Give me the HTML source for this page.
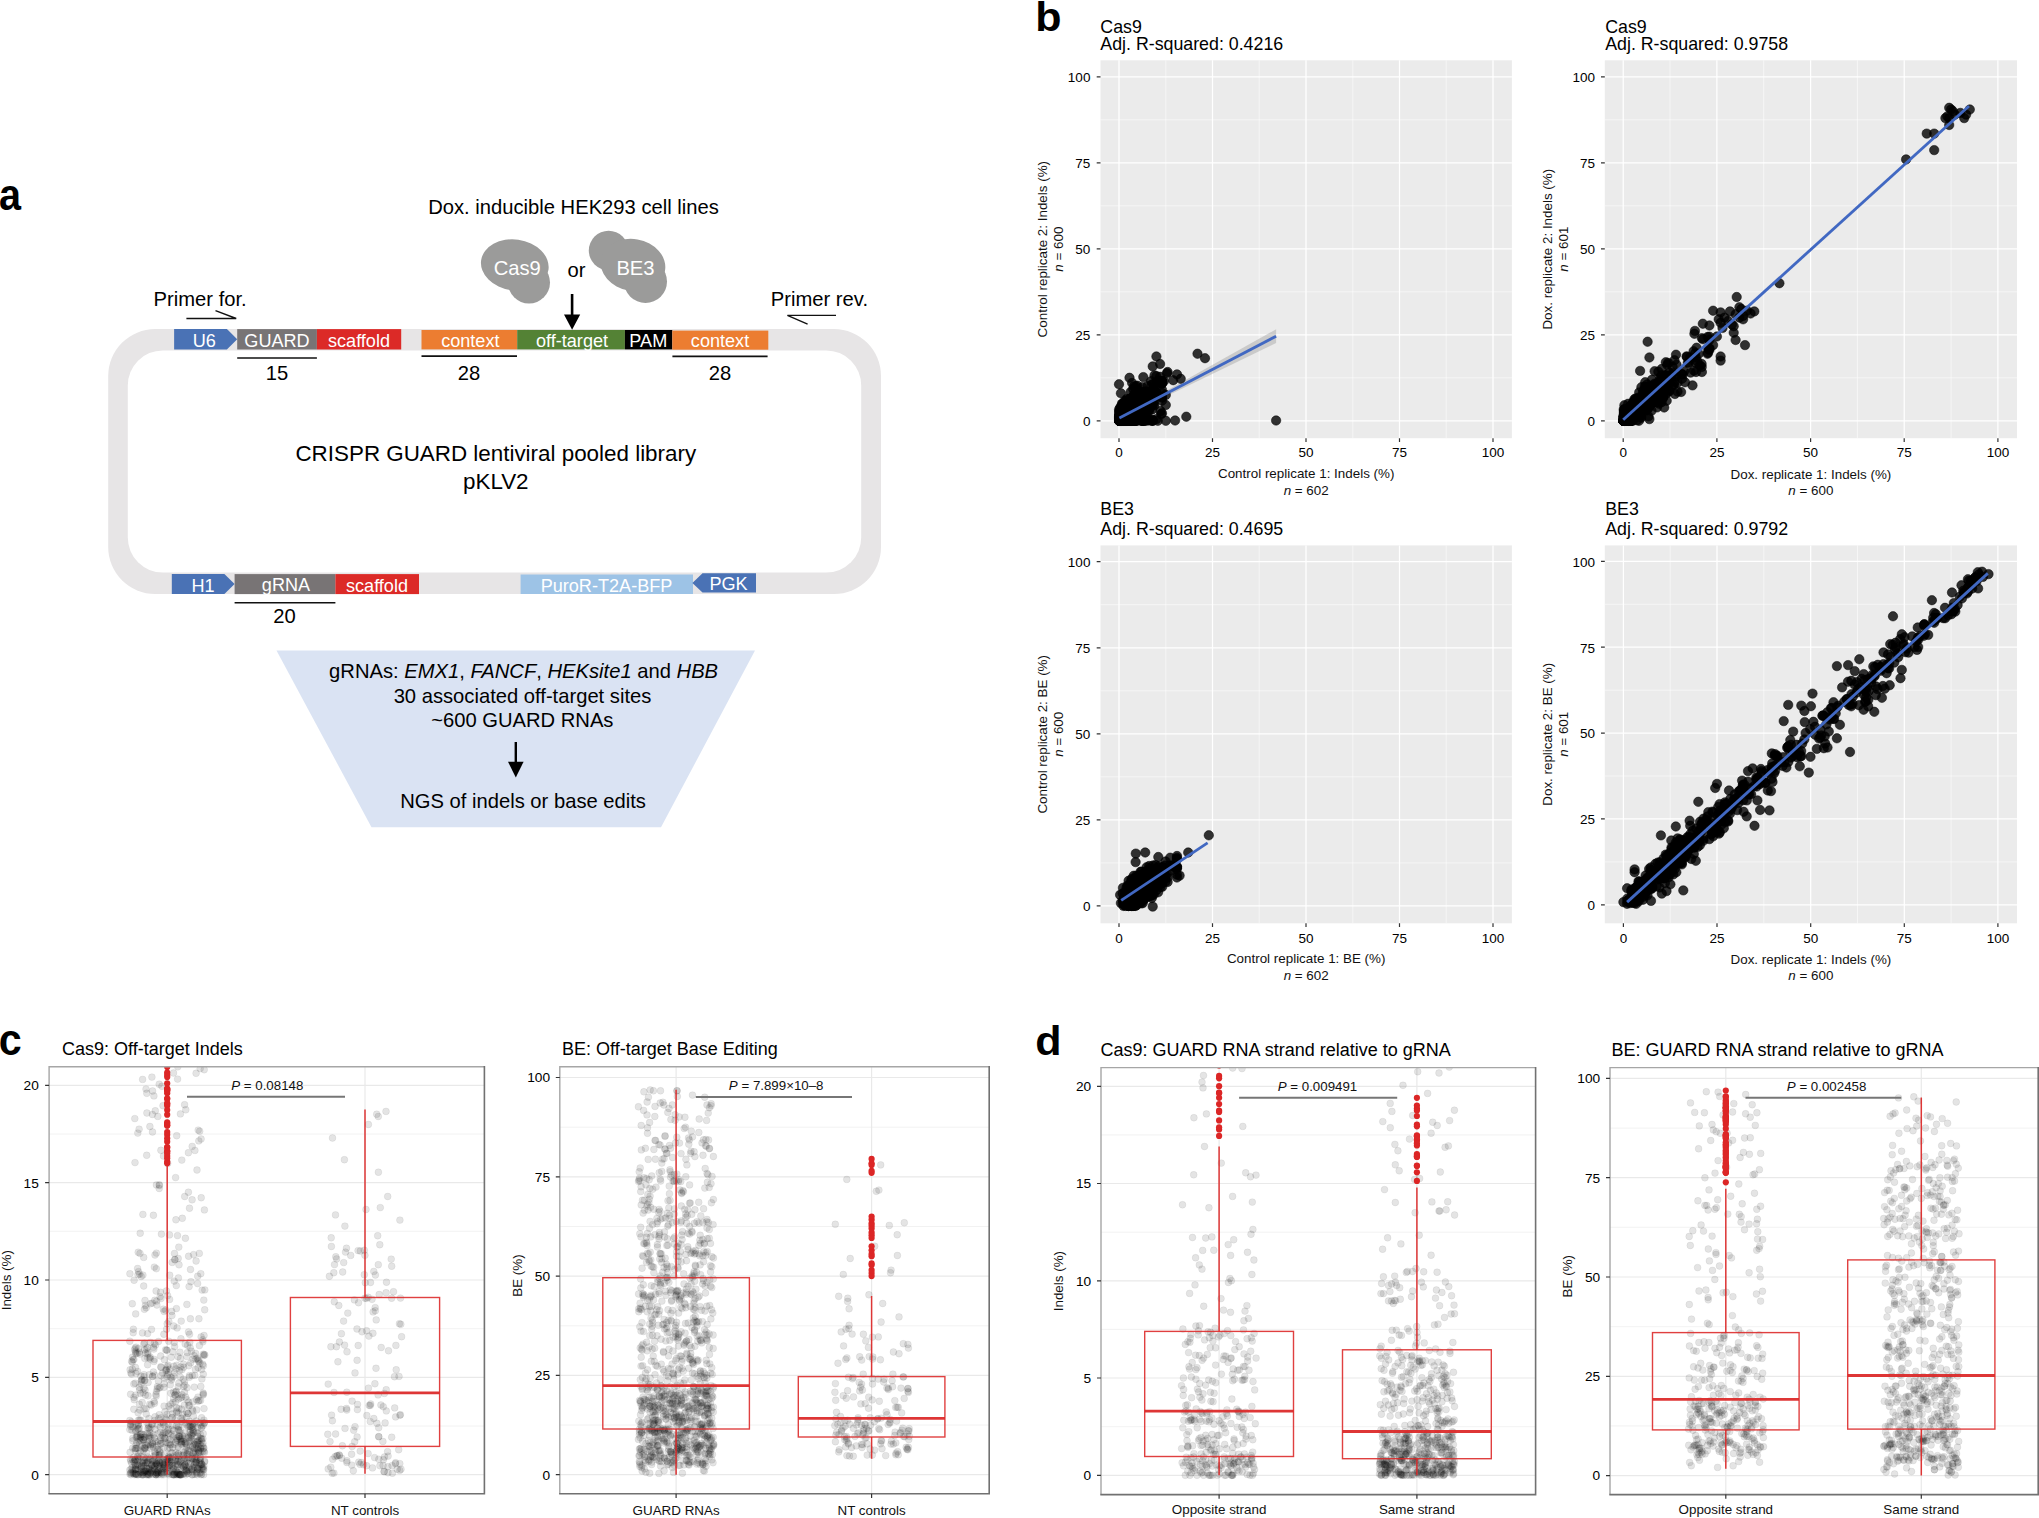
<!DOCTYPE html>
<html><head><meta charset="utf-8"><title>CRISPR GUARD figure</title>
<style>
html,body{margin:0;padding:0;background:#fff}
svg{display:block}
text{font-family:"Liberation Sans",Arial,Helvetica,sans-serif;fill:#000}
.w{fill:#fff}
.t20{font-size:20.2px}
.blk{font-size:18.1px;fill:#fff;text-anchor:middle}
.m{text-anchor:middle}
.e{text-anchor:end}
.tk{font-size:13.5px;fill:#000}
.ax{font-size:13.4px;fill:#111}
.tt{font-size:18px}
.pl{font-size:13.3px;fill:#111}
.lab{font-size:41.2px;font-weight:bold}
.bp circle{r:4.7px}
.jp circle{r:3.45px}
.op circle{r:3.1px}
</style></head><body>
<svg width="2039" height="1518" viewBox="0 0 2039 1518">
<rect width="2039" height="1518" fill="#fff"/>

<g id="panel-a">
<text class="lab" transform="translate(-1.1 210.2) scale(0.96 1.09)">a</text>
<rect x="108.2" y="329.1" width="772.8" height="265" rx="47" ry="47" fill="#e7e5e6"/>
<rect x="127.8" y="350.4" width="733.4" height="222.2" rx="35" ry="35" fill="#fff"/>
<path d="M174.1 329.1H226.9L237.2 339.3L226.9 349.5H174.1Z" fill="#4a72b5"/>
<rect x="237.2" y="329.1" width="79.7" height="20.4" fill="#787475"/>
<rect x="316.9" y="329.1" width="84.3" height="20.4" fill="#dc2a27"/>
<rect x="421.5" y="330" width="95.7" height="19.4" fill="#ec7d31"/>
<rect x="517.2" y="330" width="107.7" height="19.4" fill="#548235"/>
<rect x="624.9" y="330" width="47.4" height="19.4" fill="#000"/>
<rect x="672.3" y="330.6" width="96" height="19.1" fill="#ec7d31"/>
<text class="blk" x="204.2" y="346.6">U6</text>
<text class="blk" x="277" y="346.8">GUARD</text>
<text class="blk" x="359" y="346.8">scaffold</text>
<text class="blk" x="470.3" y="346.5">context</text>
<text class="blk" x="572" y="346.5">off-target</text>
<text class="blk" x="648.3" y="347.4">PAM</text>
<text class="blk" x="720" y="346.9">context</text>
<g stroke="#111" stroke-width="1.6">
<line x1="237.2" y1="358" x2="316.9" y2="358"/>
<line x1="421.5" y1="356.1" x2="517" y2="356.1"/>
<line x1="672.4" y1="356.4" x2="767.6" y2="356.4"/>
<line x1="234.6" y1="602.7" x2="335.4" y2="602.7"/>
</g>
<text class="t20 m" x="277" y="380.2">15</text>
<text class="t20 m" x="469" y="380">28</text>
<text class="t20 m" x="720" y="380">28</text>
<text class="t20 m" x="284.5" y="623.3">20</text>
<text class="t20" x="153.6" y="305.6">Primer for.</text>
<text class="t20" x="770.8" y="305.8">Primer rev.</text>
<path d="M186.4 318.5H236.2L215.5 310.6" fill="none" stroke="#111" stroke-width="1.4"/>
<path d="M836 315.4H787.4L807.6 324.2" fill="none" stroke="#111" stroke-width="1.4"/>
<text class="t20" x="428.2" y="213.8">Dox. inducible HEK293 cell lines</text>
<g fill="#9b9b9a">
<ellipse cx="514.8" cy="265" rx="34" ry="25.5" transform="rotate(8 514.8 265)"/>
<circle cx="529" cy="282.5" r="21"/>
<circle cx="608.6" cy="250.5" r="19.8"/>
<ellipse cx="633" cy="265" rx="32.5" ry="26" transform="rotate(10 633 265)"/>
<circle cx="645.5" cy="281.5" r="21.5"/>
</g>
<text class="t20 m w" x="517.3" y="274.6">Cas9</text>
<text class="t20 m w" x="635.5" y="274.6">BE3</text>
<text class="t20 m" x="576.4" y="276.8">or</text>
<path d="M572.1 294V316" stroke="#000" stroke-width="2.6" fill="none"/><path d="M564 314.4H580.2L572.1 329.8Z" fill="#000"/>
<text class="m" style="font-size:22.4px" x="495.8" y="461">CRISPR GUARD lentiviral pooled library</text>
<text class="m" style="font-size:22.4px" x="495.8" y="488.5">pKLV2</text>
<path d="M171.8 574.1H224.4L234.6 584.1L224.4 594.1H171.8Z" fill="#4a72b5"/>
<rect x="234.6" y="574.1" width="100.8" height="20" fill="#787475"/>
<rect x="335.4" y="574.1" width="83.6" height="20" fill="#dc2a27"/>
<rect x="520.6" y="574.5" width="172.4" height="19.5" fill="#9dc3e6"/>
<path d="M692.4 583L702.5 573.3H756V592.6H702.5Z" fill="#4a72b5"/>
<text class="blk" x="203" y="591.9">H1</text>
<text class="blk" x="286" y="590.8">gRNA</text>
<text class="blk" x="377" y="591.9">scaffold</text>
<text class="blk" x="606.5" y="591.7">PuroR-T2A-BFP</text>
<text class="blk" x="728.5" y="590.3">PGK</text>
<path d="M276.5 650.6H755L661 827.2H371.5Z" fill="#dae3f3"/>
<text class="t20 m" x="523.6" y="678.1">gRNAs: <tspan font-style="italic">EMX1</tspan>, <tspan font-style="italic">FANCF</tspan>, <tspan font-style="italic">HEKsite1</tspan> and <tspan font-style="italic">HBB</tspan></text>
<text class="t20 m" x="522.5" y="702.8">30 associated off-target sites</text>
<text class="t20 m" x="522.3" y="727.1">~600 GUARD RNAs</text>
<path d="M515.8 742V764" stroke="#000" stroke-width="2.4" fill="none"/><path d="M508 761.7H523.6L515.8 777.4Z" fill="#000"/>
<text class="t20 m" x="523.1" y="807.6">NGS of indels or base edits</text>
</g>
<g id="panel-b1">
<rect x="1100.5" y="60.3" width="411.4" height="377.9" fill="#ebebeb"/>
<path d="M1165.8 60.3V438.2M1100.5 377.8H1511.9M1259.2 60.3V438.2M1100.5 291.8H1511.9M1352.8 60.3V438.2M1100.5 205.8H1511.9M1446.2 60.3V438.2M1100.5 119.8H1511.9" stroke="#fff" stroke-width="0.6" fill="none" opacity="0.9"/>
<path d="M1119 60.3V438.2M1100.5 420.8H1511.9M1212.5 60.3V438.2M1100.5 334.8H1511.9M1306 60.3V438.2M1100.5 248.8H1511.9M1399.5 60.3V438.2M1100.5 162.8H1511.9M1493 60.3V438.2M1100.5 76.8H1511.9" stroke="#fff" stroke-width="1.25" fill="none"/>
<path d="M1119 438.2v3.8M1100.5 420.8h-3.8M1212.5 438.2v3.8M1100.5 334.8h-3.8M1306 438.2v3.8M1100.5 248.8h-3.8M1399.5 438.2v3.8M1100.5 162.8h-3.8M1493 438.2v3.8M1100.5 76.8h-3.8" stroke="#333" stroke-width="1.2" fill="none"/>
<text class="tk m" x="1119" y="457.4">0</text>
<text class="tk e" x="1090.4" y="426.1">0</text>
<text class="tk m" x="1212.5" y="457.4">25</text>
<text class="tk e" x="1090.4" y="340.1">25</text>
<text class="tk m" x="1306" y="457.4">50</text>
<text class="tk e" x="1090.4" y="254.1">50</text>
<text class="tk m" x="1399.5" y="457.4">75</text>
<text class="tk e" x="1090.4" y="168.1">75</text>
<text class="tk m" x="1493" y="457.4">100</text>
<text class="tk e" x="1090.4" y="82.1">100</text>
<path d="M1119 417.2L1276.1 329.3L1276.1 343.1L1119 419.3Z" fill="#999" opacity="0.4"/>
<g class="bp" fill="#000" fill-opacity="0.8" stroke="#000" stroke-opacity="0.85" stroke-width="0.6">
<circle cx="1127.7" cy="411.1"/><circle cx="1131.7" cy="420.2"/><circle cx="1126" cy="408.4"/><circle cx="1130" cy="420.5"/><circle cx="1121.5" cy="417.6"/><circle cx="1160.8" cy="383.4"/><circle cx="1119.1" cy="416"/><circle cx="1153.7" cy="383.9"/><circle cx="1126.1" cy="412.2"/><circle cx="1122.7" cy="418.4"/><circle cx="1125.7" cy="419.9"/><circle cx="1122.9" cy="420.8"/><circle cx="1130.1" cy="420.8"/><circle cx="1132.3" cy="406.6"/><circle cx="1142.3" cy="420.4"/><circle cx="1121.7" cy="415.6"/><circle cx="1157.8" cy="420.8"/><circle cx="1128.1" cy="416.3"/><circle cx="1123.3" cy="419.8"/><circle cx="1129.9" cy="419.4"/><circle cx="1119.9" cy="420.8"/><circle cx="1119.7" cy="419.9"/><circle cx="1134.1" cy="420.6"/><circle cx="1128.5" cy="410.7"/><circle cx="1146.1" cy="411.3"/><circle cx="1124.9" cy="415.6"/><circle cx="1125.4" cy="410.4"/><circle cx="1133.6" cy="420.8"/><circle cx="1125.5" cy="415.9"/><circle cx="1119.3" cy="416.1"/><circle cx="1122.6" cy="413"/><circle cx="1131.5" cy="398"/><circle cx="1126.8" cy="406.7"/><circle cx="1136.2" cy="406.2"/><circle cx="1119.1" cy="417.3"/><circle cx="1130.2" cy="406.5"/><circle cx="1122.1" cy="419.9"/><circle cx="1123.4" cy="416.5"/><circle cx="1152.7" cy="420.8"/><circle cx="1136.3" cy="390.4"/><circle cx="1162" cy="397.7"/><circle cx="1140.6" cy="407.4"/><circle cx="1146.7" cy="401"/><circle cx="1120.8" cy="420.4"/><circle cx="1122.7" cy="419.8"/><circle cx="1121.9" cy="409.3"/><circle cx="1133.2" cy="420.6"/><circle cx="1134.1" cy="412.1"/><circle cx="1120.6" cy="418.8"/><circle cx="1123.7" cy="411.5"/><circle cx="1132.2" cy="402.7"/><circle cx="1119.8" cy="420.3"/><circle cx="1120.2" cy="420.8"/><circle cx="1129.8" cy="410.2"/><circle cx="1142.1" cy="413.4"/><circle cx="1152.3" cy="420.8"/><circle cx="1127.7" cy="419.8"/><circle cx="1135.1" cy="405.3"/><circle cx="1128.4" cy="410"/><circle cx="1130.6" cy="416.1"/><circle cx="1120.8" cy="412.6"/><circle cx="1149.8" cy="405"/><circle cx="1129.9" cy="404.3"/><circle cx="1129.8" cy="419.8"/><circle cx="1119.3" cy="420.8"/><circle cx="1132.4" cy="420.8"/><circle cx="1132.1" cy="417.4"/><circle cx="1132.1" cy="405.9"/><circle cx="1126" cy="420.5"/><circle cx="1135.8" cy="418.1"/><circle cx="1138.4" cy="407.3"/><circle cx="1127" cy="416.7"/><circle cx="1123.3" cy="411.1"/><circle cx="1140" cy="413.9"/><circle cx="1127.3" cy="417.2"/><circle cx="1128.3" cy="404.9"/><circle cx="1120.4" cy="407.1"/><circle cx="1122" cy="406.3"/><circle cx="1144.3" cy="404"/><circle cx="1128" cy="412.2"/><circle cx="1119.3" cy="411.6"/><circle cx="1135.4" cy="410.9"/><circle cx="1125.1" cy="420.8"/><circle cx="1155.4" cy="396.9"/><circle cx="1129.4" cy="409.6"/><circle cx="1131.1" cy="418.7"/><circle cx="1124.4" cy="420.8"/><circle cx="1119.2" cy="420.8"/><circle cx="1162" cy="383.6"/><circle cx="1124.8" cy="420.2"/><circle cx="1144.5" cy="406.3"/><circle cx="1120.8" cy="416.7"/><circle cx="1152.8" cy="391.1"/><circle cx="1119.2" cy="420.2"/><circle cx="1129.6" cy="409.1"/><circle cx="1120.1" cy="420.8"/><circle cx="1121.3" cy="419.3"/><circle cx="1138.6" cy="418.4"/><circle cx="1151.7" cy="384.7"/><circle cx="1127.4" cy="414.3"/><circle cx="1137" cy="416"/><circle cx="1132.4" cy="414.3"/><circle cx="1124.9" cy="416.9"/><circle cx="1146.5" cy="394.7"/><circle cx="1141.7" cy="420.8"/><circle cx="1123.2" cy="420.8"/><circle cx="1127.9" cy="416.5"/><circle cx="1133.2" cy="389"/><circle cx="1133.2" cy="402.7"/><circle cx="1120" cy="420"/><circle cx="1162" cy="382.8"/><circle cx="1119.1" cy="409.5"/><circle cx="1136.3" cy="411.4"/><circle cx="1134.8" cy="413.3"/><circle cx="1122.5" cy="410.1"/><circle cx="1127.4" cy="420.7"/><circle cx="1123.6" cy="412.3"/><circle cx="1119.2" cy="420.8"/><circle cx="1129" cy="399"/><circle cx="1133.8" cy="395.5"/><circle cx="1133.2" cy="406"/><circle cx="1162" cy="383.3"/><circle cx="1121.1" cy="420.8"/><circle cx="1121.4" cy="414.1"/><circle cx="1126.2" cy="416"/><circle cx="1121.6" cy="419.8"/><circle cx="1125.8" cy="410.6"/><circle cx="1153.5" cy="404.7"/><circle cx="1135.6" cy="420.8"/><circle cx="1126.4" cy="412.2"/><circle cx="1128.2" cy="419.9"/><circle cx="1162" cy="400.7"/><circle cx="1125.7" cy="418.9"/><circle cx="1133" cy="414"/><circle cx="1142.2" cy="420.8"/><circle cx="1134.4" cy="399.3"/><circle cx="1134" cy="408.2"/><circle cx="1139.4" cy="395.9"/><circle cx="1122.1" cy="406.4"/><circle cx="1126.5" cy="414.5"/><circle cx="1135.9" cy="420.8"/><circle cx="1127.4" cy="420.3"/><circle cx="1146.3" cy="418.8"/><circle cx="1120.4" cy="420.4"/><circle cx="1125.8" cy="414.5"/><circle cx="1123.3" cy="420.8"/><circle cx="1132.3" cy="408.5"/><circle cx="1124.9" cy="420.7"/><circle cx="1162" cy="389.9"/><circle cx="1130.1" cy="413.5"/><circle cx="1152.1" cy="404.9"/><circle cx="1139.9" cy="420.2"/><circle cx="1133.2" cy="415.6"/><circle cx="1134" cy="415.9"/><circle cx="1126.3" cy="420.8"/><circle cx="1123" cy="416.7"/><circle cx="1122.2" cy="406.9"/><circle cx="1120.4" cy="408.3"/><circle cx="1147.5" cy="386"/><circle cx="1126.8" cy="409.6"/><circle cx="1122.7" cy="420.4"/><circle cx="1135.3" cy="396.3"/><circle cx="1125.8" cy="415.4"/><circle cx="1130.4" cy="413"/><circle cx="1149.4" cy="405.9"/><circle cx="1121.8" cy="416.7"/><circle cx="1129.9" cy="416.1"/><circle cx="1120.2" cy="418.5"/><circle cx="1124.1" cy="420.8"/><circle cx="1126.8" cy="417"/><circle cx="1122.4" cy="404.4"/><circle cx="1119.1" cy="419"/><circle cx="1123.2" cy="417.8"/><circle cx="1140.6" cy="401.1"/><circle cx="1134.9" cy="403.5"/><circle cx="1125.8" cy="420.8"/><circle cx="1121.6" cy="418.4"/><circle cx="1146.2" cy="392.3"/><circle cx="1135.8" cy="406.9"/><circle cx="1162" cy="392.9"/><circle cx="1124.8" cy="405.9"/><circle cx="1145.9" cy="412.3"/><circle cx="1119.7" cy="418"/><circle cx="1119.5" cy="420.8"/><circle cx="1119.3" cy="411.7"/><circle cx="1119.7" cy="420.8"/><circle cx="1124.5" cy="419.8"/><circle cx="1119.8" cy="420.8"/><circle cx="1138.1" cy="401.5"/><circle cx="1119.4" cy="415.7"/><circle cx="1125.1" cy="420.2"/><circle cx="1121.6" cy="420.8"/><circle cx="1129.4" cy="407.4"/><circle cx="1119.3" cy="419.9"/><circle cx="1125.8" cy="419.3"/><circle cx="1154.7" cy="391"/><circle cx="1132.8" cy="419"/><circle cx="1123.6" cy="420.8"/><circle cx="1138.7" cy="411.6"/><circle cx="1127.7" cy="420.8"/><circle cx="1121.1" cy="420.8"/><circle cx="1140.4" cy="402.9"/><circle cx="1119.9" cy="420.1"/><circle cx="1138.9" cy="391.4"/><circle cx="1143.7" cy="407.5"/><circle cx="1131.3" cy="420.8"/><circle cx="1123.3" cy="420.7"/><circle cx="1143.6" cy="415.9"/><circle cx="1120.5" cy="420.8"/><circle cx="1124.5" cy="413"/><circle cx="1135.9" cy="415.5"/><circle cx="1131.1" cy="420.8"/><circle cx="1129.3" cy="407.8"/><circle cx="1162" cy="396.9"/><circle cx="1128.6" cy="410.9"/><circle cx="1121.9" cy="416.6"/><circle cx="1126.9" cy="410.1"/><circle cx="1137.5" cy="408.2"/><circle cx="1120.9" cy="411.5"/><circle cx="1137.6" cy="404.3"/><circle cx="1153.7" cy="393.8"/><circle cx="1129.4" cy="409.9"/><circle cx="1120" cy="420.8"/><circle cx="1122.5" cy="417.7"/><circle cx="1124.4" cy="417.3"/><circle cx="1128" cy="412.3"/><circle cx="1125.4" cy="420.8"/><circle cx="1142.4" cy="387.2"/><circle cx="1130.9" cy="411.3"/><circle cx="1122.3" cy="420.8"/><circle cx="1119.4" cy="420.8"/><circle cx="1122.3" cy="420.5"/><circle cx="1122.4" cy="417.4"/><circle cx="1137.4" cy="415.7"/><circle cx="1123.7" cy="420.4"/><circle cx="1149.3" cy="410.6"/><circle cx="1130.5" cy="408"/><circle cx="1133.5" cy="417.1"/><circle cx="1138.9" cy="408.2"/><circle cx="1119.2" cy="414.2"/><circle cx="1130.6" cy="392.1"/><circle cx="1120.7" cy="420.8"/><circle cx="1130.1" cy="416.2"/><circle cx="1138.8" cy="416.4"/><circle cx="1125.8" cy="409.9"/><circle cx="1123.1" cy="420.8"/><circle cx="1136.1" cy="413.9"/><circle cx="1126" cy="415.1"/><circle cx="1121.9" cy="420.8"/><circle cx="1124.6" cy="420.8"/><circle cx="1126.5" cy="417.8"/><circle cx="1120.2" cy="420.8"/><circle cx="1130.3" cy="420.8"/><circle cx="1154.3" cy="405.4"/><circle cx="1124.9" cy="414.5"/><circle cx="1119.4" cy="419.3"/><circle cx="1136.6" cy="420.8"/><circle cx="1121.8" cy="419.6"/><circle cx="1120" cy="414.3"/><circle cx="1120.6" cy="415.1"/><circle cx="1119.3" cy="418.9"/><circle cx="1124.8" cy="420.8"/><circle cx="1129" cy="408.6"/><circle cx="1122.4" cy="420"/><circle cx="1136.6" cy="420.3"/><circle cx="1129.1" cy="419.1"/><circle cx="1123.7" cy="420.6"/><circle cx="1127.8" cy="412.3"/><circle cx="1135.9" cy="398.5"/><circle cx="1123.2" cy="419.2"/><circle cx="1126.4" cy="408.4"/><circle cx="1121.4" cy="420.5"/><circle cx="1123" cy="417.4"/><circle cx="1152.7" cy="420.5"/><circle cx="1129.9" cy="406.8"/><circle cx="1127.3" cy="417.6"/><circle cx="1150.8" cy="402.4"/><circle cx="1120.3" cy="416.4"/><circle cx="1142.1" cy="392.3"/><circle cx="1147" cy="409.5"/><circle cx="1122.7" cy="420.8"/><circle cx="1136.5" cy="411.8"/><circle cx="1143.1" cy="405.2"/><circle cx="1145.7" cy="420.6"/><circle cx="1132.1" cy="400.5"/><circle cx="1120" cy="416.7"/><circle cx="1120.3" cy="414.1"/><circle cx="1161.1" cy="414.1"/><circle cx="1139.7" cy="398.1"/><circle cx="1162" cy="381.2"/><circle cx="1130" cy="406.7"/><circle cx="1139.1" cy="405"/><circle cx="1119.5" cy="417.7"/><circle cx="1134.1" cy="394.5"/><circle cx="1123.8" cy="420.8"/><circle cx="1127.6" cy="414.8"/><circle cx="1120.5" cy="415.6"/><circle cx="1148.3" cy="392.9"/><circle cx="1128.6" cy="416.6"/><circle cx="1126.5" cy="419.9"/><circle cx="1126.7" cy="416.4"/><circle cx="1119.4" cy="418"/><circle cx="1153.9" cy="401.4"/><circle cx="1126.4" cy="420.8"/><circle cx="1123.6" cy="416.3"/><circle cx="1123.4" cy="411.2"/><circle cx="1139.9" cy="417.5"/><circle cx="1125.7" cy="416.6"/><circle cx="1122.3" cy="413.3"/><circle cx="1162" cy="413.3"/><circle cx="1126.7" cy="413.3"/><circle cx="1121.7" cy="420.8"/><circle cx="1136.1" cy="419.9"/><circle cx="1137.4" cy="385.7"/><circle cx="1125.3" cy="402.5"/><circle cx="1122.6" cy="417.9"/><circle cx="1162" cy="382.3"/><circle cx="1123.1" cy="415.8"/><circle cx="1124.6" cy="415"/><circle cx="1157.2" cy="381.2"/><circle cx="1124.2" cy="420.8"/><circle cx="1123" cy="410.5"/><circle cx="1146.5" cy="404.2"/><circle cx="1128.2" cy="420.4"/><circle cx="1131.2" cy="410.5"/><circle cx="1124.8" cy="419.7"/><circle cx="1139.9" cy="404.3"/><circle cx="1120.5" cy="414.3"/><circle cx="1141.9" cy="420.1"/><circle cx="1122" cy="414.5"/><circle cx="1123.3" cy="419.4"/><circle cx="1119.4" cy="420.8"/><circle cx="1142.8" cy="420.3"/><circle cx="1140.8" cy="399.1"/><circle cx="1146.8" cy="401.5"/><circle cx="1123.2" cy="416"/><circle cx="1121.4" cy="412"/><circle cx="1140.6" cy="411.8"/><circle cx="1125" cy="419.8"/><circle cx="1139.1" cy="409.6"/><circle cx="1125" cy="408"/><circle cx="1125.5" cy="420.8"/><circle cx="1119.4" cy="420.5"/><circle cx="1138.1" cy="414.6"/><circle cx="1123.6" cy="420.4"/><circle cx="1120.2" cy="412"/><circle cx="1133.6" cy="411.5"/><circle cx="1127.1" cy="420.8"/><circle cx="1124" cy="418.1"/><circle cx="1141.8" cy="395.8"/><circle cx="1123.9" cy="409"/><circle cx="1130.4" cy="419.8"/><circle cx="1122.6" cy="414.5"/><circle cx="1135.5" cy="403"/><circle cx="1152.1" cy="409.6"/><circle cx="1137.1" cy="405.3"/><circle cx="1125.4" cy="415.4"/><circle cx="1149" cy="409.3"/><circle cx="1131.8" cy="415.7"/><circle cx="1121.4" cy="417.1"/><circle cx="1121.8" cy="417"/><circle cx="1121.1" cy="420.4"/><circle cx="1139.2" cy="420.4"/><circle cx="1162" cy="381.2"/><circle cx="1140.2" cy="404.7"/><circle cx="1119.6" cy="414.3"/><circle cx="1129.3" cy="404"/><circle cx="1148.1" cy="395"/><circle cx="1126.9" cy="398.9"/><circle cx="1119.4" cy="420.8"/><circle cx="1123.1" cy="411.9"/><circle cx="1123.2" cy="418.2"/><circle cx="1121.2" cy="408"/><circle cx="1122.9" cy="407"/><circle cx="1145.2" cy="420.8"/><circle cx="1134.2" cy="419"/><circle cx="1127" cy="409.8"/><circle cx="1144.2" cy="395.4"/><circle cx="1146.7" cy="394.2"/><circle cx="1126.1" cy="415.3"/><circle cx="1130.4" cy="408.9"/><circle cx="1123.5" cy="412.5"/><circle cx="1121.6" cy="417.7"/><circle cx="1127.3" cy="407"/><circle cx="1119.8" cy="420.8"/><circle cx="1127.6" cy="409.6"/><circle cx="1120.4" cy="420.8"/><circle cx="1126.4" cy="408.3"/><circle cx="1130.1" cy="420.2"/><circle cx="1125.5" cy="420.8"/><circle cx="1140.9" cy="402.6"/><circle cx="1126.2" cy="419.8"/><circle cx="1126.5" cy="420.7"/><circle cx="1121.1" cy="420.8"/><circle cx="1129.8" cy="413"/><circle cx="1148.4" cy="420.5"/><circle cx="1145.7" cy="391.4"/><circle cx="1120.3" cy="418.7"/><circle cx="1140.7" cy="395.4"/><circle cx="1135.5" cy="409.4"/><circle cx="1142.8" cy="406.7"/><circle cx="1148.4" cy="395"/><circle cx="1132.4" cy="402.4"/><circle cx="1129.5" cy="415.5"/><circle cx="1142.7" cy="408.4"/><circle cx="1136" cy="410.9"/><circle cx="1123.9" cy="415.5"/><circle cx="1134.8" cy="418.2"/><circle cx="1124.1" cy="409.8"/><circle cx="1133.9" cy="420"/><circle cx="1127" cy="411.2"/><circle cx="1123.4" cy="420.8"/><circle cx="1124.2" cy="413.7"/><circle cx="1119.1" cy="416.9"/><circle cx="1143.1" cy="410.3"/><circle cx="1126.8" cy="400.8"/><circle cx="1123.8" cy="413.9"/><circle cx="1126.9" cy="402.3"/><circle cx="1135.3" cy="400.8"/><circle cx="1128.4" cy="418.3"/><circle cx="1124.2" cy="418.2"/><circle cx="1132.9" cy="407.3"/><circle cx="1130.7" cy="411.8"/><circle cx="1148.7" cy="401.7"/><circle cx="1120.2" cy="419.5"/><circle cx="1131.1" cy="420.8"/><circle cx="1129.6" cy="414.6"/><circle cx="1134.7" cy="420.8"/><circle cx="1119.7" cy="416.6"/><circle cx="1123.4" cy="420.5"/><circle cx="1121" cy="420.8"/><circle cx="1125.2" cy="416.7"/><circle cx="1145" cy="401.1"/><circle cx="1121.7" cy="420.8"/><circle cx="1133.6" cy="420.7"/><circle cx="1147.3" cy="416.8"/><circle cx="1130.9" cy="420.8"/><circle cx="1130" cy="420.1"/><circle cx="1151.1" cy="381.2"/><circle cx="1140.2" cy="418.3"/><circle cx="1127.6" cy="409.4"/><circle cx="1142.5" cy="420"/><circle cx="1127.4" cy="412"/><circle cx="1125.3" cy="417.3"/><circle cx="1132.4" cy="411.9"/><circle cx="1139.1" cy="401.7"/><circle cx="1125.6" cy="403.8"/><circle cx="1134.6" cy="408.4"/><circle cx="1129.4" cy="412"/><circle cx="1127.4" cy="420.8"/><circle cx="1143.1" cy="398.7"/><circle cx="1121.8" cy="418.5"/><circle cx="1120.4" cy="413.9"/><circle cx="1133.8" cy="410.9"/><circle cx="1129.2" cy="400.1"/><circle cx="1152.7" cy="420"/><circle cx="1131" cy="414.5"/><circle cx="1146.3" cy="392.7"/><circle cx="1127.1" cy="416.7"/><circle cx="1119.5" cy="420.8"/><circle cx="1132.1" cy="413.7"/><circle cx="1122.1" cy="420.8"/><circle cx="1125.5" cy="414.4"/><circle cx="1159.5" cy="381.2"/><circle cx="1126.4" cy="407.1"/><circle cx="1126.7" cy="420.8"/><circle cx="1125.9" cy="420.6"/><circle cx="1148.4" cy="419.9"/><circle cx="1120.8" cy="412.8"/><circle cx="1125.9" cy="420.3"/><circle cx="1122.2" cy="419.8"/><circle cx="1124.4" cy="410.4"/><circle cx="1132.9" cy="403.6"/><circle cx="1126.1" cy="417.3"/><circle cx="1144.3" cy="418.1"/><circle cx="1134.3" cy="420.1"/><circle cx="1124.6" cy="419.9"/><circle cx="1126.1" cy="420.8"/><circle cx="1124.9" cy="410.8"/><circle cx="1129.6" cy="417.7"/><circle cx="1139" cy="402.7"/><circle cx="1162" cy="381.2"/><circle cx="1121.4" cy="411.4"/><circle cx="1136.9" cy="420.1"/><circle cx="1122.5" cy="412"/><circle cx="1142.9" cy="392.2"/><circle cx="1133.4" cy="419.8"/><circle cx="1125.3" cy="420.8"/><circle cx="1129.9" cy="413.6"/><circle cx="1143.3" cy="420.8"/><circle cx="1123.8" cy="407.4"/><circle cx="1143.7" cy="420.8"/><circle cx="1130.3" cy="420.8"/><circle cx="1151" cy="420.5"/><circle cx="1139.4" cy="409.9"/><circle cx="1131" cy="410.8"/><circle cx="1126.7" cy="412.6"/><circle cx="1140" cy="409.4"/><circle cx="1142.1" cy="420.3"/><circle cx="1120.9" cy="420.8"/><circle cx="1139.3" cy="407.6"/><circle cx="1124.6" cy="420"/><circle cx="1129.2" cy="412.1"/><circle cx="1119.5" cy="417.4"/><circle cx="1160.6" cy="411"/><circle cx="1126.6" cy="418.8"/><circle cx="1132" cy="405"/><circle cx="1146.3" cy="399.3"/><circle cx="1129.5" cy="418.1"/><circle cx="1123.6" cy="404.3"/><circle cx="1123.4" cy="403"/><circle cx="1142.4" cy="420.6"/><circle cx="1123.9" cy="414.2"/><circle cx="1122" cy="403.6"/><circle cx="1143.5" cy="396"/><circle cx="1121.1" cy="416.4"/><circle cx="1136.9" cy="410.9"/><circle cx="1123.5" cy="419.4"/><circle cx="1119.6" cy="419.4"/><circle cx="1145.4" cy="410.9"/><circle cx="1153.4" cy="388.9"/><circle cx="1139.8" cy="411.5"/><circle cx="1125.9" cy="417.8"/><circle cx="1120.1" cy="420.8"/><circle cx="1122.8" cy="416.9"/><circle cx="1125.7" cy="420.8"/><circle cx="1141.5" cy="408.3"/><circle cx="1162" cy="381.2"/><circle cx="1124.3" cy="413.6"/><circle cx="1123.7" cy="413.2"/><circle cx="1122.9" cy="414.6"/><circle cx="1133.7" cy="410.1"/><circle cx="1125.5" cy="416"/><circle cx="1122.3" cy="418.6"/><circle cx="1124" cy="411.5"/><circle cx="1141.3" cy="418.4"/><circle cx="1123.5" cy="408.5"/><circle cx="1130.5" cy="412.1"/><circle cx="1120.1" cy="420.8"/><circle cx="1121" cy="420.1"/><circle cx="1121.5" cy="420.8"/><circle cx="1121.9" cy="420.7"/><circle cx="1121.6" cy="420.8"/><circle cx="1136.1" cy="398.4"/><circle cx="1119.7" cy="420.8"/><circle cx="1120.6" cy="420.8"/><circle cx="1124.5" cy="420.2"/><circle cx="1132.8" cy="420.8"/><circle cx="1119.1" cy="418.9"/><circle cx="1128.4" cy="420.3"/><circle cx="1125" cy="411.4"/><circle cx="1123.5" cy="420.8"/><circle cx="1141.4" cy="414.8"/><circle cx="1121.4" cy="408.2"/><circle cx="1125.3" cy="413.3"/><circle cx="1124.9" cy="415.5"/><circle cx="1133.1" cy="401.9"/><circle cx="1136" cy="386.2"/><circle cx="1124.9" cy="420.1"/><circle cx="1146.5" cy="401.8"/><circle cx="1135.7" cy="420"/><circle cx="1122.8" cy="413.2"/><circle cx="1119.1" cy="420.8"/><circle cx="1141.4" cy="418.1"/><circle cx="1137.4" cy="408"/><circle cx="1131.2" cy="419.8"/><circle cx="1120.1" cy="418.4"/><circle cx="1132.3" cy="420.5"/><circle cx="1125.1" cy="400.7"/><circle cx="1121.1" cy="420.8"/><circle cx="1131.4" cy="412.9"/><circle cx="1119.2" cy="419.3"/><circle cx="1156" cy="391.6"/><circle cx="1130.8" cy="403.9"/><circle cx="1125.9" cy="418.1"/><circle cx="1123.9" cy="420.8"/><circle cx="1123.4" cy="420.8"/><circle cx="1138.6" cy="417.4"/><circle cx="1133.9" cy="405.7"/><circle cx="1124.1" cy="415.6"/><circle cx="1133" cy="419.7"/><circle cx="1119.6" cy="420.5"/><circle cx="1126" cy="414.6"/><circle cx="1125.1" cy="412.2"/><circle cx="1128.3" cy="417.9"/><circle cx="1276.1" cy="420.5"/><circle cx="1197.5" cy="353.7"/><circle cx="1205" cy="358.2"/><circle cx="1186.3" cy="416.7"/><circle cx="1175.1" cy="420.5"/><circle cx="1165.8" cy="420.8"/><circle cx="1156.4" cy="356.5"/><circle cx="1160.1" cy="364"/><circle cx="1152.7" cy="366.4"/><circle cx="1143.3" cy="377.1"/><circle cx="1129.5" cy="377.8"/><circle cx="1119" cy="384.3"/><circle cx="1177" cy="374.4"/><circle cx="1180.7" cy="378.8"/><circle cx="1167.6" cy="372"/><circle cx="1165.8" cy="405"/><circle cx="1165.8" cy="395"/><circle cx="1156.4" cy="376.1"/><circle cx="1120.9" cy="393.3"/><circle cx="1132.1" cy="383"/><circle cx="1134" cy="386.4"/><circle cx="1156.4" cy="419.1"/><circle cx="1163.9" cy="381.2"/><circle cx="1173.2" cy="380.2"/><circle cx="1160.1" cy="376.8"/><circle cx="1154.5" cy="375.4"/><circle cx="1166.9" cy="373.3"/>
</g>
<line x1="1119.4" y1="418" x2="1276.1" y2="336.2" stroke="#4168c2" stroke-width="2.85"/>
<text class="tt" style="font-size:17.8px" x="1100.3" y="32.6">Cas9</text>
<text class="tt" style="font-size:17.8px" x="1100.3" y="49.5">Adj. R-squared: 0.4216</text>
<text class="ax m" x="1306.2" y="477.7">Control replicate 1: Indels (%)</text>
<text class="ax m" x="1306.2" y="494.5"><tspan font-style="italic">n</tspan> = 602</text>
<text class="ax m" transform="translate(1046.6 249.2) rotate(-90)">Control replicate 2: Indels (%)</text>
<text class="ax m" transform="translate(1062.6 249.2) rotate(-90)"><tspan font-style="italic">n</tspan> = 600</text>
</g>
<g id="panel-b2">
<rect x="1604.8" y="60.3" width="412.2" height="377.9" fill="#ebebeb"/>
<path d="M1670 60.3V438.2M1604.8 377.8H2017M1763.7 60.3V438.2M1604.8 291.8H2017M1857.4 60.3V438.2M1604.8 205.8H2017M1951.1 60.3V438.2M1604.8 119.8H2017" stroke="#fff" stroke-width="0.6" fill="none" opacity="0.9"/>
<path d="M1623.2 60.3V438.2M1604.8 420.8H2017M1716.9 60.3V438.2M1604.8 334.8H2017M1810.6 60.3V438.2M1604.8 248.8H2017M1904.2 60.3V438.2M1604.8 162.8H2017M1997.9 60.3V438.2M1604.8 76.8H2017" stroke="#fff" stroke-width="1.25" fill="none"/>
<path d="M1623.2 438.2v3.8M1604.8 420.8h-3.8M1716.9 438.2v3.8M1604.8 334.8h-3.8M1810.6 438.2v3.8M1604.8 248.8h-3.8M1904.2 438.2v3.8M1604.8 162.8h-3.8M1997.9 438.2v3.8M1604.8 76.8h-3.8" stroke="#333" stroke-width="1.2" fill="none"/>
<text class="tk m" x="1623.2" y="457.4">0</text>
<text class="tk e" x="1595" y="426.1">0</text>
<text class="tk m" x="1716.9" y="457.4">25</text>
<text class="tk e" x="1595" y="340.1">25</text>
<text class="tk m" x="1810.6" y="457.4">50</text>
<text class="tk e" x="1595" y="254.1">50</text>
<text class="tk m" x="1904.2" y="457.4">75</text>
<text class="tk e" x="1595" y="168.1">75</text>
<text class="tk m" x="1997.9" y="457.4">100</text>
<text class="tk e" x="1595" y="82.1">100</text>
<g class="bp" fill="#000" fill-opacity="0.8" stroke="#000" stroke-opacity="0.85" stroke-width="0.6">
<circle cx="1666.8" cy="375.9"/><circle cx="1654.8" cy="395"/><circle cx="1639.3" cy="400.7"/><circle cx="1627.2" cy="415.9"/><circle cx="1639.9" cy="407.3"/><circle cx="1687.8" cy="362.8"/><circle cx="1635.8" cy="411.8"/><circle cx="1635.9" cy="404.4"/><circle cx="1645.2" cy="402.5"/><circle cx="1628.3" cy="414.6"/><circle cx="1643.7" cy="404.6"/><circle cx="1645.9" cy="410.3"/><circle cx="1644.6" cy="394.9"/><circle cx="1634.2" cy="416.7"/><circle cx="1636.7" cy="404.3"/><circle cx="1634.5" cy="408"/><circle cx="1630.9" cy="420.8"/><circle cx="1659.4" cy="395.6"/><circle cx="1626.3" cy="420.4"/><circle cx="1623.8" cy="420.8"/><circle cx="1648.7" cy="406"/><circle cx="1651.5" cy="389.2"/><circle cx="1624.5" cy="420.7"/><circle cx="1647.4" cy="395.8"/><circle cx="1647.8" cy="401.3"/><circle cx="1636.1" cy="407.2"/><circle cx="1682.7" cy="374.5"/><circle cx="1638.2" cy="407.2"/><circle cx="1625.3" cy="416.2"/><circle cx="1638.6" cy="406.4"/><circle cx="1644.8" cy="404.1"/><circle cx="1682.1" cy="378.7"/><circle cx="1635" cy="409"/><circle cx="1636.9" cy="406.1"/><circle cx="1695.8" cy="357.4"/><circle cx="1628.3" cy="420"/><circle cx="1646.7" cy="395.4"/><circle cx="1628.1" cy="403.8"/><circle cx="1623.4" cy="420.8"/><circle cx="1624.5" cy="418"/><circle cx="1630.4" cy="412.2"/><circle cx="1625.7" cy="420.8"/><circle cx="1709.4" cy="340"/><circle cx="1645" cy="405.6"/><circle cx="1644.8" cy="391.5"/><circle cx="1628.9" cy="416.8"/><circle cx="1630.7" cy="418"/><circle cx="1662.7" cy="386.5"/><circle cx="1626.7" cy="416.7"/><circle cx="1643.8" cy="405.7"/><circle cx="1649.8" cy="396.8"/><circle cx="1634.4" cy="418.2"/><circle cx="1658.5" cy="390.2"/><circle cx="1633.1" cy="407.4"/><circle cx="1634.4" cy="399.2"/><circle cx="1629.7" cy="411.2"/><circle cx="1625.4" cy="417.5"/><circle cx="1661.6" cy="375.2"/><circle cx="1649.3" cy="389.3"/><circle cx="1645" cy="389.4"/><circle cx="1633.9" cy="404.9"/><circle cx="1674.4" cy="375"/><circle cx="1642.4" cy="401.5"/><circle cx="1689.9" cy="357.5"/><circle cx="1626.8" cy="416"/><circle cx="1630.8" cy="412.7"/><circle cx="1643.9" cy="407.1"/><circle cx="1651.5" cy="410.8"/><circle cx="1634.5" cy="414.2"/><circle cx="1629.8" cy="420.8"/><circle cx="1638.2" cy="406.6"/><circle cx="1635.8" cy="409.2"/><circle cx="1640.6" cy="415.5"/><circle cx="1676.5" cy="364.7"/><circle cx="1627" cy="413.1"/><circle cx="1630.1" cy="413.9"/><circle cx="1667.3" cy="364.8"/><circle cx="1624.5" cy="410.9"/><circle cx="1652.6" cy="403.1"/><circle cx="1636.3" cy="402.6"/><circle cx="1633.9" cy="408.4"/><circle cx="1635.6" cy="407"/><circle cx="1638.3" cy="401.2"/><circle cx="1626.6" cy="420.8"/><circle cx="1623.5" cy="420.8"/><circle cx="1627.4" cy="420.8"/><circle cx="1645.5" cy="405.6"/><circle cx="1630.8" cy="414.4"/><circle cx="1633.2" cy="419.7"/><circle cx="1673.9" cy="384.7"/><circle cx="1632" cy="409.6"/><circle cx="1631.5" cy="413.5"/><circle cx="1628.3" cy="414.2"/><circle cx="1640.7" cy="416.8"/><circle cx="1636.5" cy="413.2"/><circle cx="1651" cy="399.5"/><circle cx="1642.1" cy="403.3"/><circle cx="1638.4" cy="410.5"/><circle cx="1628" cy="411.7"/><circle cx="1658.8" cy="388.6"/><circle cx="1658.1" cy="388.6"/><circle cx="1657.5" cy="389.2"/><circle cx="1644" cy="397"/><circle cx="1649.4" cy="400.3"/><circle cx="1625.5" cy="413.4"/><circle cx="1628.1" cy="414"/><circle cx="1656.3" cy="389.2"/><circle cx="1631.8" cy="412.7"/><circle cx="1637.7" cy="404.3"/><circle cx="1652" cy="386.6"/><circle cx="1624.8" cy="414.9"/><circle cx="1644.9" cy="398.3"/><circle cx="1672.6" cy="366.7"/><circle cx="1624.6" cy="419"/><circle cx="1643.3" cy="394"/><circle cx="1638.5" cy="406.9"/><circle cx="1641.2" cy="417.7"/><circle cx="1674.5" cy="360.2"/><circle cx="1645.6" cy="399.5"/><circle cx="1626.9" cy="420.8"/><circle cx="1643.8" cy="403.2"/><circle cx="1634" cy="415.9"/><circle cx="1644.7" cy="386.7"/><circle cx="1625.5" cy="416.3"/><circle cx="1625.4" cy="420.8"/><circle cx="1628.6" cy="413.1"/><circle cx="1624.7" cy="420.8"/><circle cx="1651.9" cy="379.8"/><circle cx="1634.8" cy="416.2"/><circle cx="1681.1" cy="392"/><circle cx="1651.9" cy="393.9"/><circle cx="1642.7" cy="405.2"/><circle cx="1676.7" cy="376"/><circle cx="1666.7" cy="400.7"/><circle cx="1642.9" cy="399.9"/><circle cx="1644.4" cy="389.9"/><circle cx="1661.7" cy="402.1"/><circle cx="1636" cy="402.1"/><circle cx="1684.2" cy="371.2"/><circle cx="1694.9" cy="330.9"/><circle cx="1648.3" cy="394.6"/><circle cx="1688.7" cy="362.9"/><circle cx="1624.5" cy="414.5"/><circle cx="1661.1" cy="381.4"/><circle cx="1624.6" cy="420.8"/><circle cx="1641.7" cy="399.2"/><circle cx="1624.6" cy="420.8"/><circle cx="1632.8" cy="420.8"/><circle cx="1647.1" cy="384.5"/><circle cx="1624.1" cy="420.8"/><circle cx="1644.7" cy="405.2"/><circle cx="1652.6" cy="391.2"/><circle cx="1647" cy="410.1"/><circle cx="1669.2" cy="391.5"/><circle cx="1629.9" cy="417.3"/><circle cx="1631" cy="416.4"/><circle cx="1654.2" cy="391.8"/><circle cx="1628.5" cy="410.2"/><circle cx="1624.2" cy="420.8"/><circle cx="1637.6" cy="404.6"/><circle cx="1626.8" cy="414.6"/><circle cx="1636.9" cy="414.7"/><circle cx="1643.7" cy="400.5"/><circle cx="1631" cy="418.7"/><circle cx="1650.1" cy="388.2"/><circle cx="1635.7" cy="406.6"/><circle cx="1630" cy="414.4"/><circle cx="1628.6" cy="420.8"/><circle cx="1625.9" cy="417.8"/><circle cx="1627.5" cy="420.6"/><circle cx="1648.1" cy="392.8"/><circle cx="1639.9" cy="406.2"/><circle cx="1640.9" cy="409.7"/><circle cx="1625" cy="414.9"/><circle cx="1665.2" cy="375.7"/><circle cx="1635.9" cy="412.6"/><circle cx="1709.4" cy="325.5"/><circle cx="1637.6" cy="409.4"/><circle cx="1627.8" cy="418.1"/><circle cx="1637" cy="407.4"/><circle cx="1635.9" cy="413.5"/><circle cx="1648.6" cy="400.7"/><circle cx="1624.6" cy="420.3"/><circle cx="1629.3" cy="407.3"/><circle cx="1636.4" cy="399.8"/><circle cx="1628.8" cy="417"/><circle cx="1629.2" cy="407"/><circle cx="1645.2" cy="400.9"/><circle cx="1640.9" cy="402.1"/><circle cx="1627.5" cy="412.4"/><circle cx="1624.6" cy="418.2"/><circle cx="1623.7" cy="409.5"/><circle cx="1672.6" cy="373"/><circle cx="1634.1" cy="417.6"/><circle cx="1629.5" cy="408.3"/><circle cx="1629" cy="417.6"/><circle cx="1629.5" cy="416.6"/><circle cx="1639" cy="420.8"/><circle cx="1624.2" cy="415.3"/><circle cx="1660.6" cy="379.5"/><circle cx="1642.4" cy="398"/><circle cx="1648.8" cy="390.2"/><circle cx="1643.6" cy="390.7"/><circle cx="1639.8" cy="405.9"/><circle cx="1629.7" cy="409.9"/><circle cx="1664.8" cy="389.4"/><circle cx="1623.4" cy="420.8"/><circle cx="1654.6" cy="383.6"/><circle cx="1641.2" cy="401.7"/><circle cx="1623.3" cy="420.8"/><circle cx="1626.6" cy="415.9"/><circle cx="1666.9" cy="382.4"/><circle cx="1650.5" cy="401.9"/><circle cx="1633.4" cy="409"/><circle cx="1665.3" cy="385.9"/><circle cx="1641.5" cy="414.2"/><circle cx="1651.7" cy="403.1"/><circle cx="1624.2" cy="411.7"/><circle cx="1663.4" cy="397.4"/><circle cx="1628.6" cy="414.7"/><circle cx="1631.3" cy="410.1"/><circle cx="1644.9" cy="396.5"/><circle cx="1632.6" cy="418.9"/><circle cx="1637.4" cy="409.7"/><circle cx="1644.8" cy="400"/><circle cx="1657.1" cy="383.1"/><circle cx="1631" cy="417.1"/><circle cx="1644.4" cy="409.2"/><circle cx="1628.5" cy="410.9"/><circle cx="1641" cy="397.3"/><circle cx="1629.2" cy="413.4"/><circle cx="1629.1" cy="418.5"/><circle cx="1629" cy="413.4"/><circle cx="1624.5" cy="419.1"/><circle cx="1632.1" cy="408.1"/><circle cx="1631.1" cy="420.2"/><circle cx="1628.8" cy="415.1"/><circle cx="1640.3" cy="406.1"/><circle cx="1632.1" cy="418.7"/><circle cx="1637.5" cy="406.3"/><circle cx="1623.4" cy="420.4"/><circle cx="1667.9" cy="383.6"/><circle cx="1693.6" cy="351.3"/><circle cx="1648.1" cy="408.2"/><circle cx="1671" cy="377.5"/><circle cx="1630.3" cy="412"/><circle cx="1629.5" cy="413.5"/><circle cx="1660.2" cy="377.6"/><circle cx="1694" cy="370.6"/><circle cx="1627.4" cy="420.8"/><circle cx="1629.6" cy="413.7"/><circle cx="1623.8" cy="418.1"/><circle cx="1702.8" cy="323.7"/><circle cx="1634.8" cy="406.6"/><circle cx="1623.5" cy="420.8"/><circle cx="1650.3" cy="389.9"/><circle cx="1653.8" cy="399.3"/><circle cx="1623.4" cy="420.8"/><circle cx="1654.6" cy="371.2"/><circle cx="1628.5" cy="414.3"/><circle cx="1642.5" cy="398.4"/><circle cx="1639.8" cy="402"/><circle cx="1645.6" cy="387.6"/><circle cx="1640.9" cy="402.7"/><circle cx="1624.1" cy="414.4"/><circle cx="1624.8" cy="420.8"/><circle cx="1701.7" cy="367"/><circle cx="1630.2" cy="406.9"/><circle cx="1648.6" cy="386.8"/><circle cx="1637.3" cy="404.8"/><circle cx="1634.6" cy="409.1"/><circle cx="1668.7" cy="377.4"/><circle cx="1656" cy="396.3"/><circle cx="1630.5" cy="406"/><circle cx="1627.5" cy="413.6"/><circle cx="1629.7" cy="412.2"/><circle cx="1640.8" cy="402.3"/><circle cx="1627.8" cy="411.3"/><circle cx="1623.4" cy="418.3"/><circle cx="1625.4" cy="415.3"/><circle cx="1628.2" cy="420.8"/><circle cx="1647.4" cy="394.9"/><circle cx="1639.2" cy="392.4"/><circle cx="1625.7" cy="420.8"/><circle cx="1629.2" cy="415.9"/><circle cx="1638.5" cy="401.3"/><circle cx="1647.3" cy="391.8"/><circle cx="1703" cy="339.3"/><circle cx="1631.8" cy="420.8"/><circle cx="1636.8" cy="405.3"/><circle cx="1639.8" cy="413"/><circle cx="1649" cy="403.1"/><circle cx="1645.6" cy="396.5"/><circle cx="1630" cy="416.1"/><circle cx="1649.6" cy="390.6"/><circle cx="1624.4" cy="405.2"/><circle cx="1637.9" cy="402.6"/><circle cx="1628.3" cy="412.4"/><circle cx="1649" cy="403.6"/><circle cx="1631.3" cy="416.8"/><circle cx="1629.9" cy="420.2"/><circle cx="1639" cy="409.6"/><circle cx="1639" cy="413"/><circle cx="1634.3" cy="414.3"/><circle cx="1643.7" cy="403.3"/><circle cx="1671.9" cy="386"/><circle cx="1639.9" cy="414.4"/><circle cx="1649" cy="407.1"/><circle cx="1696.6" cy="347.7"/><circle cx="1663.8" cy="383"/><circle cx="1640" cy="398.9"/><circle cx="1641.3" cy="397.4"/><circle cx="1664.2" cy="386.2"/><circle cx="1629.6" cy="411.4"/><circle cx="1696" cy="372"/><circle cx="1624.4" cy="409.2"/><circle cx="1634.6" cy="403.5"/><circle cx="1643.5" cy="403.6"/><circle cx="1650.9" cy="404.1"/><circle cx="1625.7" cy="416.7"/><circle cx="1658.9" cy="403.7"/><circle cx="1642.1" cy="408.6"/><circle cx="1637.4" cy="403.2"/><circle cx="1635.8" cy="408.8"/><circle cx="1627.1" cy="419.6"/><circle cx="1624.3" cy="415.4"/><circle cx="1647.6" cy="405.8"/><circle cx="1658" cy="386.5"/><circle cx="1642.3" cy="406.6"/><circle cx="1623.9" cy="420.8"/><circle cx="1687" cy="356.9"/><circle cx="1638.4" cy="413"/><circle cx="1661.6" cy="369"/><circle cx="1709.4" cy="349.8"/><circle cx="1624" cy="411"/><circle cx="1628.4" cy="420.8"/><circle cx="1662.6" cy="379.3"/><circle cx="1655.5" cy="400.8"/><circle cx="1645.5" cy="409.6"/><circle cx="1670" cy="376.3"/><circle cx="1661" cy="380.3"/><circle cx="1630.8" cy="420.6"/><circle cx="1647.5" cy="390"/><circle cx="1644.8" cy="406.4"/><circle cx="1629.5" cy="414.4"/><circle cx="1642.5" cy="400.6"/><circle cx="1626.1" cy="415.3"/><circle cx="1630.7" cy="420.8"/><circle cx="1633.9" cy="401.9"/><circle cx="1627.2" cy="414.4"/><circle cx="1641.8" cy="406.5"/><circle cx="1625.4" cy="420.8"/><circle cx="1628.2" cy="420.8"/><circle cx="1644.4" cy="410.6"/><circle cx="1686.6" cy="356.4"/><circle cx="1623.5" cy="420.8"/><circle cx="1636.2" cy="415.5"/><circle cx="1633.6" cy="414.2"/><circle cx="1623.8" cy="413.1"/><circle cx="1628.1" cy="418"/><circle cx="1681.3" cy="373.9"/><circle cx="1626.4" cy="411.3"/><circle cx="1707.6" cy="337"/><circle cx="1643" cy="402.3"/><circle cx="1628.5" cy="419"/><circle cx="1662.6" cy="398.3"/><circle cx="1699.9" cy="365.5"/><circle cx="1709.4" cy="348.4"/><circle cx="1628.8" cy="416.8"/><circle cx="1624.3" cy="418.1"/><circle cx="1663.4" cy="379"/><circle cx="1665.6" cy="379.8"/><circle cx="1627.5" cy="415.8"/><circle cx="1625.5" cy="420.8"/><circle cx="1657" cy="407.4"/><circle cx="1631.4" cy="416"/><circle cx="1637.7" cy="413.2"/><circle cx="1633.6" cy="414.9"/><circle cx="1634.9" cy="411.6"/><circle cx="1634.6" cy="417.5"/><circle cx="1628.1" cy="420.8"/><circle cx="1625.1" cy="419.5"/><circle cx="1695.1" cy="353.3"/><circle cx="1623.4" cy="420.8"/><circle cx="1650.4" cy="392.1"/><circle cx="1662.6" cy="386.5"/><circle cx="1657.4" cy="397.8"/><circle cx="1631" cy="413.4"/><circle cx="1635.6" cy="398.5"/><circle cx="1644.8" cy="405.6"/><circle cx="1644.1" cy="393.8"/><circle cx="1634.3" cy="402.7"/><circle cx="1630.5" cy="406.1"/><circle cx="1674.5" cy="382.1"/><circle cx="1658.3" cy="371.7"/><circle cx="1632.2" cy="411.9"/><circle cx="1629.8" cy="416.1"/><circle cx="1639" cy="407.8"/><circle cx="1669.3" cy="372.8"/><circle cx="1633.4" cy="411.2"/><circle cx="1698.8" cy="353.7"/><circle cx="1628.2" cy="409.8"/><circle cx="1646.7" cy="404.3"/><circle cx="1625" cy="420.8"/><circle cx="1634.8" cy="405.6"/><circle cx="1625.2" cy="415.6"/><circle cx="1631.5" cy="407.3"/><circle cx="1628" cy="420.8"/><circle cx="1625.7" cy="413.4"/><circle cx="1638.5" cy="403.8"/><circle cx="1633.5" cy="401.5"/><circle cx="1669.2" cy="390.5"/><circle cx="1625.9" cy="417.3"/><circle cx="1636.4" cy="410.4"/><circle cx="1657.7" cy="402.3"/><circle cx="1629.7" cy="418.6"/><circle cx="1649.1" cy="388.7"/><circle cx="1708.3" cy="349.2"/><circle cx="1644.4" cy="406.3"/><circle cx="1653.9" cy="385.8"/><circle cx="1650" cy="388.8"/><circle cx="1641.8" cy="397.2"/><circle cx="1624.8" cy="420.8"/><circle cx="1626.9" cy="417.7"/><circle cx="1643" cy="395.7"/><circle cx="1642.1" cy="407.8"/><circle cx="1646.1" cy="405"/><circle cx="1623.3" cy="417"/><circle cx="1632.7" cy="403.4"/><circle cx="1630" cy="420.6"/><circle cx="1630.1" cy="420.8"/><circle cx="1639.2" cy="415.1"/><circle cx="1663.9" cy="392.5"/><circle cx="1630.5" cy="414.8"/><circle cx="1640.5" cy="401"/><circle cx="1625.7" cy="419.2"/><circle cx="1628.1" cy="419.8"/><circle cx="1671.3" cy="375.2"/><circle cx="1626" cy="420.8"/><circle cx="1644" cy="402"/><circle cx="1643.9" cy="406.1"/><circle cx="1645.2" cy="382.2"/><circle cx="1655" cy="385.1"/><circle cx="1626.5" cy="420.8"/><circle cx="1628.2" cy="420.8"/><circle cx="1645.5" cy="403.3"/><circle cx="1626.3" cy="420.8"/><circle cx="1627.8" cy="420.2"/><circle cx="1645.8" cy="405.2"/><circle cx="1643.9" cy="395.8"/><circle cx="1626.3" cy="420"/><circle cx="1623.7" cy="420.8"/><circle cx="1641" cy="413.1"/><circle cx="1628.2" cy="420.8"/><circle cx="1642.8" cy="403.2"/><circle cx="1628.3" cy="417.2"/><circle cx="1634.8" cy="403.6"/><circle cx="1624.7" cy="420.8"/><circle cx="1628.2" cy="410.9"/><circle cx="1663.7" cy="381.3"/><circle cx="1664.2" cy="383.2"/><circle cx="1637" cy="420.2"/><circle cx="1644" cy="410.5"/><circle cx="1636.2" cy="404.5"/><circle cx="1637.6" cy="399.2"/><circle cx="1628.8" cy="414.6"/><circle cx="1636.4" cy="404.1"/><circle cx="1624" cy="420.8"/><circle cx="1623.5" cy="420.8"/><circle cx="1646" cy="404.5"/><circle cx="1639" cy="400.2"/><circle cx="1640.9" cy="402.4"/><circle cx="1628.1" cy="417.5"/><circle cx="1635.7" cy="411.2"/><circle cx="1640.2" cy="401.7"/><circle cx="1627.8" cy="414.9"/><circle cx="1656.1" cy="397.3"/><circle cx="1676" cy="354.7"/><circle cx="1633.7" cy="409.7"/><circle cx="1638.2" cy="407"/><circle cx="1638.5" cy="397.7"/><circle cx="1631.2" cy="408"/><circle cx="1635.7" cy="409.9"/><circle cx="1627.9" cy="413.8"/><circle cx="1648.8" cy="405.1"/><circle cx="1623.7" cy="420.8"/><circle cx="1623.3" cy="420.8"/><circle cx="1644" cy="393.5"/><circle cx="1631" cy="420.8"/><circle cx="1666.2" cy="375.1"/><circle cx="1647.8" cy="404.2"/><circle cx="1652.5" cy="401.5"/><circle cx="1668" cy="381.5"/><circle cx="1629.1" cy="414"/><circle cx="1650.9" cy="390.8"/><circle cx="1668.1" cy="362.9"/><circle cx="1709.4" cy="336.7"/><circle cx="1623.9" cy="416.1"/><circle cx="1624.9" cy="420.8"/><circle cx="1626.1" cy="414.7"/><circle cx="1633" cy="411"/><circle cx="1631.1" cy="416"/><circle cx="1651.6" cy="395.4"/><circle cx="1626.2" cy="418.4"/><circle cx="1629.2" cy="414.3"/><circle cx="1638.5" cy="404.2"/><circle cx="1630.3" cy="417"/><circle cx="1633.8" cy="415.3"/><circle cx="1630.2" cy="410.4"/><circle cx="1628.6" cy="420.8"/><circle cx="1629.9" cy="417.9"/><circle cx="1643" cy="392.3"/><circle cx="1664.2" cy="407.5"/><circle cx="1661" cy="392.1"/><circle cx="1626.5" cy="414.5"/><circle cx="1629.3" cy="420.8"/><circle cx="1641.4" cy="387.2"/><circle cx="1648.4" cy="416.4"/><circle cx="1635.5" cy="401.1"/><circle cx="1626.1" cy="410.6"/><circle cx="1623.5" cy="416.4"/><circle cx="1625" cy="420.2"/><circle cx="1640" cy="403.1"/><circle cx="1643.6" cy="408.1"/><circle cx="1633.3" cy="407.1"/><circle cx="1677.6" cy="382.6"/><circle cx="1628.1" cy="417.7"/><circle cx="1632.1" cy="407.2"/><circle cx="1636.6" cy="415.1"/><circle cx="1654.4" cy="395"/><circle cx="1647.6" cy="397.2"/><circle cx="1666.8" cy="393.2"/><circle cx="1634.2" cy="404"/><circle cx="1630.9" cy="411.9"/><circle cx="1630.8" cy="420.8"/><circle cx="1629.5" cy="415.2"/><circle cx="1624.5" cy="420.8"/><circle cx="1695.4" cy="362.7"/><circle cx="1634.9" cy="409.6"/><circle cx="1708.1" cy="352.7"/><circle cx="1636.1" cy="403.2"/><circle cx="1634.3" cy="414.7"/><circle cx="1643.9" cy="395.1"/><circle cx="1633" cy="412.1"/><circle cx="1642.5" cy="397.5"/><circle cx="1627.5" cy="419.5"/><circle cx="1638.6" cy="409.8"/><circle cx="1701.6" cy="363.9"/><circle cx="1639.1" cy="402.6"/><circle cx="1650.5" cy="388.7"/><circle cx="1665.8" cy="362.3"/><circle cx="1631" cy="406.8"/><circle cx="1640.4" cy="403.4"/><circle cx="1630.6" cy="415.1"/><circle cx="1639.3" cy="403.6"/><circle cx="1647.1" cy="399.1"/><circle cx="1626.2" cy="411"/><circle cx="1637.6" cy="401.8"/><circle cx="1646.7" cy="405.1"/><circle cx="1697.4" cy="361.4"/><circle cx="1628.7" cy="408.8"/><circle cx="1655.5" cy="388.7"/><circle cx="1631" cy="414.9"/><circle cx="1627.8" cy="410.7"/><circle cx="1635.2" cy="412"/><circle cx="1642.5" cy="404.9"/><circle cx="1624.7" cy="420.8"/><circle cx="1627.5" cy="420.8"/><circle cx="1624.3" cy="415.8"/><circle cx="1646.9" cy="407.6"/><circle cx="1906.1" cy="159.4"/><circle cx="1926.7" cy="133.6"/><circle cx="1934.2" cy="133.6"/><circle cx="1934.2" cy="150.1"/><circle cx="1779.4" cy="283.2"/><circle cx="1945.4" cy="118.1"/><circle cx="1947.3" cy="116.4"/><circle cx="1949.2" cy="107.8"/><circle cx="1951.1" cy="109.5"/><circle cx="1952.9" cy="111.2"/><circle cx="1949.2" cy="125"/><circle cx="1954.8" cy="114.6"/><circle cx="1960.4" cy="112.9"/><circle cx="1964.2" cy="118.1"/><circle cx="1966.1" cy="114.6"/><circle cx="1969.8" cy="109.5"/><circle cx="1949.2" cy="118.1"/><circle cx="1736.7" cy="297"/><circle cx="1745" cy="345.1"/><circle cx="1720.6" cy="356.5"/><circle cx="1720.6" cy="360.6"/><circle cx="1647.6" cy="341.7"/><circle cx="1649.4" cy="357.5"/><circle cx="1713.1" cy="310.7"/><circle cx="1720.6" cy="312.4"/><circle cx="1730" cy="311.4"/><circle cx="1754.3" cy="311.4"/><circle cx="1750.6" cy="313.5"/><circle cx="1735.6" cy="340"/><circle cx="1733.7" cy="332.7"/><circle cx="1743.1" cy="319.3"/><circle cx="1739.4" cy="307.3"/><circle cx="1741.2" cy="309"/><circle cx="1731.9" cy="324.5"/><circle cx="1722.5" cy="327.9"/><circle cx="1694.4" cy="333.8"/><circle cx="1701.9" cy="338.2"/><circle cx="1640.1" cy="370.9"/><circle cx="1649.4" cy="419.1"/><circle cx="1692.5" cy="385.4"/><circle cx="1685" cy="382.3"/><circle cx="1677.5" cy="391.6"/><circle cx="1674.9" cy="394"/><circle cx="1701.9" cy="372"/><circle cx="1690.6" cy="372.6"/><circle cx="1718.7" cy="319.3"/><circle cx="1724.4" cy="317.6"/><circle cx="1728.1" cy="321"/><circle cx="1735.6" cy="314.2"/><circle cx="1743.1" cy="315.9"/><circle cx="1746.9" cy="310.7"/><circle cx="1720.6" cy="322.8"/><circle cx="1733.7" cy="326.2"/><circle cx="1739.4" cy="317.6"/><circle cx="1713.1" cy="345.1"/><circle cx="1709.4" cy="348.6"/><circle cx="1707.5" cy="353.7"/><circle cx="1716.9" cy="336.5"/>
</g>
<line x1="1623.2" y1="419.8" x2="1969" y2="106" stroke="#4168c2" stroke-width="2.85"/>
<text class="tt" style="font-size:17.8px" x="1605.2" y="32.6">Cas9</text>
<text class="tt" style="font-size:17.8px" x="1605.2" y="49.5">Adj. R-squared: 0.9758</text>
<text class="ax m" x="1810.9" y="478.8">Dox. replicate 1: Indels (%)</text>
<text class="ax m" x="1810.9" y="494.5"><tspan font-style="italic">n</tspan> = 600</text>
<text class="ax m" transform="translate(1551.8 249.2) rotate(-90)">Dox. replicate 2: Indels (%)</text>
<text class="ax m" transform="translate(1567.7 249.2) rotate(-90)"><tspan font-style="italic">n</tspan> = 601</text>
</g>
<g id="panel-b3">
<rect x="1100.5" y="545.4" width="411.4" height="377.9" fill="#ebebeb"/>
<path d="M1165.8 545.4V923.3M1100.5 862.9H1511.9M1259.2 545.4V923.3M1100.5 776.8H1511.9M1352.8 545.4V923.3M1100.5 690.8H1511.9M1446.2 545.4V923.3M1100.5 604.7H1511.9" stroke="#fff" stroke-width="0.6" fill="none" opacity="0.9"/>
<path d="M1119 545.4V923.3M1100.5 905.9H1511.9M1212.5 545.4V923.3M1100.5 819.9H1511.9M1306 545.4V923.3M1100.5 733.8H1511.9M1399.5 545.4V923.3M1100.5 647.8H1511.9M1493 545.4V923.3M1100.5 561.7H1511.9" stroke="#fff" stroke-width="1.25" fill="none"/>
<path d="M1119 923.3v3.8M1100.5 905.9h-3.8M1212.5 923.3v3.8M1100.5 819.9h-3.8M1306 923.3v3.8M1100.5 733.8h-3.8M1399.5 923.3v3.8M1100.5 647.8h-3.8M1493 923.3v3.8M1100.5 561.7h-3.8" stroke="#333" stroke-width="1.2" fill="none"/>
<text class="tk m" x="1119" y="942.5">0</text>
<text class="tk e" x="1090.4" y="911.2">0</text>
<text class="tk m" x="1212.5" y="942.5">25</text>
<text class="tk e" x="1090.4" y="825.1">25</text>
<text class="tk m" x="1306" y="942.5">50</text>
<text class="tk e" x="1090.4" y="739.1">50</text>
<text class="tk m" x="1399.5" y="942.5">75</text>
<text class="tk e" x="1090.4" y="653">75</text>
<text class="tk m" x="1493" y="942.5">100</text>
<text class="tk e" x="1090.4" y="567">100</text>
<g class="bp" fill="#000" fill-opacity="0.8" stroke="#000" stroke-opacity="0.85" stroke-width="0.6">
<circle cx="1134.5" cy="898.4"/><circle cx="1149" cy="875.9"/><circle cx="1140.2" cy="885.6"/><circle cx="1139.1" cy="882.1"/><circle cx="1143.6" cy="887.2"/><circle cx="1139.9" cy="899.2"/><circle cx="1146.3" cy="871.6"/><circle cx="1141.6" cy="888.7"/><circle cx="1152.5" cy="870.3"/><circle cx="1129.1" cy="892.7"/><circle cx="1146.1" cy="879.6"/><circle cx="1145.5" cy="871.7"/><circle cx="1129.9" cy="892.8"/><circle cx="1142.9" cy="876.5"/><circle cx="1144.1" cy="896.6"/><circle cx="1126.1" cy="891.4"/><circle cx="1127.3" cy="898.7"/><circle cx="1139.5" cy="889.8"/><circle cx="1143.3" cy="886.3"/><circle cx="1125" cy="896"/><circle cx="1132.4" cy="881.6"/><circle cx="1134.7" cy="905.5"/><circle cx="1137.3" cy="890"/><circle cx="1135.3" cy="896.9"/><circle cx="1130.7" cy="886.3"/><circle cx="1143.2" cy="889.5"/><circle cx="1145.5" cy="881.6"/><circle cx="1152.9" cy="882.8"/><circle cx="1130.2" cy="890.2"/><circle cx="1138.9" cy="881.9"/><circle cx="1147.6" cy="886.4"/><circle cx="1152" cy="880.3"/><circle cx="1151.4" cy="891.2"/><circle cx="1127.5" cy="894.6"/><circle cx="1128.5" cy="890"/><circle cx="1139" cy="893.2"/><circle cx="1135.5" cy="883.4"/><circle cx="1123.5" cy="905.9"/><circle cx="1176.9" cy="877.5"/><circle cx="1139.8" cy="898.7"/><circle cx="1167.2" cy="874"/><circle cx="1141" cy="887.7"/><circle cx="1146.7" cy="884.6"/><circle cx="1148.1" cy="883.7"/><circle cx="1140.6" cy="882.9"/><circle cx="1133.7" cy="896.1"/><circle cx="1138.5" cy="898.6"/><circle cx="1162.4" cy="882.7"/><circle cx="1128.6" cy="880.8"/><circle cx="1133" cy="905.9"/><circle cx="1139.9" cy="889.9"/><circle cx="1142" cy="876.7"/><circle cx="1140.5" cy="884.7"/><circle cx="1124.5" cy="904.8"/><circle cx="1145.1" cy="885.1"/><circle cx="1128.7" cy="889.8"/><circle cx="1136.3" cy="882.3"/><circle cx="1146.4" cy="890.8"/><circle cx="1145.7" cy="879.3"/><circle cx="1155.8" cy="876.3"/><circle cx="1141.6" cy="879.5"/><circle cx="1158.6" cy="866.2"/><circle cx="1131.1" cy="896.9"/><circle cx="1143.8" cy="896.5"/><circle cx="1136.2" cy="888.2"/><circle cx="1137.3" cy="877.5"/><circle cx="1152.9" cy="875"/><circle cx="1172.2" cy="865.6"/><circle cx="1177" cy="856"/><circle cx="1145.9" cy="892.1"/><circle cx="1122.6" cy="893.5"/><circle cx="1142" cy="891.3"/><circle cx="1128.6" cy="895.7"/><circle cx="1137.5" cy="889.6"/><circle cx="1136.6" cy="879.9"/><circle cx="1141" cy="894.6"/><circle cx="1152.2" cy="884.3"/><circle cx="1147.2" cy="895.3"/><circle cx="1154.5" cy="875.4"/><circle cx="1128.7" cy="899.3"/><circle cx="1158.6" cy="873.2"/><circle cx="1141.2" cy="895.5"/><circle cx="1140.4" cy="890.9"/><circle cx="1136.6" cy="883.3"/><circle cx="1174" cy="867.2"/><circle cx="1134.2" cy="887.9"/><circle cx="1133.2" cy="889.2"/><circle cx="1149.4" cy="884.8"/><circle cx="1140.6" cy="899.4"/><circle cx="1130.3" cy="887.8"/><circle cx="1144.4" cy="884.4"/><circle cx="1133" cy="886.1"/><circle cx="1151.2" cy="895.6"/><circle cx="1128.5" cy="905.9"/><circle cx="1141.2" cy="903.3"/><circle cx="1139" cy="895.5"/><circle cx="1152.9" cy="872.5"/><circle cx="1140.3" cy="884.2"/><circle cx="1146.6" cy="884.4"/><circle cx="1140.7" cy="887.1"/><circle cx="1136.7" cy="885.2"/><circle cx="1131.1" cy="896.6"/><circle cx="1145.3" cy="882.2"/><circle cx="1140.7" cy="887.1"/><circle cx="1158.1" cy="892.3"/><circle cx="1134.2" cy="895.2"/><circle cx="1141.5" cy="877.7"/><circle cx="1145.6" cy="887.7"/><circle cx="1135.3" cy="892.7"/><circle cx="1137.1" cy="894.9"/><circle cx="1137.6" cy="893.7"/><circle cx="1144.9" cy="877.2"/><circle cx="1164.1" cy="874.5"/><circle cx="1146.5" cy="891.7"/><circle cx="1128.4" cy="905.9"/><circle cx="1132.2" cy="897.8"/><circle cx="1139.7" cy="902.9"/><circle cx="1149.1" cy="895.7"/><circle cx="1142.6" cy="881"/><circle cx="1148" cy="878.1"/><circle cx="1133.3" cy="905.9"/><circle cx="1177" cy="857.9"/><circle cx="1137.4" cy="886.9"/><circle cx="1128.2" cy="902"/><circle cx="1140.7" cy="882.8"/><circle cx="1167.6" cy="882"/><circle cx="1131.9" cy="902.6"/><circle cx="1147.6" cy="893.9"/><circle cx="1145.7" cy="892.8"/><circle cx="1162.8" cy="867.1"/><circle cx="1144" cy="895.5"/><circle cx="1151.5" cy="889.3"/><circle cx="1143.8" cy="892.9"/><circle cx="1146.1" cy="883.1"/><circle cx="1132.2" cy="896.2"/><circle cx="1130.8" cy="888.4"/><circle cx="1143" cy="891.7"/><circle cx="1140.3" cy="897.7"/><circle cx="1141.9" cy="890.9"/><circle cx="1157.3" cy="876.8"/><circle cx="1129.6" cy="902.2"/><circle cx="1139.9" cy="886.6"/><circle cx="1155.6" cy="865.1"/><circle cx="1129.8" cy="899.6"/><circle cx="1131.9" cy="893.7"/><circle cx="1126.5" cy="887.8"/><circle cx="1147.9" cy="888.1"/><circle cx="1145.5" cy="891.1"/><circle cx="1128.2" cy="904.4"/><circle cx="1155.4" cy="875.5"/><circle cx="1135.5" cy="887.9"/><circle cx="1136.7" cy="891.9"/><circle cx="1145.8" cy="884.5"/><circle cx="1150" cy="872.8"/><circle cx="1131.6" cy="888"/><circle cx="1143" cy="896.8"/><circle cx="1139.2" cy="889.3"/><circle cx="1160.1" cy="874.6"/><circle cx="1133.2" cy="888"/><circle cx="1159.8" cy="877.2"/><circle cx="1126.6" cy="902.2"/><circle cx="1147.5" cy="887.1"/><circle cx="1162.1" cy="886.9"/><circle cx="1148.3" cy="883.4"/><circle cx="1158.1" cy="881"/><circle cx="1153.4" cy="876.5"/><circle cx="1128.4" cy="903.8"/><circle cx="1134.2" cy="895.8"/><circle cx="1156.1" cy="885.2"/><circle cx="1143.1" cy="894.4"/><circle cx="1138.8" cy="884.5"/><circle cx="1160.4" cy="878.6"/><circle cx="1145.8" cy="881.7"/><circle cx="1125.4" cy="905.9"/><circle cx="1130.3" cy="894.5"/><circle cx="1141.1" cy="900.3"/><circle cx="1136.1" cy="894.8"/><circle cx="1131.4" cy="898.2"/><circle cx="1137.7" cy="886.2"/><circle cx="1135.8" cy="890.3"/><circle cx="1139.8" cy="890.2"/><circle cx="1139.1" cy="883.3"/><circle cx="1136.6" cy="889.7"/><circle cx="1135.4" cy="888"/><circle cx="1140" cy="883.3"/><circle cx="1138.3" cy="890.5"/><circle cx="1140" cy="891"/><circle cx="1139.5" cy="886.8"/><circle cx="1132.4" cy="896.9"/><circle cx="1142.2" cy="884.6"/><circle cx="1130.7" cy="887"/><circle cx="1146.3" cy="878.5"/><circle cx="1164.6" cy="875.3"/><circle cx="1138.9" cy="898.9"/><circle cx="1140.8" cy="888.7"/><circle cx="1174.7" cy="866.8"/><circle cx="1139" cy="881.5"/><circle cx="1130.6" cy="897.9"/><circle cx="1144.5" cy="887.4"/><circle cx="1131.9" cy="888.9"/><circle cx="1148.1" cy="887"/><circle cx="1129.7" cy="896.8"/><circle cx="1141.2" cy="875.7"/><circle cx="1143.2" cy="876"/><circle cx="1155" cy="874.4"/><circle cx="1144.8" cy="883.8"/><circle cx="1130.4" cy="902.2"/><circle cx="1142.5" cy="883.2"/><circle cx="1141.1" cy="887.7"/><circle cx="1161.8" cy="872.9"/><circle cx="1136.1" cy="895.2"/><circle cx="1137.6" cy="890.5"/><circle cx="1145.1" cy="886.8"/><circle cx="1137.7" cy="888.1"/><circle cx="1131.1" cy="884.5"/><circle cx="1133.3" cy="890.7"/><circle cx="1141.5" cy="899.9"/><circle cx="1139.9" cy="896"/><circle cx="1131.7" cy="905.8"/><circle cx="1137.7" cy="896.1"/><circle cx="1140.8" cy="884.3"/><circle cx="1125.3" cy="895.7"/><circle cx="1127.9" cy="901.2"/><circle cx="1125.5" cy="896.6"/><circle cx="1127" cy="903"/><circle cx="1142.3" cy="897.6"/><circle cx="1141.3" cy="898.2"/><circle cx="1126.3" cy="904.1"/><circle cx="1148.1" cy="873.3"/><circle cx="1152.1" cy="890.6"/><circle cx="1140.1" cy="879.8"/><circle cx="1144" cy="876.7"/><circle cx="1144.2" cy="887.4"/><circle cx="1134.1" cy="893.2"/><circle cx="1160.5" cy="879.7"/><circle cx="1131.7" cy="894.6"/><circle cx="1135.8" cy="886.9"/><circle cx="1124" cy="899.4"/><circle cx="1148.8" cy="875.9"/><circle cx="1133.9" cy="884.4"/><circle cx="1163.5" cy="870.9"/><circle cx="1127.5" cy="894.9"/><circle cx="1161.6" cy="875"/><circle cx="1124.5" cy="896.7"/><circle cx="1138" cy="898.3"/><circle cx="1139.6" cy="886.3"/><circle cx="1135.6" cy="890.4"/><circle cx="1160" cy="881.9"/><circle cx="1131.6" cy="879"/><circle cx="1136.3" cy="898.4"/><circle cx="1140.1" cy="895.1"/><circle cx="1139" cy="887.6"/><circle cx="1136.9" cy="905"/><circle cx="1143.9" cy="892.1"/><circle cx="1137.1" cy="901.9"/><circle cx="1157.8" cy="884.1"/><circle cx="1132.6" cy="894.8"/><circle cx="1138.9" cy="887.4"/><circle cx="1144.8" cy="877.8"/><circle cx="1146" cy="879.1"/><circle cx="1158.5" cy="868.1"/><circle cx="1134.4" cy="888.4"/><circle cx="1151.2" cy="884.9"/><circle cx="1139" cy="881.5"/><circle cx="1126.2" cy="901.6"/><circle cx="1149.6" cy="887"/><circle cx="1129.2" cy="885.1"/><circle cx="1134.8" cy="886.7"/><circle cx="1144.9" cy="884.1"/><circle cx="1134.3" cy="887.3"/><circle cx="1131.7" cy="888.1"/><circle cx="1145.2" cy="895.3"/><circle cx="1151.7" cy="881.9"/><circle cx="1134" cy="901.5"/><circle cx="1136.1" cy="890.6"/><circle cx="1143.7" cy="891.4"/><circle cx="1140.1" cy="879.1"/><circle cx="1136.9" cy="887.3"/><circle cx="1165" cy="878.2"/><circle cx="1136.5" cy="891.4"/><circle cx="1131.8" cy="903.1"/><circle cx="1135.7" cy="891.5"/><circle cx="1143.3" cy="882.8"/><circle cx="1133.1" cy="891.6"/><circle cx="1131.3" cy="905.9"/><circle cx="1127.8" cy="899.5"/><circle cx="1169.6" cy="865.6"/><circle cx="1145.6" cy="883.1"/><circle cx="1129.9" cy="887.3"/><circle cx="1144.8" cy="895.1"/><circle cx="1144" cy="882.5"/><circle cx="1154" cy="884.3"/><circle cx="1131.3" cy="893.3"/><circle cx="1154.1" cy="876.7"/><circle cx="1148.7" cy="878.2"/><circle cx="1129.9" cy="899.8"/><circle cx="1141.2" cy="886.9"/><circle cx="1141.6" cy="896.3"/><circle cx="1142.6" cy="897.4"/><circle cx="1124.9" cy="894.9"/><circle cx="1141.9" cy="888.1"/><circle cx="1135.8" cy="903.5"/><circle cx="1148.9" cy="889.2"/><circle cx="1141.4" cy="887.9"/><circle cx="1134.1" cy="881.7"/><circle cx="1131.1" cy="887.3"/><circle cx="1136.7" cy="885.4"/><circle cx="1142.2" cy="900.4"/><circle cx="1138.7" cy="890.6"/><circle cx="1128.5" cy="893.1"/><circle cx="1160" cy="872.8"/><circle cx="1149.1" cy="879.9"/><circle cx="1139.9" cy="890.7"/><circle cx="1141.4" cy="875.4"/><circle cx="1145.4" cy="874.7"/><circle cx="1141.8" cy="888.5"/><circle cx="1137.3" cy="897.8"/><circle cx="1153" cy="865.5"/><circle cx="1137.8" cy="894.4"/><circle cx="1136.6" cy="882.6"/><circle cx="1139.9" cy="875.3"/><circle cx="1138.4" cy="896.9"/><circle cx="1141.1" cy="886.1"/><circle cx="1177" cy="867"/><circle cx="1134.8" cy="888.7"/><circle cx="1144.5" cy="883.7"/><circle cx="1149.6" cy="868.5"/><circle cx="1128.3" cy="892.5"/><circle cx="1136.9" cy="891.1"/><circle cx="1128" cy="888.8"/><circle cx="1133.2" cy="895.4"/><circle cx="1128.2" cy="899.5"/><circle cx="1141.4" cy="871.8"/><circle cx="1134" cy="898.9"/><circle cx="1151.6" cy="884.8"/><circle cx="1136.6" cy="890.9"/><circle cx="1135.7" cy="899.4"/><circle cx="1134" cy="905.9"/><circle cx="1132.3" cy="886.5"/><circle cx="1151.7" cy="886.9"/><circle cx="1128.9" cy="900.2"/><circle cx="1154.2" cy="882.2"/><circle cx="1137.4" cy="897.8"/><circle cx="1129.4" cy="903.8"/><circle cx="1140.2" cy="887.6"/><circle cx="1133.7" cy="875.8"/><circle cx="1133.4" cy="888"/><circle cx="1155" cy="873.6"/><circle cx="1146.2" cy="895.8"/><circle cx="1123" cy="900.4"/><circle cx="1137.2" cy="899.4"/><circle cx="1137.1" cy="885.3"/><circle cx="1134.8" cy="894.1"/><circle cx="1159.7" cy="875.6"/><circle cx="1131.8" cy="895"/><circle cx="1132" cy="898.5"/><circle cx="1140.6" cy="899.6"/><circle cx="1152.7" cy="876.3"/><circle cx="1128.3" cy="905.9"/><circle cx="1137.2" cy="899.4"/><circle cx="1136.2" cy="893.6"/><circle cx="1146" cy="890.1"/><circle cx="1172.6" cy="865.5"/><circle cx="1148.6" cy="876"/><circle cx="1134.9" cy="890.5"/><circle cx="1132.4" cy="892.6"/><circle cx="1123.4" cy="899.8"/><circle cx="1139.7" cy="882.9"/><circle cx="1149.5" cy="896"/><circle cx="1146.8" cy="881.8"/><circle cx="1134.2" cy="899.5"/><circle cx="1160.1" cy="884.6"/><circle cx="1129.9" cy="895.6"/><circle cx="1152.2" cy="883.7"/><circle cx="1144.5" cy="881.8"/><circle cx="1133.9" cy="885"/><circle cx="1151.8" cy="898"/><circle cx="1130.3" cy="896"/><circle cx="1131.6" cy="880.4"/><circle cx="1142.8" cy="880.8"/><circle cx="1165.6" cy="861.5"/><circle cx="1149.7" cy="881.8"/><circle cx="1133.4" cy="903.7"/><circle cx="1161.8" cy="882.7"/><circle cx="1177" cy="859.3"/><circle cx="1142.3" cy="880.5"/><circle cx="1140.2" cy="894.1"/><circle cx="1130.8" cy="897"/><circle cx="1130.6" cy="893.3"/><circle cx="1128.4" cy="905.9"/><circle cx="1130.9" cy="897.5"/><circle cx="1127.4" cy="885.6"/><circle cx="1136.2" cy="875.7"/><circle cx="1132.6" cy="894.7"/><circle cx="1135.3" cy="878.8"/><circle cx="1143.6" cy="890.4"/><circle cx="1130.3" cy="901.2"/><circle cx="1132.6" cy="905.9"/><circle cx="1140.1" cy="882"/><circle cx="1176.8" cy="867.3"/><circle cx="1149.2" cy="866"/><circle cx="1125.5" cy="896.2"/><circle cx="1146.8" cy="883.1"/><circle cx="1144.5" cy="899"/><circle cx="1136.3" cy="880.6"/><circle cx="1122.9" cy="902.9"/><circle cx="1131.6" cy="895.7"/><circle cx="1142.7" cy="903.2"/><circle cx="1165.2" cy="865.5"/><circle cx="1150.7" cy="874.7"/><circle cx="1136" cy="896"/><circle cx="1135.9" cy="891"/><circle cx="1145.1" cy="882.7"/><circle cx="1144.3" cy="879.2"/><circle cx="1157.6" cy="876.5"/><circle cx="1122.9" cy="887.9"/><circle cx="1139.4" cy="891.1"/><circle cx="1137" cy="895.3"/><circle cx="1133.7" cy="896.5"/><circle cx="1135.6" cy="905.9"/><circle cx="1133.1" cy="899.4"/><circle cx="1132.2" cy="886.8"/><circle cx="1126.9" cy="895.7"/><circle cx="1133.4" cy="899.2"/><circle cx="1144.4" cy="883.5"/><circle cx="1153.7" cy="894.5"/><circle cx="1138.3" cy="892.1"/><circle cx="1164.4" cy="869"/><circle cx="1159.3" cy="871.1"/><circle cx="1125.2" cy="904.3"/><circle cx="1141.1" cy="881.6"/><circle cx="1140.6" cy="875"/><circle cx="1146.4" cy="887.8"/><circle cx="1154.3" cy="874.1"/><circle cx="1135.4" cy="903.2"/><circle cx="1151.8" cy="895.3"/><circle cx="1126.1" cy="893.7"/><circle cx="1146.5" cy="884.3"/><circle cx="1129.4" cy="894.5"/><circle cx="1129.4" cy="900.2"/><circle cx="1150.3" cy="884.2"/><circle cx="1133.1" cy="887.6"/><circle cx="1146.7" cy="872.1"/><circle cx="1138.5" cy="891.5"/><circle cx="1142.3" cy="899.3"/><circle cx="1135.7" cy="882.6"/><circle cx="1126.7" cy="893.3"/><circle cx="1156" cy="873.4"/><circle cx="1156.1" cy="877"/><circle cx="1140.6" cy="871.7"/><circle cx="1138.4" cy="889.5"/><circle cx="1132.7" cy="890"/><circle cx="1131.2" cy="905.9"/><circle cx="1131" cy="899.1"/><circle cx="1128.6" cy="901.4"/><circle cx="1138" cy="890.5"/><circle cx="1155.4" cy="876.2"/><circle cx="1135.1" cy="897.6"/><circle cx="1144.5" cy="873.4"/><circle cx="1145.2" cy="893.2"/><circle cx="1132.7" cy="897"/><circle cx="1147.4" cy="882.3"/><circle cx="1138.7" cy="898.8"/><circle cx="1159.6" cy="871.8"/><circle cx="1157.2" cy="872.9"/><circle cx="1136.9" cy="893.1"/><circle cx="1137" cy="877.1"/><circle cx="1163.9" cy="872.5"/><circle cx="1131.3" cy="892.6"/><circle cx="1167.4" cy="877.7"/><circle cx="1156.6" cy="890"/><circle cx="1135.2" cy="896.7"/><circle cx="1138.5" cy="892.2"/><circle cx="1150.5" cy="885.3"/><circle cx="1130" cy="890"/><circle cx="1131" cy="905.9"/><circle cx="1150.5" cy="890.1"/><circle cx="1143.3" cy="900"/><circle cx="1144.2" cy="876.4"/><circle cx="1177" cy="868.5"/><circle cx="1142.2" cy="891.2"/><circle cx="1135.3" cy="900"/><circle cx="1152.7" cy="874"/><circle cx="1146.8" cy="887.4"/><circle cx="1135.1" cy="890.5"/><circle cx="1131.3" cy="905.9"/><circle cx="1144.8" cy="877.3"/><circle cx="1135.7" cy="888.9"/><circle cx="1132.5" cy="889.9"/><circle cx="1133.6" cy="884.2"/><circle cx="1158.2" cy="878.3"/><circle cx="1137.8" cy="891.6"/><circle cx="1142.3" cy="882.2"/><circle cx="1128.2" cy="893.6"/><circle cx="1128.9" cy="898"/><circle cx="1126.4" cy="897.6"/><circle cx="1140.7" cy="892.1"/><circle cx="1133.6" cy="888"/><circle cx="1125" cy="892.1"/><circle cx="1174.9" cy="865.7"/><circle cx="1140.2" cy="875.1"/><circle cx="1132.5" cy="905"/><circle cx="1152.4" cy="882.4"/><circle cx="1144.3" cy="873.6"/><circle cx="1143.7" cy="889.5"/><circle cx="1160.4" cy="887"/><circle cx="1137.5" cy="880.4"/><circle cx="1148.9" cy="879.1"/><circle cx="1131.7" cy="903"/><circle cx="1130.1" cy="889.8"/><circle cx="1130.6" cy="902.5"/><circle cx="1142.5" cy="896.9"/><circle cx="1139.8" cy="890.1"/><circle cx="1134.7" cy="895.9"/><circle cx="1144.2" cy="894"/><circle cx="1154" cy="882.3"/><circle cx="1128.5" cy="903.8"/><circle cx="1147" cy="883.8"/><circle cx="1151.4" cy="881.5"/><circle cx="1143.4" cy="881.2"/><circle cx="1145.9" cy="888.2"/><circle cx="1136.7" cy="900.7"/><circle cx="1129.7" cy="905.3"/><circle cx="1154" cy="881.4"/><circle cx="1132.5" cy="882.7"/><circle cx="1146.4" cy="878.5"/><circle cx="1159.4" cy="880.7"/><circle cx="1153.7" cy="873"/><circle cx="1141.9" cy="896"/><circle cx="1142" cy="880.2"/><circle cx="1154" cy="882.4"/><circle cx="1157.2" cy="871.9"/><circle cx="1130.9" cy="890.4"/><circle cx="1128.1" cy="898.8"/><circle cx="1143.3" cy="884.3"/><circle cx="1146.4" cy="892.4"/><circle cx="1140.1" cy="889.4"/><circle cx="1140.5" cy="880.7"/><circle cx="1135.6" cy="862.1"/><circle cx="1142.2" cy="882.3"/><circle cx="1127.5" cy="896.5"/><circle cx="1145.6" cy="892.5"/><circle cx="1151.4" cy="873.7"/><circle cx="1145.9" cy="897"/><circle cx="1130.9" cy="900.7"/><circle cx="1135.4" cy="889.3"/><circle cx="1142.5" cy="895.9"/><circle cx="1138.4" cy="878.7"/><circle cx="1142.4" cy="879.4"/><circle cx="1143.6" cy="890.6"/><circle cx="1130.9" cy="898.9"/><circle cx="1144.9" cy="895.2"/><circle cx="1176.9" cy="874.6"/><circle cx="1135.9" cy="888.4"/><circle cx="1132.9" cy="889"/><circle cx="1143.1" cy="884.3"/><circle cx="1141.3" cy="886.1"/><circle cx="1152" cy="885"/><circle cx="1147.2" cy="881.5"/><circle cx="1152.3" cy="891.4"/><circle cx="1135.8" cy="891.6"/><circle cx="1151.6" cy="870.5"/><circle cx="1148.3" cy="873.8"/><circle cx="1156" cy="881.6"/><circle cx="1158.3" cy="879.2"/><circle cx="1132.2" cy="884"/><circle cx="1131.2" cy="881.7"/><circle cx="1134.9" cy="903.1"/><circle cx="1158.8" cy="879.5"/><circle cx="1143.4" cy="884.9"/><circle cx="1128.4" cy="887.7"/><circle cx="1137.8" cy="896.4"/><circle cx="1127.8" cy="892.3"/><circle cx="1171" cy="870.5"/><circle cx="1146.6" cy="867.3"/><circle cx="1129.9" cy="892.5"/><circle cx="1144.5" cy="886.9"/><circle cx="1177" cy="866.8"/><circle cx="1145" cy="877.9"/><circle cx="1128.8" cy="891.4"/><circle cx="1136.3" cy="899.2"/><circle cx="1148.6" cy="881.6"/><circle cx="1165.5" cy="881.7"/><circle cx="1149.6" cy="888"/><circle cx="1147.5" cy="893.3"/><circle cx="1130.6" cy="904.7"/><circle cx="1148.7" cy="888.1"/><circle cx="1162.4" cy="881.1"/><circle cx="1132.4" cy="890.1"/><circle cx="1132.3" cy="888.2"/><circle cx="1208.8" cy="835.3"/><circle cx="1188.2" cy="852.5"/><circle cx="1179.6" cy="875.6"/><circle cx="1152.7" cy="906.6"/><circle cx="1135.8" cy="853.6"/><circle cx="1145.2" cy="852.5"/><circle cx="1170.2" cy="857.7"/><circle cx="1158.3" cy="857"/><circle cx="1120.1" cy="894.9"/><circle cx="1120.9" cy="903.1"/>
</g>
<line x1="1121.2" y1="900.4" x2="1207.6" y2="842.9" stroke="#4168c2" stroke-width="2.85"/>
<text class="tt" style="font-size:17.8px" x="1100.3" y="515.1">BE3</text>
<text class="tt" style="font-size:17.8px" x="1100.3" y="534.6">Adj. R-squared: 0.4695</text>
<text class="ax m" x="1306.2" y="962.8">Control replicate 1: BE (%)</text>
<text class="ax m" x="1306.2" y="979.6"><tspan font-style="italic">n</tspan> = 602</text>
<text class="ax m" transform="translate(1046.6 734.3) rotate(-90)">Control replicate 2: BE (%)</text>
<text class="ax m" transform="translate(1062.6 734.3) rotate(-90)"><tspan font-style="italic">n</tspan> = 600</text>
</g>
<g id="panel-b4">
<rect x="1604.8" y="545.4" width="412.2" height="377.9" fill="#ebebeb"/>
<path d="M1670.2 545.4V923.3M1604.8 861.9H2017M1763.8 545.4V923.3M1604.8 776H2017M1857.5 545.4V923.3M1604.8 690.2H2017M1951.1 545.4V923.3M1604.8 604.3H2017" stroke="#fff" stroke-width="0.6" fill="none" opacity="0.9"/>
<path d="M1623.4 545.4V923.3M1604.8 904.8H2017M1717 545.4V923.3M1604.8 818.9H2017M1810.7 545.4V923.3M1604.8 733.1H2017M1904.3 545.4V923.3M1604.8 647.2H2017M1997.9 545.4V923.3M1604.8 561.4H2017" stroke="#fff" stroke-width="1.25" fill="none"/>
<path d="M1623.4 923.3v3.8M1604.8 904.8h-3.8M1717 923.3v3.8M1604.8 818.9h-3.8M1810.7 923.3v3.8M1604.8 733.1h-3.8M1904.3 923.3v3.8M1604.8 647.2h-3.8M1997.9 923.3v3.8M1604.8 561.4h-3.8" stroke="#333" stroke-width="1.2" fill="none"/>
<text class="tk m" x="1623.4" y="942.5">0</text>
<text class="tk e" x="1595" y="910.1">0</text>
<text class="tk m" x="1717" y="942.5">25</text>
<text class="tk e" x="1595" y="824.2">25</text>
<text class="tk m" x="1810.7" y="942.5">50</text>
<text class="tk e" x="1595" y="738.4">50</text>
<text class="tk m" x="1904.3" y="942.5">75</text>
<text class="tk e" x="1595" y="652.5">75</text>
<text class="tk m" x="1997.9" y="942.5">100</text>
<text class="tk e" x="1595" y="566.7">100</text>
<g class="bp" fill="#000" fill-opacity="0.8" stroke="#000" stroke-opacity="0.85" stroke-width="0.6">
<circle cx="1975.2" cy="577.5"/><circle cx="1867.3" cy="687.3"/><circle cx="1917" cy="649.9"/><circle cx="1677.4" cy="859.6"/><circle cx="1851.5" cy="694.2"/><circle cx="1833.5" cy="702.2"/><circle cx="1698.3" cy="838.2"/><circle cx="1793.2" cy="753.1"/><circle cx="1742.1" cy="780.6"/><circle cx="1788.3" cy="761.9"/><circle cx="1669.5" cy="853.3"/><circle cx="1863.7" cy="674.1"/><circle cx="1643.2" cy="896.8"/><circle cx="1648.8" cy="879.6"/><circle cx="1774.1" cy="773.3"/><circle cx="1943.1" cy="618.1"/><circle cx="1664.9" cy="883"/><circle cx="1865.1" cy="702"/><circle cx="1719.3" cy="813.1"/><circle cx="1635.9" cy="895.9"/><circle cx="1903.5" cy="645.6"/><circle cx="1640.3" cy="897"/><circle cx="1663.1" cy="871.4"/><circle cx="1865" cy="686.9"/><circle cx="1638.7" cy="901.3"/><circle cx="1816.8" cy="748.9"/><circle cx="1632.6" cy="894.2"/><circle cx="1867.8" cy="679.3"/><circle cx="1661.6" cy="877.9"/><circle cx="1886.9" cy="664.7"/><circle cx="1627.2" cy="898.7"/><circle cx="1961.5" cy="585.3"/><circle cx="1631.6" cy="902"/><circle cx="1700.8" cy="828.1"/><circle cx="1810.9" cy="706.2"/><circle cx="1729.2" cy="807.4"/><circle cx="1793.2" cy="731.6"/><circle cx="1881.9" cy="697.8"/><circle cx="1680.1" cy="839.4"/><circle cx="1661.9" cy="869.8"/><circle cx="1771" cy="791.1"/><circle cx="1633.2" cy="891.7"/><circle cx="1651.9" cy="870.6"/><circle cx="1645.6" cy="875.5"/><circle cx="1900.2" cy="639.1"/><circle cx="1639.9" cy="890.1"/><circle cx="1966.9" cy="593.5"/><circle cx="1634.7" cy="897.3"/><circle cx="1959.8" cy="596.7"/><circle cx="1824.1" cy="716"/><circle cx="1792.8" cy="755.7"/><circle cx="1897.5" cy="653.3"/><circle cx="1679.6" cy="845.3"/><circle cx="1661.4" cy="867.5"/><circle cx="1671.3" cy="840.5"/><circle cx="1982.1" cy="571.7"/><circle cx="1650.7" cy="889"/><circle cx="1918.3" cy="639.6"/><circle cx="1709.4" cy="839.1"/><circle cx="1668.2" cy="874.2"/><circle cx="1640.4" cy="885.6"/><circle cx="1685.8" cy="857.3"/><circle cx="1699.9" cy="845.1"/><circle cx="1629.9" cy="900.3"/><circle cx="1675.3" cy="850.1"/><circle cx="1656.7" cy="877.5"/><circle cx="1906.9" cy="648.6"/><circle cx="1639.7" cy="883.7"/><circle cx="1924.1" cy="625.4"/><circle cx="1648.7" cy="878.3"/><circle cx="1774.7" cy="755.5"/><circle cx="1712.1" cy="833.7"/><circle cx="1688.9" cy="843"/><circle cx="1799" cy="752"/><circle cx="1696.3" cy="828.4"/><circle cx="1730.3" cy="798.9"/><circle cx="1645.1" cy="893"/><circle cx="1804.7" cy="722.1"/><circle cx="1957.6" cy="605"/><circle cx="1978.7" cy="574.5"/><circle cx="1838" cy="705.8"/><circle cx="1629.9" cy="903.1"/><circle cx="1876.1" cy="686.5"/><circle cx="1638.6" cy="893.1"/><circle cx="1719.4" cy="817.3"/><circle cx="1647.1" cy="888.8"/><circle cx="1975.6" cy="579.6"/><circle cx="1693.8" cy="854"/><circle cx="1631.5" cy="897.5"/><circle cx="1971.7" cy="585.6"/><circle cx="1825.2" cy="743.6"/><circle cx="1701.5" cy="830.5"/><circle cx="1664.4" cy="878.4"/><circle cx="1670.4" cy="884.3"/><circle cx="1889.1" cy="668.4"/><circle cx="1793.2" cy="752.3"/><circle cx="1744.4" cy="784.7"/><circle cx="1642.2" cy="891.4"/><circle cx="1638.5" cy="881.4"/><circle cx="1848" cy="681.7"/><circle cx="1676.8" cy="845.9"/><circle cx="1657.7" cy="862.6"/><circle cx="1945" cy="607.8"/><circle cx="1834.1" cy="718.9"/><circle cx="1895" cy="649.2"/><circle cx="1724.9" cy="802.4"/><circle cx="1679.7" cy="851.2"/><circle cx="1652.3" cy="880.5"/><circle cx="1767.8" cy="790.5"/><circle cx="1861.6" cy="678.7"/><circle cx="1757.8" cy="778"/><circle cx="1671.8" cy="872.5"/><circle cx="1846.8" cy="699.1"/><circle cx="1777.2" cy="755.7"/><circle cx="1830.3" cy="716.8"/><circle cx="1725" cy="804.1"/><circle cx="1856.7" cy="682.1"/><circle cx="1839.9" cy="724.8"/><circle cx="1643.1" cy="889.2"/><circle cx="1659.7" cy="867.7"/><circle cx="1667.1" cy="856.9"/><circle cx="1679.4" cy="840.4"/><circle cx="1955.3" cy="611.6"/><circle cx="1937.3" cy="617.7"/><circle cx="1741.2" cy="789.7"/><circle cx="1892.7" cy="644.8"/><circle cx="1752.6" cy="768.4"/><circle cx="1710.9" cy="834.1"/><circle cx="1634.9" cy="896.6"/><circle cx="1679.7" cy="863.4"/><circle cx="1873.3" cy="666.4"/><circle cx="1858.9" cy="705.2"/><circle cx="1707.4" cy="816.5"/><circle cx="1706.4" cy="819.8"/><circle cx="1831.7" cy="708.1"/><circle cx="1889.7" cy="685.2"/><circle cx="1925" cy="634"/><circle cx="1684.7" cy="841.8"/><circle cx="1634.4" cy="903.1"/><circle cx="1690.4" cy="846"/><circle cx="1935.1" cy="619.9"/><circle cx="1634.2" cy="890"/><circle cx="1675.3" cy="854.9"/><circle cx="1737.9" cy="797.3"/><circle cx="1650.4" cy="883.8"/><circle cx="1642.4" cy="887.5"/><circle cx="1964.5" cy="592.9"/><circle cx="1776.6" cy="756.2"/><circle cx="1669.6" cy="864.3"/><circle cx="1683.3" cy="840.3"/><circle cx="1643.1" cy="899.7"/><circle cx="1895.5" cy="642.8"/><circle cx="1636.7" cy="893.9"/><circle cx="1659.7" cy="862.3"/><circle cx="1846.8" cy="699.3"/><circle cx="1734.7" cy="794.4"/><circle cx="1671.5" cy="847.5"/><circle cx="1967.9" cy="591.7"/><circle cx="1628.2" cy="900.2"/><circle cx="1713.9" cy="823.8"/><circle cx="1744.7" cy="791.7"/><circle cx="1882.9" cy="686"/><circle cx="1662.6" cy="870.6"/><circle cx="1831.5" cy="717.5"/><circle cx="1694.4" cy="847.6"/><circle cx="1671" cy="863.2"/><circle cx="1719.8" cy="832.2"/><circle cx="1842.1" cy="687.4"/><circle cx="1686.8" cy="842.7"/><circle cx="1690.2" cy="825.7"/><circle cx="1864" cy="695"/><circle cx="1828.8" cy="731.5"/><circle cx="1659.3" cy="869.8"/><circle cx="1951.5" cy="614.2"/><circle cx="1708.8" cy="824.6"/><circle cx="1703.5" cy="838.6"/><circle cx="1688.7" cy="848.5"/><circle cx="1789.1" cy="750.2"/><circle cx="1672.5" cy="859.6"/><circle cx="1748" cy="771.1"/><circle cx="1875" cy="667.1"/><circle cx="1669" cy="874.8"/><circle cx="1640" cy="882.9"/><circle cx="1681.8" cy="864.4"/><circle cx="1680.2" cy="852.2"/><circle cx="1945.1" cy="618.2"/><circle cx="1684.9" cy="856.7"/><circle cx="1639.2" cy="881.5"/><circle cx="1905.3" cy="652.1"/><circle cx="1673" cy="865.5"/><circle cx="1697.7" cy="842.5"/><circle cx="1674" cy="861.6"/><circle cx="1655.3" cy="864"/><circle cx="1674.8" cy="868.9"/><circle cx="1866.2" cy="697.3"/><circle cx="1642.9" cy="882.9"/><circle cx="1647.5" cy="895.3"/><circle cx="1760" cy="784"/><circle cx="1718.2" cy="807"/><circle cx="1776.5" cy="764.9"/><circle cx="1833.2" cy="718.9"/><circle cx="1952.3" cy="607.7"/><circle cx="1672.6" cy="868.4"/><circle cx="1634.3" cy="898.4"/><circle cx="1783.1" cy="757.2"/><circle cx="1883.5" cy="652.4"/><circle cx="1934.1" cy="613"/><circle cx="1641.6" cy="892.6"/><circle cx="1923.8" cy="635.8"/><circle cx="1854.7" cy="684.8"/><circle cx="1799.8" cy="766.3"/><circle cx="1762.7" cy="782.4"/><circle cx="1748" cy="794.4"/><circle cx="1728.1" cy="820.4"/><circle cx="1697.6" cy="846.9"/><circle cx="1641.9" cy="885.6"/><circle cx="1676.3" cy="872.2"/><circle cx="1908.5" cy="652.6"/><circle cx="1658.1" cy="878.8"/><circle cx="1880" cy="669.2"/><circle cx="1918.2" cy="647"/><circle cx="1713.1" cy="812.3"/><circle cx="1756.7" cy="786.5"/><circle cx="1917.9" cy="637.6"/><circle cx="1871.3" cy="682.4"/><circle cx="1765.5" cy="782.7"/><circle cx="1819.1" cy="738.5"/><circle cx="1632.3" cy="890.9"/><circle cx="1645" cy="883.9"/><circle cx="1781.1" cy="762.2"/><circle cx="1676" cy="847.8"/><circle cx="1961.9" cy="598.5"/><circle cx="1690.1" cy="838.2"/><circle cx="1870.7" cy="678.5"/><circle cx="1821.3" cy="735.4"/><circle cx="1684" cy="842.6"/><circle cx="1865.7" cy="701.2"/><circle cx="1935.8" cy="614.1"/><circle cx="1737.2" cy="810.1"/><circle cx="1903.8" cy="644.3"/><circle cx="1665.7" cy="854.6"/><circle cx="1654.2" cy="872.5"/><circle cx="1638.2" cy="895.7"/><circle cx="1669.4" cy="863.5"/><circle cx="1775.1" cy="770.8"/><circle cx="1651.9" cy="888.6"/><circle cx="1632.8" cy="902.6"/><circle cx="1629.2" cy="899.6"/><circle cx="1761.6" cy="772.9"/><circle cx="1810.5" cy="756.8"/><circle cx="1757.7" cy="783.3"/><circle cx="1772.2" cy="763.4"/><circle cx="1696.6" cy="837.4"/><circle cx="1950.8" cy="611.2"/><circle cx="1637.1" cy="886.1"/><circle cx="1948.1" cy="615.3"/><circle cx="1669.6" cy="857.4"/><circle cx="1675.7" cy="842.8"/><circle cx="1863.6" cy="709.7"/><circle cx="1635.5" cy="892.6"/><circle cx="1682.1" cy="848.8"/><circle cx="1720.5" cy="814.4"/><circle cx="1771.6" cy="778.7"/><circle cx="1637" cy="894.9"/><circle cx="1877.5" cy="689.1"/><circle cx="1725.3" cy="810.9"/><circle cx="1827.3" cy="712.3"/><circle cx="1657.9" cy="879.5"/><circle cx="1786.4" cy="767.5"/><circle cx="1721" cy="820.9"/><circle cx="1754.1" cy="786.1"/><circle cx="1874.4" cy="675"/><circle cx="1686.7" cy="848.6"/><circle cx="1747.1" cy="791.6"/><circle cx="1713.2" cy="836.3"/><circle cx="1661.8" cy="893.6"/><circle cx="1652.8" cy="873.7"/><circle cx="1631.2" cy="890.9"/><circle cx="1953.1" cy="611.4"/><circle cx="1797.6" cy="754.5"/><circle cx="1694.7" cy="837.5"/><circle cx="1917.7" cy="627.5"/><circle cx="1924.4" cy="624.3"/><circle cx="1971.2" cy="580.6"/><circle cx="1874.6" cy="676.2"/><circle cx="1756.4" cy="779.4"/><circle cx="1661.1" cy="867.5"/><circle cx="1888" cy="668.1"/><circle cx="1663.5" cy="858.6"/><circle cx="1632.4" cy="893.8"/><circle cx="1760.9" cy="769"/><circle cx="1660.7" cy="874.7"/><circle cx="1673.5" cy="850.4"/><circle cx="1801.3" cy="756.1"/><circle cx="1639" cy="888.5"/><circle cx="1651" cy="900.9"/><circle cx="1652.4" cy="887"/><circle cx="1761.5" cy="771.1"/><circle cx="1660" cy="875.8"/><circle cx="1663.9" cy="867.1"/><circle cx="1691.3" cy="859"/><circle cx="1890.2" cy="644.1"/><circle cx="1672.6" cy="855.2"/><circle cx="1696.7" cy="838.8"/><circle cx="1975.8" cy="580.3"/><circle cx="1722" cy="812.2"/><circle cx="1703.4" cy="818.7"/><circle cx="1837.2" cy="707.4"/><circle cx="1668.7" cy="877.1"/><circle cx="1738.5" cy="802.9"/><circle cx="1712.4" cy="811.6"/><circle cx="1669.1" cy="858.7"/><circle cx="1630.1" cy="901.2"/><circle cx="1822.8" cy="715.5"/><circle cx="1671.2" cy="860.8"/><circle cx="1756.3" cy="777.5"/><circle cx="1673.3" cy="874.4"/><circle cx="1634.7" cy="900.2"/><circle cx="1674.5" cy="852.8"/><circle cx="1674.6" cy="860.8"/><circle cx="1757.8" cy="778.9"/><circle cx="1952" cy="592.5"/><circle cx="1670.7" cy="865.1"/><circle cx="1880.6" cy="667.4"/><circle cx="1729.9" cy="813.8"/><circle cx="1765.3" cy="782.8"/><circle cx="1852.9" cy="696.5"/><circle cx="1723.8" cy="828.2"/><circle cx="1978.1" cy="588.4"/><circle cx="1719.6" cy="804.1"/><circle cx="1953.8" cy="603.1"/><circle cx="1742.9" cy="784.7"/><circle cx="1774.2" cy="766.3"/><circle cx="1844.2" cy="701.8"/><circle cx="1668.1" cy="858.8"/><circle cx="1678.3" cy="848.7"/><circle cx="1717.3" cy="831.6"/><circle cx="1975.3" cy="577.4"/><circle cx="1680.6" cy="862.4"/><circle cx="1796.6" cy="744.8"/><circle cx="1689.6" cy="820.7"/><circle cx="1627.4" cy="901.2"/><circle cx="1650.8" cy="867.4"/><circle cx="1815.1" cy="734.7"/><circle cx="1664.5" cy="862.7"/><circle cx="1804.3" cy="739.5"/><circle cx="1717.6" cy="815.3"/><circle cx="1703.3" cy="840.8"/><circle cx="1643.7" cy="893.8"/><circle cx="1680.5" cy="850.3"/><circle cx="1868.3" cy="699.7"/><circle cx="1797" cy="757.2"/><circle cx="1790.9" cy="744.7"/><circle cx="1693.9" cy="847"/><circle cx="1721.4" cy="824.7"/><circle cx="1668.3" cy="874.3"/><circle cx="1736.4" cy="800.7"/><circle cx="1826.4" cy="724.4"/><circle cx="1645" cy="884.6"/><circle cx="1731.4" cy="808.7"/><circle cx="1729" cy="790.5"/><circle cx="1791.1" cy="757.5"/><circle cx="1884.7" cy="688.7"/><circle cx="1668.3" cy="863.5"/><circle cx="1661.6" cy="870.6"/><circle cx="1698.6" cy="835.3"/><circle cx="1757.4" cy="800.4"/><circle cx="1702" cy="822.7"/><circle cx="1732.8" cy="805.8"/><circle cx="1724" cy="813.9"/><circle cx="1719.1" cy="833.6"/><circle cx="1805.6" cy="733"/><circle cx="1880.7" cy="670.7"/><circle cx="1851.3" cy="680.8"/><circle cx="1743.3" cy="800.2"/><circle cx="1637.2" cy="900.6"/><circle cx="1750.1" cy="788.4"/><circle cx="1914.5" cy="647"/><circle cx="1675.8" cy="853.8"/><circle cx="1663.2" cy="878.4"/><circle cx="1668.4" cy="865.6"/><circle cx="1729.1" cy="811.1"/><circle cx="1688.1" cy="846.8"/><circle cx="1782.7" cy="765.9"/><circle cx="1711.9" cy="832.5"/><circle cx="1937.1" cy="618.3"/><circle cx="1850.7" cy="704.6"/><circle cx="1964.1" cy="592.2"/><circle cx="1657.3" cy="876.8"/><circle cx="1695.8" cy="860.8"/><circle cx="1769" cy="773.1"/><circle cx="1671.6" cy="849.1"/><circle cx="1719.6" cy="814.6"/><circle cx="1679.5" cy="848.7"/><circle cx="1810.1" cy="729.1"/><circle cx="1864.9" cy="690.1"/><circle cx="1954.8" cy="609.1"/><circle cx="1895.8" cy="647.6"/><circle cx="1687.3" cy="837.2"/><circle cx="1658.1" cy="869.2"/><circle cx="1968.6" cy="586.7"/><circle cx="1701.9" cy="830"/><circle cx="1731.1" cy="807.3"/><circle cx="1648.5" cy="880.5"/><circle cx="1642.2" cy="888.2"/><circle cx="1767.4" cy="770.2"/><circle cx="1716.8" cy="829.4"/><circle cx="1685.6" cy="854.6"/><circle cx="1636.7" cy="889.8"/><circle cx="1784.5" cy="762.2"/><circle cx="1636.2" cy="903.8"/><circle cx="1727.9" cy="808.7"/><circle cx="1746.7" cy="816.4"/><circle cx="1677.6" cy="838.4"/><circle cx="1661.9" cy="864.3"/><circle cx="1649.1" cy="876.8"/><circle cx="1661.3" cy="876.4"/><circle cx="1772.5" cy="781.9"/><circle cx="1629.5" cy="900.6"/><circle cx="1933" cy="621.5"/><circle cx="1886.6" cy="673.2"/><circle cx="1687.6" cy="845.4"/><circle cx="1787.2" cy="747.7"/><circle cx="1640.5" cy="885.6"/><circle cx="1800.2" cy="756.5"/><circle cx="1868.2" cy="706.4"/><circle cx="1679.3" cy="854.4"/><circle cx="1801.2" cy="751"/><circle cx="1733.2" cy="800.7"/><circle cx="1708.3" cy="812.1"/><circle cx="1631.6" cy="889.4"/><circle cx="1883.5" cy="664.1"/><circle cx="1904.5" cy="637.2"/><circle cx="1901.8" cy="634.3"/><circle cx="1771.8" cy="769.3"/><circle cx="1663.4" cy="866.6"/><circle cx="1738.8" cy="791.4"/><circle cx="1856.5" cy="692.6"/><circle cx="1894.3" cy="662.6"/><circle cx="1675.3" cy="864.8"/><circle cx="1976.6" cy="581.3"/><circle cx="1680.7" cy="858.8"/><circle cx="1888" cy="654.4"/><circle cx="1717.9" cy="822.2"/><circle cx="1771.8" cy="753.4"/><circle cx="1677.1" cy="845.4"/><circle cx="1824.7" cy="736.5"/><circle cx="1690.4" cy="834.1"/><circle cx="1640.3" cy="892.6"/><circle cx="1650.5" cy="870.1"/><circle cx="1723.5" cy="808.8"/><circle cx="1871.5" cy="678.8"/><circle cx="1970.7" cy="583.7"/><circle cx="1669.7" cy="867.9"/><circle cx="1644.4" cy="883.7"/><circle cx="1864.6" cy="680.2"/><circle cx="1802.2" cy="743.6"/><circle cx="1638.7" cy="888.7"/><circle cx="1820.3" cy="737.5"/><circle cx="1705.7" cy="824.8"/><circle cx="1681.9" cy="863"/><circle cx="1976.2" cy="579.1"/><circle cx="1912.2" cy="636.4"/><circle cx="1787.8" cy="746.7"/><circle cx="1751.1" cy="794.3"/><circle cx="1931.9" cy="600.2"/><circle cx="1829.5" cy="719.5"/><circle cx="1641.3" cy="887.8"/><circle cx="1866.2" cy="691.7"/><circle cx="1700" cy="821.8"/><circle cx="1688.3" cy="850.3"/><circle cx="1743" cy="785.8"/><circle cx="1679.6" cy="862.6"/><circle cx="1647.4" cy="881"/><circle cx="1898.2" cy="657.2"/><circle cx="1748.1" cy="781.6"/><circle cx="1673.2" cy="862.3"/><circle cx="1627" cy="903.8"/><circle cx="1734.7" cy="799"/><circle cx="1928.2" cy="634.9"/><circle cx="1646.5" cy="891.1"/><circle cx="1813.4" cy="721.8"/><circle cx="1875.8" cy="695.1"/><circle cx="1647.4" cy="877.6"/><circle cx="1633.5" cy="898"/><circle cx="1664.8" cy="875"/><circle cx="1815" cy="726.8"/><circle cx="1924.2" cy="624.4"/><circle cx="1692.5" cy="847.4"/><circle cx="1758" cy="783.8"/><circle cx="1725" cy="804.4"/><circle cx="1706.9" cy="821.6"/><circle cx="1659.4" cy="872.6"/><circle cx="1649.7" cy="886.8"/><circle cx="1652" cy="886.2"/><circle cx="1683.7" cy="855.4"/><circle cx="1788.2" cy="746.3"/><circle cx="1831" cy="708.1"/><circle cx="1967.5" cy="588.1"/><circle cx="1675.4" cy="845.2"/><circle cx="1722.7" cy="817"/><circle cx="1721.5" cy="818.9"/><circle cx="1934.2" cy="622.8"/><circle cx="1854.7" cy="671.1"/><circle cx="1901.8" cy="669.9"/><circle cx="1890.8" cy="656.9"/><circle cx="1933.2" cy="617.8"/><circle cx="1857.9" cy="689.5"/><circle cx="1804.4" cy="711"/><circle cx="1692.9" cy="830.6"/><circle cx="1642.8" cy="881.7"/><circle cx="1644.2" cy="892.5"/><circle cx="1963.3" cy="590.8"/><circle cx="1919.9" cy="636.2"/><circle cx="1737.2" cy="800.3"/><circle cx="1771.5" cy="767.1"/><circle cx="1749.4" cy="794.5"/><circle cx="1877.8" cy="664.8"/><circle cx="1968.8" cy="580.8"/><circle cx="1790.3" cy="740"/><circle cx="1880.3" cy="667.1"/><circle cx="1659.4" cy="887.5"/><circle cx="1970.8" cy="581.6"/><circle cx="1775" cy="754.1"/><circle cx="1889.3" cy="663.3"/><circle cx="1632.8" cy="898.7"/><circle cx="1645.5" cy="879.9"/><circle cx="1972.2" cy="588.5"/><circle cx="1740" cy="790.2"/><circle cx="1725.4" cy="821.8"/><circle cx="1715.8" cy="829"/><circle cx="1860.5" cy="687.4"/><circle cx="1656.6" cy="885.9"/><circle cx="1658.8" cy="872.5"/><circle cx="1650.2" cy="876.3"/><circle cx="1728.2" cy="821.5"/><circle cx="1635.2" cy="888.9"/><circle cx="1916.2" cy="641.2"/><circle cx="1822.4" cy="715.8"/><circle cx="1701.5" cy="831.3"/><circle cx="1820.5" cy="729.7"/><circle cx="1699.7" cy="839.8"/><circle cx="1743.6" cy="811.7"/><circle cx="1666.6" cy="871.1"/><circle cx="1852.5" cy="703.8"/><circle cx="1649.1" cy="869"/><circle cx="1635.8" cy="887.5"/><circle cx="1645.5" cy="894.6"/><circle cx="1659.5" cy="865.4"/><circle cx="1656" cy="873.3"/><circle cx="1628.6" cy="901.7"/><circle cx="1698.5" cy="831.8"/><circle cx="1637.1" cy="887.5"/><circle cx="1848.7" cy="704.9"/><circle cx="1835.7" cy="713.5"/><circle cx="1872.1" cy="675"/><circle cx="1868.7" cy="691"/><circle cx="1662.6" cy="867.4"/><circle cx="1686" cy="848.1"/><circle cx="1687.6" cy="852.2"/><circle cx="1682" cy="858.8"/><circle cx="1647.6" cy="880.4"/><circle cx="1688.6" cy="837.1"/><circle cx="1711.4" cy="821"/><circle cx="1649.3" cy="887.5"/><circle cx="1641" cy="883.6"/><circle cx="1651.4" cy="877.9"/><circle cx="1719.9" cy="810.8"/><circle cx="1666.7" cy="855.4"/><circle cx="1851.2" cy="706.3"/><circle cx="1656.5" cy="875.6"/><circle cx="1670.8" cy="866.5"/><circle cx="1746.8" cy="800.4"/><circle cx="1977.8" cy="572.2"/><circle cx="1701.6" cy="824.4"/><circle cx="1623.4" cy="902.1"/><circle cx="1988.5" cy="574.1"/><circle cx="1982.9" cy="576.9"/><circle cx="1967.9" cy="579.3"/><circle cx="1893" cy="616.3"/><circle cx="1850" cy="752"/><circle cx="1808.8" cy="772.6"/><circle cx="1683.3" cy="890.4"/><circle cx="1666.5" cy="891.1"/><circle cx="1754.5" cy="825.8"/><circle cx="1769.5" cy="810.4"/><circle cx="1760.1" cy="810"/><circle cx="1660.9" cy="835.4"/><circle cx="1675.8" cy="826.5"/><circle cx="1698.3" cy="801.8"/><circle cx="1717" cy="783.9"/><circle cx="1715.2" cy="788"/><circle cx="1812.5" cy="693.6"/><circle cx="1788.2" cy="704.9"/><circle cx="1801.3" cy="705.6"/><circle cx="1783.7" cy="721.1"/><circle cx="1900.5" cy="678.2"/><circle cx="1874.3" cy="711.8"/><circle cx="1627.1" cy="888.3"/><circle cx="1634.6" cy="872.2"/><circle cx="1634.6" cy="869.4"/><circle cx="1836.9" cy="666.1"/><circle cx="1848.1" cy="665.1"/><circle cx="1859.3" cy="659.3"/><circle cx="1823.8" cy="748.2"/><circle cx="1827.5" cy="747.5"/><circle cx="1836.9" cy="738.3"/>
</g>
<line x1="1627.1" y1="902.1" x2="1987.8" y2="573.4" stroke="#4168c2" stroke-width="2.85"/>
<text class="tt" style="font-size:17.8px" x="1605.2" y="515.1">BE3</text>
<text class="tt" style="font-size:17.8px" x="1605.2" y="534.6">Adj. R-squared: 0.9792</text>
<text class="ax m" x="1810.9" y="963.9">Dox. replicate 1: Indels (%)</text>
<text class="ax m" x="1810.9" y="979.6"><tspan font-style="italic">n</tspan> = 600</text>
<text class="ax m" transform="translate(1551.8 734.3) rotate(-90)">Dox. replicate 2: BE (%)</text>
<text class="ax m" transform="translate(1567.7 734.3) rotate(-90)"><tspan font-style="italic">n</tspan> = 601</text>
</g>
<text class="lab" transform="translate(1035.2 30.7) scale(1.045 1)">b</text>
<g id="panel-c1">
<rect x="49.1" y="1066.7" width="435.3" height="427" fill="#fff"/>
<path d="M49.1 1426H484.4M49.1 1328.7H484.4M49.1 1231.3H484.4M49.1 1134H484.4" stroke="#efefef" stroke-width="0.8" fill="none"/>
<path d="M49.1 1474.7H484.4M49.1 1377.3H484.4M49.1 1280H484.4M49.1 1182.7H484.4M49.1 1085.3H484.4M167.2 1066.7V1493.7M365 1066.7V1493.7" stroke="#e9e9e9" stroke-width="1.2" fill="none"/>
<clipPath id="clc1"><rect x="49.1" y="1066.7" width="435.3" height="427"/></clipPath>
<g clip-path="url(#clc1)">
<g class="jp" fill="#000" fill-opacity="0.105" stroke="#000" stroke-opacity="0.13" stroke-width="0.45">
<circle cx="160.9" cy="1150.3"/><circle cx="156.9" cy="1305"/><circle cx="186.7" cy="1471.7"/><circle cx="171.9" cy="1429.5"/><circle cx="176.4" cy="1455.5"/><circle cx="149.9" cy="1474.7"/><circle cx="200.4" cy="1438.3"/><circle cx="179" cy="1436.5"/><circle cx="177" cy="1474"/><circle cx="186.8" cy="1454"/><circle cx="198.4" cy="1451.3"/><circle cx="142.7" cy="1474.7"/><circle cx="149.4" cy="1357.9"/><circle cx="202.8" cy="1339.8"/><circle cx="180.3" cy="1377.1"/><circle cx="154.5" cy="1403.3"/><circle cx="203.9" cy="1448"/><circle cx="162" cy="1471.9"/><circle cx="190.2" cy="1347.9"/><circle cx="198.2" cy="1401.3"/><circle cx="168.5" cy="1463.1"/><circle cx="160.9" cy="1417.8"/><circle cx="139.2" cy="1387.3"/><circle cx="134.9" cy="1448.6"/><circle cx="200.8" cy="1273.7"/><circle cx="178.7" cy="1436.5"/><circle cx="135.8" cy="1473.6"/><circle cx="174" cy="1469"/><circle cx="192.8" cy="1468.1"/><circle cx="156.6" cy="1301.1"/><circle cx="130.8" cy="1472.5"/><circle cx="179.7" cy="1432.4"/><circle cx="204.5" cy="1452.4"/><circle cx="185.1" cy="1443.7"/><circle cx="202" cy="1468.3"/><circle cx="137.2" cy="1435.4"/><circle cx="151.5" cy="1329.4"/><circle cx="188" cy="1413.5"/><circle cx="164.4" cy="1465.3"/><circle cx="142.9" cy="1275.1"/><circle cx="155.3" cy="1110.8"/><circle cx="151" cy="1427.8"/><circle cx="182.5" cy="1441.5"/><circle cx="187.8" cy="1473.4"/><circle cx="185" cy="1469.7"/><circle cx="179.9" cy="1439.2"/><circle cx="185.9" cy="1466.7"/><circle cx="149.4" cy="1374.7"/><circle cx="150.5" cy="1448.1"/><circle cx="203.5" cy="1394"/><circle cx="195.9" cy="1462.8"/><circle cx="189.3" cy="1421.3"/><circle cx="178" cy="1356.7"/><circle cx="152.7" cy="1461.8"/><circle cx="172.1" cy="1425.3"/><circle cx="147.9" cy="1352.1"/><circle cx="136.9" cy="1437.5"/><circle cx="155.1" cy="1470.1"/><circle cx="190.5" cy="1425.9"/><circle cx="140" cy="1253.4"/><circle cx="132.9" cy="1426.9"/><circle cx="188.6" cy="1402.2"/><circle cx="196.1" cy="1073.3"/><circle cx="150.1" cy="1472.4"/><circle cx="201.9" cy="1378.9"/><circle cx="165.5" cy="1418.2"/><circle cx="181.3" cy="1441.7"/><circle cx="163" cy="1468.2"/><circle cx="192.9" cy="1423.5"/><circle cx="197.2" cy="1449"/><circle cx="152.2" cy="1303.1"/><circle cx="200.1" cy="1460.5"/><circle cx="182.3" cy="1465.6"/><circle cx="156.9" cy="1473"/><circle cx="141.9" cy="1462"/><circle cx="163" cy="1105.7"/><circle cx="190.9" cy="1281.7"/><circle cx="182.4" cy="1435.7"/><circle cx="168" cy="1424.1"/><circle cx="198" cy="1397.1"/><circle cx="173.6" cy="1474.7"/><circle cx="194.6" cy="1474.4"/><circle cx="134.4" cy="1474.7"/><circle cx="135.5" cy="1395.1"/><circle cx="194.3" cy="1464.7"/><circle cx="149" cy="1471.5"/><circle cx="134.9" cy="1459.5"/><circle cx="153.6" cy="1461"/><circle cx="196.3" cy="1432.3"/><circle cx="144" cy="1376.8"/><circle cx="192.2" cy="1424.9"/><circle cx="147.5" cy="1474.7"/><circle cx="194.1" cy="1441.4"/><circle cx="200.5" cy="1425.2"/><circle cx="132.9" cy="1473.2"/><circle cx="154.4" cy="1438"/><circle cx="175.5" cy="1442.3"/><circle cx="154.5" cy="1465.9"/><circle cx="185.4" cy="1238.3"/><circle cx="146.5" cy="1452.8"/><circle cx="175.1" cy="1465.4"/><circle cx="141.7" cy="1466.5"/><circle cx="140.8" cy="1473"/><circle cx="189.6" cy="1334.2"/><circle cx="176.8" cy="1411.2"/><circle cx="172.3" cy="1413.9"/><circle cx="157.8" cy="1433.8"/><circle cx="201.3" cy="1438.8"/><circle cx="157.8" cy="1425.1"/><circle cx="133.1" cy="1359.8"/><circle cx="188.4" cy="1152.7"/><circle cx="151.9" cy="1077.1"/><circle cx="186.4" cy="1461.7"/><circle cx="174.5" cy="1253.5"/><circle cx="157.1" cy="1445.7"/><circle cx="169.7" cy="1275.2"/><circle cx="174.2" cy="1342.5"/><circle cx="185.2" cy="1344"/><circle cx="182.3" cy="1218.3"/><circle cx="161.9" cy="1086.3"/><circle cx="132.3" cy="1303.7"/><circle cx="191.9" cy="1474.7"/><circle cx="137.5" cy="1459.9"/><circle cx="158.1" cy="1466.1"/><circle cx="189" cy="1426.4"/><circle cx="203.4" cy="1470"/><circle cx="184.3" cy="1405.1"/><circle cx="133.1" cy="1472"/><circle cx="132.3" cy="1362.3"/><circle cx="185" cy="1464.6"/><circle cx="198.8" cy="1140.9"/><circle cx="177.8" cy="1472.5"/><circle cx="195.5" cy="1467.4"/><circle cx="178.3" cy="1446.5"/><circle cx="135.9" cy="1474.3"/><circle cx="176.2" cy="1368.9"/><circle cx="187.3" cy="1460.1"/><circle cx="166.7" cy="1350.1"/><circle cx="164.8" cy="1425.7"/><circle cx="137.2" cy="1425.8"/><circle cx="145.1" cy="1448"/><circle cx="139.3" cy="1352.3"/><circle cx="155.6" cy="1474.1"/><circle cx="159.8" cy="1450.2"/><circle cx="144.5" cy="1349.8"/><circle cx="141.8" cy="1471.5"/><circle cx="163.5" cy="1156.1"/><circle cx="166.6" cy="1329.2"/><circle cx="137.6" cy="1268.5"/><circle cx="139.6" cy="1389.9"/><circle cx="138.5" cy="1271.6"/><circle cx="193.3" cy="1426.1"/><circle cx="191" cy="1434.5"/><circle cx="203.7" cy="1355.6"/><circle cx="190.2" cy="1426.5"/><circle cx="167.7" cy="1448.4"/><circle cx="159.2" cy="1454.9"/><circle cx="173.6" cy="1430.5"/><circle cx="177" cy="1438.3"/><circle cx="204" cy="1335.5"/><circle cx="154.8" cy="1300.3"/><circle cx="197.6" cy="1283.6"/><circle cx="201.2" cy="1197.7"/><circle cx="201.5" cy="1441.1"/><circle cx="176.7" cy="1440.1"/><circle cx="175.9" cy="1219.8"/><circle cx="204.6" cy="1461.9"/><circle cx="160.7" cy="1356"/><circle cx="188" cy="1413.5"/><circle cx="135.5" cy="1367.5"/><circle cx="147.5" cy="1357.6"/><circle cx="167.5" cy="1366.7"/><circle cx="185" cy="1458"/><circle cx="143" cy="1473"/><circle cx="139.7" cy="1420"/><circle cx="132.4" cy="1369.2"/><circle cx="159.5" cy="1468.2"/><circle cx="191.5" cy="1427.4"/><circle cx="203.1" cy="1393"/><circle cx="186.8" cy="1356.6"/><circle cx="146.5" cy="1459.2"/><circle cx="197.1" cy="1468.1"/><circle cx="159.4" cy="1185.5"/><circle cx="179.9" cy="1462"/><circle cx="155" cy="1255"/><circle cx="154.3" cy="1267.1"/><circle cx="162.2" cy="1461.8"/><circle cx="197.7" cy="1276.2"/><circle cx="164.8" cy="1438.3"/><circle cx="136.1" cy="1445"/><circle cx="156.3" cy="1463.3"/><circle cx="173.7" cy="1391.9"/><circle cx="170.3" cy="1384.8"/><circle cx="201.6" cy="1417.8"/><circle cx="167.8" cy="1467.6"/><circle cx="189.1" cy="1286.6"/><circle cx="186.1" cy="1447.5"/><circle cx="164.7" cy="1454.9"/><circle cx="161.1" cy="1375.7"/><circle cx="164.2" cy="1461.6"/><circle cx="136" cy="1373.4"/><circle cx="138.1" cy="1474.7"/><circle cx="139.3" cy="1444.1"/><circle cx="135.7" cy="1431.7"/><circle cx="159.4" cy="1456.8"/><circle cx="140.7" cy="1456.8"/><circle cx="203.2" cy="1433.6"/><circle cx="160.1" cy="1296.7"/><circle cx="129.8" cy="1420.5"/><circle cx="179.3" cy="1474.7"/><circle cx="183.4" cy="1466.8"/><circle cx="201" cy="1451.4"/><circle cx="147.9" cy="1472.1"/><circle cx="185.9" cy="1470.2"/><circle cx="176.7" cy="1407.9"/><circle cx="176.6" cy="1365.3"/><circle cx="200" cy="1460.2"/><circle cx="158.7" cy="1457.8"/><circle cx="200.6" cy="1464.8"/><circle cx="130.9" cy="1372.9"/><circle cx="155.1" cy="1416.8"/><circle cx="187.1" cy="1387.7"/><circle cx="135.2" cy="1383.2"/><circle cx="198.9" cy="1318.7"/><circle cx="169.8" cy="1448.1"/><circle cx="129.8" cy="1341.2"/><circle cx="138.1" cy="1428.7"/><circle cx="130.4" cy="1424.8"/><circle cx="179.3" cy="1473.9"/><circle cx="155.3" cy="1453.2"/><circle cx="188.6" cy="1256.2"/><circle cx="184.9" cy="1385.3"/><circle cx="189.8" cy="1342.2"/><circle cx="143.8" cy="1344"/><circle cx="177.5" cy="1235.6"/><circle cx="167.4" cy="1374.4"/><circle cx="190.3" cy="1446.1"/><circle cx="160.7" cy="1422.4"/><circle cx="198.2" cy="1452.9"/><circle cx="146.1" cy="1444.7"/><circle cx="178.8" cy="1427.1"/><circle cx="189.8" cy="1432.4"/><circle cx="204" cy="1451.4"/><circle cx="158" cy="1449.3"/><circle cx="196.2" cy="1448.3"/><circle cx="174.9" cy="1461.1"/><circle cx="177.8" cy="1394.6"/><circle cx="148.9" cy="1468.1"/><circle cx="195.8" cy="1457.1"/><circle cx="134.5" cy="1462.6"/><circle cx="204.2" cy="1354.4"/><circle cx="172.2" cy="1452.7"/><circle cx="173.4" cy="1467.6"/><circle cx="142.7" cy="1474.7"/><circle cx="180.4" cy="1430.4"/><circle cx="141.2" cy="1276.5"/><circle cx="192.5" cy="1447"/><circle cx="185.9" cy="1443.3"/><circle cx="142.2" cy="1402.4"/><circle cx="189" cy="1469.8"/><circle cx="177.2" cy="1474.7"/><circle cx="151.9" cy="1465.2"/><circle cx="181.9" cy="1369.8"/><circle cx="167.2" cy="1323.7"/><circle cx="181.8" cy="1459.8"/><circle cx="196.7" cy="1409.9"/><circle cx="192.1" cy="1433.8"/><circle cx="137.6" cy="1461"/><circle cx="194.4" cy="1462.6"/><circle cx="201.1" cy="1139"/><circle cx="197.8" cy="1433.1"/><circle cx="146.4" cy="1349"/><circle cx="132.5" cy="1357.1"/><circle cx="163.2" cy="1422.4"/><circle cx="138.5" cy="1424.3"/><circle cx="139.4" cy="1404.3"/><circle cx="163" cy="1443.3"/><circle cx="202.9" cy="1341.8"/><circle cx="168.7" cy="1433.2"/><circle cx="204" cy="1420.1"/><circle cx="167.9" cy="1461.8"/><circle cx="131.1" cy="1469.2"/><circle cx="135.8" cy="1351.1"/><circle cx="195.4" cy="1369.4"/><circle cx="181.3" cy="1443.6"/><circle cx="196.7" cy="1472.1"/><circle cx="178.5" cy="1453.8"/><circle cx="150.8" cy="1444.6"/><circle cx="194.8" cy="1375.4"/><circle cx="184.5" cy="1392.3"/><circle cx="135.6" cy="1352.8"/><circle cx="192.2" cy="1146.4"/><circle cx="157" cy="1473.3"/><circle cx="193.2" cy="1401.9"/><circle cx="191.8" cy="1435.6"/><circle cx="197.9" cy="1360.1"/><circle cx="138.1" cy="1412.8"/><circle cx="185" cy="1443.1"/><circle cx="153.1" cy="1474.2"/><circle cx="194.2" cy="1448.4"/><circle cx="138.2" cy="1429.2"/><circle cx="195.6" cy="1444.6"/><circle cx="202.9" cy="1438.7"/><circle cx="168.5" cy="1372.5"/><circle cx="170.9" cy="1444.9"/><circle cx="175.6" cy="1177.6"/><circle cx="197.2" cy="1441.2"/><circle cx="136.1" cy="1430.8"/><circle cx="193.8" cy="1431"/><circle cx="155.8" cy="1474.7"/><circle cx="160.1" cy="1387.5"/><circle cx="138.7" cy="1474.4"/><circle cx="180.8" cy="1460.9"/><circle cx="146.5" cy="1471.6"/><circle cx="181.8" cy="1160.1"/><circle cx="156.4" cy="1474.7"/><circle cx="131.6" cy="1361.3"/><circle cx="149.3" cy="1437"/><circle cx="141.6" cy="1437.4"/><circle cx="163.5" cy="1474.7"/><circle cx="163.7" cy="1464.7"/><circle cx="158.5" cy="1381.2"/><circle cx="198.1" cy="1443.9"/><circle cx="158.5" cy="1472.7"/><circle cx="143.9" cy="1462.7"/><circle cx="200.9" cy="1462.7"/><circle cx="177.8" cy="1461"/><circle cx="201.3" cy="1428"/><circle cx="175.1" cy="1395"/><circle cx="154.3" cy="1343.5"/><circle cx="202.1" cy="1467.2"/><circle cx="150.3" cy="1359"/><circle cx="199.7" cy="1131.2"/><circle cx="187.4" cy="1352.6"/><circle cx="178.3" cy="1386.7"/><circle cx="144.9" cy="1465.6"/><circle cx="204.8" cy="1289.9"/><circle cx="167" cy="1350.3"/><circle cx="135.2" cy="1348.1"/><circle cx="181" cy="1442.1"/><circle cx="135.4" cy="1469.1"/><circle cx="178.4" cy="1464.7"/><circle cx="183.6" cy="1364.1"/><circle cx="144.8" cy="1448.2"/><circle cx="139.7" cy="1466.1"/><circle cx="179" cy="1264.8"/><circle cx="185.8" cy="1424.8"/><circle cx="198.8" cy="1450.7"/><circle cx="154" cy="1456.3"/><circle cx="136.9" cy="1442.3"/><circle cx="177" cy="1440.3"/><circle cx="192.6" cy="1458.7"/><circle cx="184.2" cy="1459.2"/><circle cx="149.8" cy="1432.7"/><circle cx="184.5" cy="1381.6"/><circle cx="194.1" cy="1355.7"/><circle cx="146" cy="1445.4"/><circle cx="187.6" cy="1450.8"/><circle cx="204.7" cy="1461.1"/><circle cx="157.8" cy="1471.5"/><circle cx="159.1" cy="1455.1"/><circle cx="132.8" cy="1470.3"/><circle cx="141.6" cy="1380.1"/><circle cx="185.6" cy="1397"/><circle cx="150" cy="1473.1"/><circle cx="153.5" cy="1347.3"/><circle cx="189.5" cy="1405.2"/><circle cx="186.5" cy="1411.9"/><circle cx="162.6" cy="1462.2"/><circle cx="145.4" cy="1305.4"/><circle cx="151.1" cy="1470.5"/><circle cx="138.5" cy="1420.3"/><circle cx="194.9" cy="1458.7"/><circle cx="189.5" cy="1467.9"/><circle cx="129.9" cy="1273.7"/><circle cx="196" cy="1460.1"/><circle cx="189.4" cy="1375.7"/><circle cx="193" cy="1359.2"/><circle cx="177.1" cy="1327.9"/><circle cx="145.2" cy="1470.9"/><circle cx="152" cy="1423.9"/><circle cx="158.8" cy="1465.8"/><circle cx="143.4" cy="1465.7"/><circle cx="131.6" cy="1463.2"/><circle cx="201.4" cy="1464.2"/><circle cx="175.4" cy="1401.9"/><circle cx="137.6" cy="1456.5"/><circle cx="194.1" cy="1423.6"/><circle cx="186.2" cy="1470.8"/><circle cx="132.5" cy="1459.4"/><circle cx="144.7" cy="1380.3"/><circle cx="185.6" cy="1474.7"/><circle cx="133.8" cy="1384"/><circle cx="140.2" cy="1233.2"/><circle cx="187.8" cy="1426.4"/><circle cx="188.5" cy="1332"/><circle cx="172.6" cy="1457"/><circle cx="152.5" cy="1132"/><circle cx="188.6" cy="1457.4"/><circle cx="134.1" cy="1473.7"/><circle cx="143.7" cy="1286"/><circle cx="181.9" cy="1421.3"/><circle cx="172.2" cy="1262.4"/><circle cx="159.2" cy="1414.7"/><circle cx="169.5" cy="1234.9"/><circle cx="147.8" cy="1353.9"/><circle cx="173.7" cy="1376.3"/><circle cx="203.9" cy="1466.3"/><circle cx="167" cy="1414.5"/><circle cx="203.2" cy="1354.2"/><circle cx="180.6" cy="1366.9"/><circle cx="173.1" cy="1436.9"/><circle cx="178.3" cy="1412.9"/><circle cx="204.2" cy="1423.2"/><circle cx="147.4" cy="1474.1"/><circle cx="133.9" cy="1397.4"/><circle cx="198.9" cy="1360.1"/><circle cx="185.1" cy="1436.4"/><circle cx="173.4" cy="1468.9"/><circle cx="166.4" cy="1290.9"/><circle cx="201.1" cy="1336.9"/><circle cx="132.7" cy="1438.4"/><circle cx="141.2" cy="1467.8"/><circle cx="153.4" cy="1215.3"/><circle cx="204.7" cy="1309.8"/><circle cx="181.9" cy="1474.7"/><circle cx="174.8" cy="1259.4"/><circle cx="155.3" cy="1455.1"/><circle cx="141.4" cy="1381.1"/><circle cx="130.8" cy="1426.4"/><circle cx="140.2" cy="1437.1"/><circle cx="142.6" cy="1434.2"/><circle cx="168" cy="1365.3"/><circle cx="203.2" cy="1425.4"/><circle cx="199" cy="1440.5"/><circle cx="171.4" cy="1380"/><circle cx="142" cy="1379.6"/><circle cx="153.4" cy="1434.7"/><circle cx="131.5" cy="1374.1"/><circle cx="179.4" cy="1370.7"/><circle cx="158.5" cy="1341.5"/><circle cx="199.4" cy="1462.9"/><circle cx="153.4" cy="1372"/><circle cx="193.7" cy="1433.2"/><circle cx="159.2" cy="1084.2"/><circle cx="178.8" cy="1383.1"/><circle cx="156.3" cy="1268.7"/><circle cx="190.5" cy="1269.5"/><circle cx="146.4" cy="1474.7"/><circle cx="141.6" cy="1469.2"/><circle cx="133.4" cy="1329.2"/><circle cx="158.3" cy="1470.8"/><circle cx="164.4" cy="1359.7"/><circle cx="193.1" cy="1432.4"/><circle cx="173.7" cy="1366.3"/><circle cx="169.7" cy="1465.3"/><circle cx="167.1" cy="1376.7"/><circle cx="174" cy="1474.7"/><circle cx="135.7" cy="1448.4"/><circle cx="137.2" cy="1436.2"/><circle cx="176.3" cy="1285.6"/><circle cx="151.1" cy="1437.9"/><circle cx="160.6" cy="1472.4"/><circle cx="201.6" cy="1369.4"/><circle cx="148.9" cy="1418.5"/><circle cx="148.4" cy="1473.4"/><circle cx="153.2" cy="1446.8"/><circle cx="152" cy="1424.6"/><circle cx="192.1" cy="1469.5"/><circle cx="203.3" cy="1374.3"/><circle cx="159.2" cy="1188.5"/><circle cx="137.5" cy="1464.5"/><circle cx="165.8" cy="1419.5"/><circle cx="136.3" cy="1469.6"/><circle cx="204.8" cy="1355"/><circle cx="159.6" cy="1451.9"/><circle cx="200.8" cy="1386.4"/><circle cx="145.2" cy="1471.1"/><circle cx="163.9" cy="1387.3"/><circle cx="184.9" cy="1432.9"/><circle cx="164.2" cy="1467.1"/><circle cx="200.4" cy="1434.4"/><circle cx="144.6" cy="1343.1"/><circle cx="203.1" cy="1394.9"/><circle cx="176.4" cy="1391.1"/><circle cx="175.8" cy="1452.8"/><circle cx="181" cy="1418.6"/><circle cx="149.5" cy="1429.1"/><circle cx="146" cy="1089.1"/><circle cx="190.3" cy="1430.4"/><circle cx="154.5" cy="1420.5"/><circle cx="140.3" cy="1450.9"/><circle cx="196.6" cy="1399.8"/><circle cx="155.4" cy="1465.5"/><circle cx="163.1" cy="1433.7"/><circle cx="178.6" cy="1474.1"/><circle cx="188.8" cy="1450.3"/><circle cx="200.7" cy="1448.4"/><circle cx="190.5" cy="1437.6"/><circle cx="169.6" cy="1299.4"/><circle cx="139.3" cy="1441.3"/><circle cx="142.5" cy="1463"/><circle cx="140.5" cy="1437"/><circle cx="169.8" cy="1439.5"/><circle cx="171.2" cy="1408.8"/><circle cx="157.8" cy="1116.4"/><circle cx="143.4" cy="1434.8"/><circle cx="163.9" cy="1437.1"/><circle cx="164.1" cy="1406.1"/><circle cx="199.9" cy="1363.3"/><circle cx="159.3" cy="1184.7"/><circle cx="196.1" cy="1261"/><circle cx="132.7" cy="1448.1"/><circle cx="155.6" cy="1344.9"/><circle cx="183.9" cy="1439.1"/><circle cx="163.2" cy="1309.1"/><circle cx="135.5" cy="1473.8"/><circle cx="156.4" cy="1184.9"/><circle cx="171.2" cy="1357.2"/><circle cx="201.6" cy="1464.3"/><circle cx="147.4" cy="1456.9"/><circle cx="136.3" cy="1448.3"/><circle cx="186.6" cy="1417.2"/><circle cx="175.9" cy="1474.7"/><circle cx="159" cy="1388.1"/><circle cx="154.2" cy="1467"/><circle cx="152.1" cy="1468.5"/><circle cx="198.1" cy="1367.7"/><circle cx="161.1" cy="1367.5"/><circle cx="166.5" cy="1369.3"/><circle cx="148.8" cy="1474.7"/><circle cx="136" cy="1474.3"/><circle cx="144.7" cy="1448.7"/><circle cx="148.4" cy="1444.6"/><circle cx="162.5" cy="1373.1"/><circle cx="166.7" cy="1468"/><circle cx="193.2" cy="1453.2"/><circle cx="156.6" cy="1462.3"/><circle cx="187.2" cy="1471.3"/><circle cx="148.6" cy="1425.3"/><circle cx="165.5" cy="1460.2"/><circle cx="135.3" cy="1424.1"/><circle cx="196.8" cy="1460.1"/><circle cx="156.1" cy="1291"/><circle cx="177.8" cy="1466.8"/><circle cx="171.9" cy="1315.5"/><circle cx="166.3" cy="1370.4"/><circle cx="147.5" cy="1463.5"/><circle cx="191.6" cy="1438.8"/><circle cx="165.1" cy="1438.2"/><circle cx="139.4" cy="1428"/><circle cx="137" cy="1474.7"/><circle cx="167.5" cy="1473.6"/><circle cx="172.1" cy="1463"/><circle cx="150.3" cy="1357.1"/><circle cx="147.2" cy="1468.1"/><circle cx="192.1" cy="1199.8"/><circle cx="181.1" cy="1439.9"/><circle cx="140.3" cy="1472.1"/><circle cx="190.4" cy="1318.8"/><circle cx="133.8" cy="1457.3"/><circle cx="192.6" cy="1474.7"/><circle cx="138.8" cy="1061.9"/><circle cx="204.2" cy="1069.7"/><circle cx="197.4" cy="1469.5"/><circle cx="143" cy="1472.8"/><circle cx="178.8" cy="1435.6"/><circle cx="164.5" cy="1432.8"/><circle cx="140.4" cy="1434.5"/><circle cx="145.1" cy="1390.1"/><circle cx="145" cy="1300.5"/><circle cx="180.2" cy="1474.7"/><circle cx="202.7" cy="1364.2"/><circle cx="152.6" cy="1091"/><circle cx="165.7" cy="1468.2"/><circle cx="157.5" cy="1472.9"/><circle cx="158.3" cy="1474.7"/><circle cx="173.5" cy="1073"/><circle cx="188.7" cy="1437.8"/><circle cx="181.1" cy="1466.8"/><circle cx="138.2" cy="1465.8"/><circle cx="150.3" cy="1458.5"/><circle cx="176.7" cy="1135.7"/><circle cx="186.9" cy="1444.8"/><circle cx="194.9" cy="1150.4"/><circle cx="164.1" cy="1311.4"/><circle cx="168.6" cy="1456.2"/><circle cx="152.4" cy="1460.9"/><circle cx="169.2" cy="1457.6"/><circle cx="174.8" cy="1473.4"/><circle cx="135.2" cy="1460.1"/><circle cx="183.3" cy="1379.3"/><circle cx="183.9" cy="1452.1"/><circle cx="204" cy="1408.6"/><circle cx="167.5" cy="1430.6"/><circle cx="134.6" cy="1349.8"/><circle cx="135.3" cy="1460.5"/><circle cx="202.7" cy="1451.5"/><circle cx="184.9" cy="1464.9"/><circle cx="142" cy="1446.4"/><circle cx="161.4" cy="1234.1"/><circle cx="188.1" cy="1473.6"/><circle cx="184.7" cy="1196.5"/><circle cx="199.4" cy="1345.6"/><circle cx="179.1" cy="1474.7"/><circle cx="160" cy="1463.3"/><circle cx="198.2" cy="1130.1"/><circle cx="158.4" cy="1460.9"/><circle cx="146.1" cy="1408.6"/><circle cx="175.1" cy="1420"/><circle cx="151.7" cy="1465.4"/><circle cx="194.3" cy="1387.1"/><circle cx="168.4" cy="1429.3"/><circle cx="199.5" cy="1469.7"/><circle cx="174.9" cy="1259.8"/><circle cx="144.1" cy="1374.7"/><circle cx="155.9" cy="1394.5"/><circle cx="197.1" cy="1474.7"/><circle cx="187.6" cy="1345.3"/><circle cx="160.8" cy="1366.8"/><circle cx="144.8" cy="1358.4"/><circle cx="189.5" cy="1208.2"/><circle cx="161" cy="1443.8"/><circle cx="188.2" cy="1466.8"/><circle cx="156" cy="1472.5"/><circle cx="178.5" cy="1453.9"/><circle cx="199.7" cy="1422.7"/><circle cx="144.6" cy="1471.9"/><circle cx="203.5" cy="1448.4"/><circle cx="180.4" cy="1113.9"/><circle cx="144.6" cy="1380.8"/><circle cx="130.6" cy="1394.3"/><circle cx="199.5" cy="1473.4"/><circle cx="180.4" cy="1474.7"/><circle cx="184" cy="1466.1"/><circle cx="160.7" cy="1437.5"/><circle cx="136.1" cy="1437.3"/><circle cx="165.6" cy="1432.2"/><circle cx="178" cy="1447.6"/><circle cx="150.4" cy="1303.7"/><circle cx="201.8" cy="1426.8"/><circle cx="130.9" cy="1474.7"/><circle cx="151.7" cy="1464.5"/><circle cx="197.4" cy="1442.1"/><circle cx="185.8" cy="1109.8"/><circle cx="190" cy="1441.5"/><circle cx="143.7" cy="1257.4"/><circle cx="195.9" cy="1358.9"/><circle cx="179.1" cy="1455.8"/><circle cx="160" cy="1461.1"/><circle cx="181" cy="1474.7"/><circle cx="147.9" cy="1428.7"/><circle cx="197.2" cy="1358.3"/><circle cx="135.4" cy="1450.7"/><circle cx="183.7" cy="1473.7"/><circle cx="161" cy="1298.6"/><circle cx="196.1" cy="1462.7"/><circle cx="180.8" cy="1467.7"/><circle cx="162.6" cy="1435.5"/><circle cx="154.5" cy="1451.8"/><circle cx="153" cy="1471.8"/><circle cx="130.4" cy="1459.2"/><circle cx="149" cy="1438.1"/><circle cx="154.4" cy="1469.1"/><circle cx="154.1" cy="1401.4"/><circle cx="143" cy="1472.4"/><circle cx="135.3" cy="1467.3"/><circle cx="141.2" cy="1383.9"/><circle cx="176.4" cy="1412.8"/><circle cx="155.5" cy="1463.4"/><circle cx="171.9" cy="1378.1"/><circle cx="139.6" cy="1274.1"/><circle cx="135.7" cy="1313.9"/><circle cx="134.2" cy="1399.7"/><circle cx="172.2" cy="1417.6"/><circle cx="173.7" cy="1398.5"/><circle cx="141.2" cy="1433.9"/><circle cx="200.6" cy="1400.4"/><circle cx="167.9" cy="1443.1"/><circle cx="178.4" cy="1430"/><circle cx="131.9" cy="1430.3"/><circle cx="149.9" cy="1126.5"/><circle cx="169.7" cy="1457.4"/><circle cx="180.6" cy="1474.7"/><circle cx="180.9" cy="1338.8"/><circle cx="179.4" cy="1436.8"/><circle cx="135" cy="1162.6"/><circle cx="133.8" cy="1409.3"/><circle cx="194.4" cy="1467.7"/><circle cx="140.6" cy="1440.4"/><circle cx="156.9" cy="1464.3"/><circle cx="192.9" cy="1430.1"/><circle cx="132.8" cy="1440.8"/><circle cx="194.2" cy="1444.3"/><circle cx="178.8" cy="1247.1"/><circle cx="147.6" cy="1333.6"/><circle cx="168.8" cy="1321.4"/><circle cx="148.1" cy="1462.3"/><circle cx="190.6" cy="1463.3"/><circle cx="160.9" cy="1453.9"/><circle cx="160.5" cy="1292.3"/><circle cx="202.1" cy="1464.6"/><circle cx="180.3" cy="1474.7"/><circle cx="170.8" cy="1377.3"/><circle cx="178.8" cy="1408.4"/><circle cx="192.3" cy="1409.4"/><circle cx="140.4" cy="1393.4"/><circle cx="149.8" cy="1404.3"/><circle cx="145.4" cy="1395"/><circle cx="190.6" cy="1362.9"/><circle cx="163.3" cy="1468.9"/><circle cx="168.2" cy="1458.1"/><circle cx="201.6" cy="1474.3"/><circle cx="129.8" cy="1470"/><circle cx="143.4" cy="1460.4"/><circle cx="164" cy="1447.7"/><circle cx="157.2" cy="1388.7"/><circle cx="200.7" cy="1448.1"/><circle cx="130.7" cy="1461.1"/><circle cx="197.9" cy="1436.5"/><circle cx="191.3" cy="1440"/><circle cx="170" cy="1459.6"/><circle cx="149.5" cy="1469.5"/><circle cx="188.1" cy="1437"/><circle cx="141.4" cy="1474.7"/><circle cx="161.7" cy="1473"/><circle cx="160.2" cy="1443.8"/><circle cx="129.9" cy="1473.9"/><circle cx="164.1" cy="1383.8"/><circle cx="163.6" cy="1424.6"/><circle cx="203.6" cy="1474.7"/><circle cx="158.1" cy="1441.4"/><circle cx="169.6" cy="1464.8"/><circle cx="140.9" cy="1376.2"/><circle cx="150.8" cy="1435.9"/><circle cx="146.8" cy="1093.3"/><circle cx="202.9" cy="1446.1"/><circle cx="139.1" cy="1458.9"/><circle cx="177.9" cy="1461.5"/><circle cx="192.2" cy="1456.1"/><circle cx="200.6" cy="1457.8"/><circle cx="182.7" cy="1414.4"/><circle cx="143.1" cy="1439.7"/><circle cx="168.4" cy="1460.2"/><circle cx="196.8" cy="1444.8"/><circle cx="130.7" cy="1423.9"/><circle cx="186.9" cy="1304.4"/><circle cx="144.1" cy="1408.9"/><circle cx="198.4" cy="1447.4"/><circle cx="147.6" cy="1364.7"/><circle cx="153.9" cy="1361.4"/><circle cx="192.4" cy="1471.8"/><circle cx="198.9" cy="1467.1"/><circle cx="165.6" cy="1349.8"/><circle cx="193.6" cy="1254.6"/><circle cx="170.1" cy="1461.4"/><circle cx="157.5" cy="1449.8"/><circle cx="177.2" cy="1464.8"/><circle cx="184.1" cy="1441.5"/><circle cx="152.7" cy="1442.6"/><circle cx="143.8" cy="1470.6"/><circle cx="188.4" cy="1192.2"/><circle cx="152.4" cy="1114.5"/><circle cx="148" cy="1460.7"/><circle cx="151.2" cy="1405"/><circle cx="146.9" cy="1113"/><circle cx="139.6" cy="1438.8"/><circle cx="158.6" cy="1418.6"/><circle cx="143.7" cy="1457.4"/><circle cx="178.3" cy="1426.1"/><circle cx="137.3" cy="1448.1"/><circle cx="156.4" cy="1253.1"/><circle cx="201" cy="1474.7"/><circle cx="164.1" cy="1472.4"/><circle cx="146.7" cy="1462.5"/><circle cx="188.7" cy="1405.6"/><circle cx="136" cy="1353.7"/><circle cx="201.2" cy="1446.1"/><circle cx="181.7" cy="1444.5"/><circle cx="144.8" cy="1460.7"/><circle cx="186.6" cy="1470.1"/><circle cx="178.8" cy="1459.4"/><circle cx="148.6" cy="1427.7"/><circle cx="146.5" cy="1468.5"/><circle cx="167.7" cy="1163.4"/><circle cx="145.6" cy="1353.1"/><circle cx="148.9" cy="1474.7"/><circle cx="134.1" cy="1280.2"/><circle cx="166.6" cy="1459.8"/><circle cx="137.9" cy="1468.6"/><circle cx="135.8" cy="1465.5"/><circle cx="162.4" cy="1473.6"/><circle cx="156.5" cy="1391.6"/><circle cx="149" cy="1435.2"/><circle cx="148.7" cy="1468.6"/><circle cx="146.8" cy="1422.5"/><circle cx="177.6" cy="1079.1"/><circle cx="203.2" cy="1468.2"/><circle cx="152.6" cy="1376.4"/><circle cx="159.6" cy="1462.7"/><circle cx="182.1" cy="1418.1"/><circle cx="152.7" cy="1443.8"/><circle cx="139" cy="1453.3"/><circle cx="178.4" cy="1473.8"/><circle cx="156.2" cy="1396.1"/><circle cx="129.8" cy="1429.6"/><circle cx="154.3" cy="1359.4"/><circle cx="195.8" cy="1461.6"/><circle cx="196.7" cy="1473.3"/><circle cx="175.8" cy="1460.8"/><circle cx="192.3" cy="1375.6"/><circle cx="171.8" cy="1465.2"/><circle cx="183.1" cy="1455.5"/><circle cx="196.3" cy="1421"/><circle cx="142.5" cy="1332.9"/><circle cx="137.8" cy="1133.1"/><circle cx="172.6" cy="1447.5"/><circle cx="165.6" cy="1370.3"/><circle cx="168.7" cy="1473.1"/><circle cx="203.4" cy="1365.8"/><circle cx="175.5" cy="1459.8"/><circle cx="131.6" cy="1422"/><circle cx="150.4" cy="1342.4"/><circle cx="150.8" cy="1472.9"/><circle cx="204.4" cy="1209.9"/><circle cx="139.9" cy="1354.1"/><circle cx="167.6" cy="1295.6"/><circle cx="184.6" cy="1463.2"/><circle cx="176.4" cy="1308.6"/><circle cx="186.9" cy="1399.8"/><circle cx="156.8" cy="1464.1"/><circle cx="141.8" cy="1465.3"/><circle cx="146.7" cy="1155.3"/><circle cx="170.9" cy="1435.9"/><circle cx="168.7" cy="1474.7"/><circle cx="160.1" cy="1440.2"/><circle cx="198.8" cy="1361.6"/><circle cx="159.7" cy="1465"/><circle cx="145.5" cy="1463.2"/><circle cx="174.8" cy="1372.9"/><circle cx="188.7" cy="1365.7"/><circle cx="130.1" cy="1452.3"/><circle cx="166" cy="1442.2"/><circle cx="143.4" cy="1439.6"/><circle cx="147.2" cy="1441.6"/><circle cx="187.6" cy="1454.3"/><circle cx="202.1" cy="1290.1"/><circle cx="195.3" cy="1452.3"/><circle cx="147.3" cy="1433.4"/><circle cx="161.6" cy="1474.7"/><circle cx="192.9" cy="1445.7"/><circle cx="133.9" cy="1359.5"/><circle cx="150.5" cy="1446"/><circle cx="174.2" cy="1281.1"/><circle cx="144.2" cy="1437.5"/><circle cx="131" cy="1473.2"/><circle cx="146.2" cy="1414"/><circle cx="170.3" cy="1444.6"/><circle cx="183.4" cy="1454.9"/><circle cx="185.2" cy="1450.9"/><circle cx="172.2" cy="1474.6"/><circle cx="174.6" cy="1346.6"/><circle cx="168.8" cy="1406.1"/><circle cx="189.4" cy="1377.3"/><circle cx="178.5" cy="1399"/><circle cx="181" cy="1438.4"/><circle cx="197.6" cy="1427.4"/><circle cx="138.4" cy="1424.9"/><circle cx="169.6" cy="1443"/><circle cx="163.2" cy="1463.9"/><circle cx="198" cy="1468.8"/><circle cx="152.8" cy="1444.6"/><circle cx="180.5" cy="1398.1"/><circle cx="181.9" cy="1394.8"/><circle cx="147.5" cy="1347.5"/><circle cx="130.1" cy="1369.8"/><circle cx="161.1" cy="1468.8"/><circle cx="144.7" cy="1437.2"/><circle cx="143.9" cy="1439.9"/><circle cx="164.2" cy="1466.7"/><circle cx="143" cy="1392.8"/><circle cx="171.7" cy="1311.4"/><circle cx="175.9" cy="1471.7"/><circle cx="165" cy="1411.8"/><circle cx="172.1" cy="1466.2"/><circle cx="144.4" cy="1309.3"/><circle cx="172.9" cy="1402.5"/><circle cx="193.9" cy="1470"/><circle cx="193.5" cy="1416.4"/><circle cx="137.8" cy="1457.6"/><circle cx="154" cy="1460"/><circle cx="183.6" cy="1367.2"/><circle cx="174.1" cy="1474.7"/><circle cx="197" cy="1170"/><circle cx="171.9" cy="1434.3"/><circle cx="202.1" cy="1469.6"/><circle cx="165.7" cy="1310.1"/><circle cx="155.6" cy="1441.5"/><circle cx="139.1" cy="1129.2"/><circle cx="200.6" cy="1472.6"/><circle cx="181.6" cy="1397.1"/><circle cx="134.9" cy="1469.8"/><circle cx="143.2" cy="1450.7"/><circle cx="199.2" cy="1400.5"/><circle cx="135.2" cy="1464.9"/><circle cx="180.5" cy="1358.5"/><circle cx="172.4" cy="1417.4"/><circle cx="167.2" cy="1458.8"/><circle cx="181.6" cy="1409.2"/><circle cx="154.9" cy="1429.2"/><circle cx="176.7" cy="1472.3"/><circle cx="195.6" cy="1353.5"/><circle cx="172.7" cy="1351.8"/><circle cx="143.5" cy="1474.7"/><circle cx="154.6" cy="1375.1"/><circle cx="183.5" cy="1386.6"/><circle cx="172.3" cy="1471"/><circle cx="138.4" cy="1348.8"/><circle cx="194.9" cy="1453.8"/><circle cx="160.5" cy="1432.2"/><circle cx="148.1" cy="1382.4"/><circle cx="140.8" cy="1420.1"/><circle cx="199.2" cy="1452.7"/><circle cx="184.6" cy="1104.7"/><circle cx="152.8" cy="1468.1"/><circle cx="144" cy="1388.2"/><circle cx="193.7" cy="1461.6"/><circle cx="179.9" cy="1352.2"/><circle cx="200.2" cy="1068.6"/><circle cx="181.2" cy="1321.1"/><circle cx="137.6" cy="1371.5"/><circle cx="168.7" cy="1341.2"/><circle cx="149.9" cy="1459.3"/><circle cx="136.1" cy="1347.1"/><circle cx="133.9" cy="1462"/><circle cx="192.4" cy="1427.1"/><circle cx="199.9" cy="1444.2"/><circle cx="164.3" cy="1378.1"/><circle cx="152.6" cy="1376.4"/><circle cx="142.9" cy="1214.4"/><circle cx="162.4" cy="1470.1"/><circle cx="165.1" cy="1462.4"/><circle cx="169.7" cy="1471.5"/><circle cx="137.4" cy="1353.2"/><circle cx="203" cy="1443.3"/><circle cx="172.7" cy="1459.5"/><circle cx="133.2" cy="1332.7"/><circle cx="173.7" cy="1326"/><circle cx="157.4" cy="1386.6"/><circle cx="177.8" cy="1066.8"/><circle cx="200.2" cy="1458.1"/><circle cx="134.8" cy="1118.6"/><circle cx="142.6" cy="1079.4"/><circle cx="156" cy="1474.7"/><circle cx="169.8" cy="1369.1"/><circle cx="192" cy="1458.5"/><circle cx="184.8" cy="1422.8"/><circle cx="170.9" cy="1393.3"/><circle cx="144" cy="1447.6"/><circle cx="167.5" cy="1471.7"/><circle cx="138" cy="1274.6"/><circle cx="198.5" cy="1440.7"/><circle cx="192.9" cy="1411.1"/><circle cx="175.7" cy="1392"/><circle cx="173" cy="1474.7"/><circle cx="153.9" cy="1349"/><circle cx="178.4" cy="1277.9"/><circle cx="132.3" cy="1467.6"/><circle cx="175" cy="1395"/><circle cx="199.3" cy="1253.4"/><circle cx="188.5" cy="1463.2"/><circle cx="146.2" cy="1307.8"/><circle cx="171.2" cy="1452.9"/><circle cx="153.9" cy="1095.9"/><circle cx="203.8" cy="1300.1"/><circle cx="201.7" cy="1439.3"/><circle cx="148" cy="1395.8"/><circle cx="176.5" cy="1425.9"/><circle cx="170.8" cy="1404.1"/><circle cx="203.8" cy="1469.2"/><circle cx="140" cy="1410"/><circle cx="184.5" cy="1473.3"/><circle cx="168.4" cy="1465.1"/><circle cx="204.4" cy="1422.8"/><circle cx="160.3" cy="1427"/><circle cx="191.9" cy="1469.8"/><circle cx="174.5" cy="1444.2"/><circle cx="189.8" cy="1451.7"/><circle cx="193.8" cy="1451.8"/><circle cx="178.3" cy="1429.6"/><circle cx="155.9" cy="1472.3"/><circle cx="174.4" cy="1472.4"/><circle cx="189.1" cy="1458"/><circle cx="191.4" cy="1351.3"/><circle cx="163.9" cy="1334.2"/><circle cx="135.8" cy="1469.3"/><circle cx="138.2" cy="1252.3"/><circle cx="178.2" cy="1258.4"/><circle cx="357.1" cy="1437"/><circle cx="378.3" cy="1264.7"/><circle cx="366.6" cy="1465.7"/><circle cx="357.4" cy="1409.6"/><circle cx="342.7" cy="1272"/><circle cx="391.2" cy="1259.1"/><circle cx="347.8" cy="1313.1"/><circle cx="374.9" cy="1383.7"/><circle cx="335" cy="1456.7"/><circle cx="399.9" cy="1415.3"/><circle cx="338.8" cy="1305.5"/><circle cx="365.3" cy="1282.7"/><circle cx="388.5" cy="1350.8"/><circle cx="344.9" cy="1226.1"/><circle cx="376" cy="1368.3"/><circle cx="358.1" cy="1250.6"/><circle cx="399.9" cy="1220.1"/><circle cx="337.4" cy="1455.7"/><circle cx="341.7" cy="1458.2"/><circle cx="368.4" cy="1124.5"/><circle cx="378.7" cy="1436.6"/><circle cx="370.7" cy="1404"/><circle cx="341.1" cy="1409.3"/><circle cx="364.3" cy="1250.3"/><circle cx="332.2" cy="1473.3"/><circle cx="378.1" cy="1394.9"/><circle cx="352.1" cy="1401.1"/><circle cx="399.8" cy="1463.6"/><circle cx="357.5" cy="1404.4"/><circle cx="331.2" cy="1237.8"/><circle cx="328.2" cy="1468.9"/><circle cx="352.1" cy="1446.4"/><circle cx="347" cy="1351.8"/><circle cx="399" cy="1376.4"/><circle cx="386.1" cy="1292.8"/><circle cx="355" cy="1426.7"/><circle cx="346.9" cy="1460.8"/><circle cx="332.4" cy="1420.8"/><circle cx="336.6" cy="1258.9"/><circle cx="383.3" cy="1406.7"/><circle cx="331.6" cy="1415.1"/><circle cx="386.5" cy="1282.2"/><circle cx="357.1" cy="1360.3"/><circle cx="378.8" cy="1459.3"/><circle cx="373.8" cy="1418.5"/><circle cx="335.5" cy="1214.9"/><circle cx="384.3" cy="1471.4"/><circle cx="393.5" cy="1291.7"/><circle cx="335.6" cy="1434"/><circle cx="400.5" cy="1298.1"/><circle cx="388.1" cy="1456.1"/><circle cx="372.9" cy="1333.3"/><circle cx="379.8" cy="1244.7"/><circle cx="330.8" cy="1467.2"/><circle cx="344.4" cy="1159.7"/><circle cx="395.6" cy="1462.7"/><circle cx="392.4" cy="1473.2"/><circle cx="343.7" cy="1262.6"/><circle cx="368.5" cy="1388.1"/><circle cx="353.3" cy="1470.7"/><circle cx="341.4" cy="1333.7"/><circle cx="386.2" cy="1389.7"/><circle cx="378.3" cy="1116.5"/><circle cx="332.5" cy="1138"/><circle cx="377.7" cy="1235.7"/><circle cx="328.2" cy="1384.1"/><circle cx="334.5" cy="1264.6"/><circle cx="358.5" cy="1302.7"/><circle cx="330" cy="1441.6"/><circle cx="366.5" cy="1298.4"/><circle cx="378.8" cy="1436.7"/><circle cx="346.8" cy="1410"/><circle cx="379.9" cy="1465.7"/><circle cx="332.7" cy="1459.3"/><circle cx="334" cy="1392.4"/><circle cx="364.9" cy="1255.3"/><circle cx="329.4" cy="1276.3"/><circle cx="384.5" cy="1457"/><circle cx="394.5" cy="1376.7"/><circle cx="327.8" cy="1434.3"/><circle cx="387.6" cy="1451.6"/><circle cx="370.3" cy="1421.6"/><circle cx="400.8" cy="1324.3"/><circle cx="387.7" cy="1196.5"/><circle cx="395.4" cy="1463.7"/><circle cx="391.7" cy="1437.2"/><circle cx="391.6" cy="1298.2"/><circle cx="384.4" cy="1393.4"/><circle cx="395.6" cy="1416.9"/><circle cx="333.8" cy="1272.7"/><circle cx="387.9" cy="1472.7"/><circle cx="378.4" cy="1172.2"/><circle cx="354.7" cy="1441.7"/><circle cx="360.3" cy="1251"/><circle cx="335.8" cy="1256.8"/><circle cx="350.7" cy="1255.4"/><circle cx="381.2" cy="1347.5"/><circle cx="368.9" cy="1336.1"/><circle cx="397.2" cy="1469.3"/><circle cx="346.5" cy="1408.5"/><circle cx="344.6" cy="1345.1"/><circle cx="382.9" cy="1441.5"/><circle cx="399.4" cy="1323.8"/><circle cx="355" cy="1372.9"/><circle cx="357" cy="1329"/><circle cx="331.4" cy="1246.5"/><circle cx="345" cy="1428.4"/><circle cx="395.9" cy="1345.4"/><circle cx="401" cy="1469.2"/><circle cx="364.3" cy="1274.7"/><circle cx="391.7" cy="1266.2"/><circle cx="343.6" cy="1321.1"/><circle cx="376.2" cy="1319.9"/><circle cx="396.2" cy="1369.8"/><circle cx="353.7" cy="1430.3"/><circle cx="375.4" cy="1275"/><circle cx="383.4" cy="1459.8"/><circle cx="337.9" cy="1361.8"/><circle cx="346.8" cy="1462.5"/><circle cx="372" cy="1299.3"/><circle cx="346.8" cy="1392.2"/><circle cx="339.4" cy="1342"/><circle cx="339.4" cy="1455.5"/><circle cx="386.3" cy="1410.9"/><circle cx="362" cy="1331.8"/><circle cx="369.2" cy="1405.5"/><circle cx="375.2" cy="1307.6"/><circle cx="351.8" cy="1465.1"/><circle cx="376.9" cy="1423.3"/><circle cx="361.4" cy="1462.5"/><circle cx="334.3" cy="1301.8"/><circle cx="366.8" cy="1415.5"/><circle cx="364.9" cy="1298.3"/><circle cx="379.2" cy="1294.5"/><circle cx="399.7" cy="1470.4"/><circle cx="330.9" cy="1346.7"/><circle cx="373.8" cy="1271.4"/><circle cx="380.3" cy="1207.6"/><circle cx="363.5" cy="1464.7"/><circle cx="359.9" cy="1464.3"/><circle cx="380.9" cy="1405"/><circle cx="368.1" cy="1297.3"/><circle cx="358.7" cy="1462.1"/><circle cx="376.7" cy="1114.2"/><circle cx="373.1" cy="1311.9"/><circle cx="333.9" cy="1473.1"/><circle cx="354.4" cy="1299.9"/><circle cx="394.7" cy="1407.9"/><circle cx="339.3" cy="1454.9"/><circle cx="366.6" cy="1330.8"/><circle cx="375.3" cy="1310.8"/><circle cx="336.4" cy="1346.7"/><circle cx="342.4" cy="1445.8"/><circle cx="351.6" cy="1454.2"/><circle cx="372.5" cy="1467.9"/><circle cx="336.8" cy="1455.8"/><circle cx="385.1" cy="1422.9"/><circle cx="378.7" cy="1427.7"/><circle cx="387.9" cy="1466.8"/><circle cx="345.5" cy="1252.1"/><circle cx="368.1" cy="1453.6"/><circle cx="392.1" cy="1465.6"/><circle cx="360.2" cy="1451.1"/><circle cx="370.3" cy="1405.4"/><circle cx="358.2" cy="1345.5"/><circle cx="383.1" cy="1465.5"/><circle cx="374.6" cy="1457.6"/><circle cx="384" cy="1471.7"/><circle cx="400.4" cy="1414.7"/><circle cx="386" cy="1111.4"/><circle cx="370.5" cy="1282.5"/><circle cx="346.5" cy="1248.2"/><circle cx="366" cy="1209.5"/><circle cx="398.7" cy="1449.7"/><circle cx="401.6" cy="1336.7"/>
</g>
<path d="M167.2 1340.4V1163.2M167.2 1457V1474.7" stroke="#dc2626" stroke-width="1.5" fill="none" opacity="0.92"/>
<rect x="93" y="1340.4" width="148.4" height="116.6" stroke="#dc2626" stroke-width="1.4" fill="none" opacity="0.88"/>
<line x1="93" y1="1421.5" x2="241.4" y2="1421.5" stroke="#dc2626" stroke-width="2.8" opacity="0.92"/>
<g class="op" fill="#dc2626"><circle cx="167.2" cy="1098.8"/><circle cx="167.2" cy="1123.6"/><circle cx="167.2" cy="1093.3"/><circle cx="167.2" cy="1105.8"/><circle cx="167.2" cy="1151.3"/><circle cx="167.2" cy="1083.4"/><circle cx="167.2" cy="1110"/><circle cx="167.2" cy="1063.8"/><circle cx="167.2" cy="1066.9"/><circle cx="167.2" cy="1151"/><circle cx="167.2" cy="1134.7"/><circle cx="167.2" cy="1088.6"/><circle cx="167.2" cy="1141.7"/><circle cx="167.2" cy="1074.9"/><circle cx="167.2" cy="1091.1"/><circle cx="167.2" cy="1061.4"/><circle cx="167.2" cy="1125.6"/><circle cx="167.2" cy="1089.5"/><circle cx="167.2" cy="1098.7"/><circle cx="167.2" cy="1090.2"/><circle cx="167.2" cy="1061.6"/><circle cx="167.2" cy="1125.4"/><circle cx="167.2" cy="1138.4"/><circle cx="167.2" cy="1077"/><circle cx="167.2" cy="1147"/><circle cx="167.2" cy="1104.1"/><circle cx="167.2" cy="1064"/><circle cx="167.2" cy="1072.5"/><circle cx="167.2" cy="1089.1"/><circle cx="167.2" cy="1161.7"/><circle cx="167.2" cy="1058.2"/><circle cx="167.2" cy="1114.7"/><circle cx="167.2" cy="1132"/><circle cx="167.2" cy="1156"/><circle cx="167.2" cy="1147.7"/><circle cx="167.2" cy="1158.3"/><circle cx="167.2" cy="1103.2"/><circle cx="167.2" cy="1122.4"/><circle cx="167.2" cy="1163.2"/><circle cx="167.2" cy="1153.4"/></g>
<path d="M365 1297.5V1109.6M365 1446.5V1473.7" stroke="#dc2626" stroke-width="1.5" fill="none" opacity="0.92"/>
<rect x="290.4" y="1297.5" width="149.2" height="148.9" stroke="#dc2626" stroke-width="1.4" fill="none" opacity="0.88"/>
<line x1="290.4" y1="1392.9" x2="439.6" y2="1392.9" stroke="#dc2626" stroke-width="2.8" opacity="0.92"/>
</g>
<line x1="187" y1="1096.8" x2="345" y2="1096.8" stroke="#767676" stroke-width="2"/>
<text class="pl m" x="267.3" y="1089.6"><tspan font-style="italic">P</tspan> = 0.08148</text>
<path d="M49.1 1493.7V1066.7H484.4" stroke="#a6a6a6" stroke-width="1.4" fill="none"/>
<path d="M48.4 1493.7H484.4V1066" stroke="#717171" stroke-width="1.6" fill="none"/>
<path d="M49.1 1474.7h-4M49.1 1377.3h-4M49.1 1280h-4M49.1 1182.7h-4M49.1 1085.3h-4M167.2 1493.7v4.2M365 1493.7v4.2" stroke="#333" stroke-width="1.2" fill="none"/>
<text class="tk e" style="font-size:13.7px" x="38.8" y="1479.5">0</text>
<text class="tk e" style="font-size:13.7px" x="38.8" y="1382.1">5</text>
<text class="tk e" style="font-size:13.7px" x="38.8" y="1284.8">10</text>
<text class="tk e" style="font-size:13.7px" x="38.8" y="1187.5">15</text>
<text class="tk e" style="font-size:13.7px" x="38.8" y="1090.1">20</text>
<text class="ax m" x="167.2" y="1515.2">GUARD RNAs</text>
<text class="ax m" x="365" y="1515.2">NT controls</text>
<text class="tt" x="62" y="1054.9">Cas9: Off-target Indels</text>
<text class="ax m" transform="translate(10.8 1280.2) rotate(-90)">Indels (%)</text>
</g>
<g id="panel-c2">
<rect x="559.8" y="1066.7" width="429.4" height="427" fill="#fff"/>
<path d="M559.8 1425H989.2M559.8 1325.8H989.2M559.8 1226.5H989.2M559.8 1127.2H989.2" stroke="#efefef" stroke-width="0.8" fill="none"/>
<path d="M559.8 1474.7H989.2M559.8 1375.4H989.2M559.8 1276.1H989.2M559.8 1176.8H989.2M559.8 1077.5H989.2M676.1 1066.7V1493.7M871.6 1066.7V1493.7" stroke="#e9e9e9" stroke-width="1.2" fill="none"/>
<clipPath id="clc2"><rect x="559.8" y="1066.7" width="429.4" height="427"/></clipPath>
<g clip-path="url(#clc2)">
<g class="jp" fill="#000" fill-opacity="0.105" stroke="#000" stroke-opacity="0.13" stroke-width="0.45">
<circle cx="693.7" cy="1447.9"/><circle cx="650.8" cy="1310.8"/><circle cx="639.9" cy="1464.5"/><circle cx="648.9" cy="1450.1"/><circle cx="642.5" cy="1407.8"/><circle cx="670.2" cy="1451.7"/><circle cx="668.2" cy="1320.2"/><circle cx="711.1" cy="1385.6"/><circle cx="702.7" cy="1405.4"/><circle cx="700.8" cy="1215.9"/><circle cx="693.9" cy="1410.5"/><circle cx="652.1" cy="1429.5"/><circle cx="650.1" cy="1423.1"/><circle cx="700.2" cy="1464.6"/><circle cx="695.9" cy="1289.2"/><circle cx="642" cy="1322.6"/><circle cx="669.7" cy="1400.1"/><circle cx="658.8" cy="1236.5"/><circle cx="680.1" cy="1414.8"/><circle cx="672.5" cy="1434.3"/><circle cx="673.6" cy="1461.1"/><circle cx="685.2" cy="1439.7"/><circle cx="696.8" cy="1394.2"/><circle cx="705.5" cy="1415"/><circle cx="675" cy="1395.1"/><circle cx="666.9" cy="1458.1"/><circle cx="702.9" cy="1463.1"/><circle cx="640.2" cy="1309.2"/><circle cx="696.5" cy="1400.1"/><circle cx="642.5" cy="1255.6"/><circle cx="660.7" cy="1219.1"/><circle cx="708" cy="1409.5"/><circle cx="661.8" cy="1392.7"/><circle cx="642.1" cy="1268.2"/><circle cx="647.9" cy="1446.3"/><circle cx="710.5" cy="1243.4"/><circle cx="669.3" cy="1408.6"/><circle cx="666.2" cy="1429.2"/><circle cx="706.6" cy="1390.8"/><circle cx="702.4" cy="1321.6"/><circle cx="657" cy="1223.7"/><circle cx="647.4" cy="1233.4"/><circle cx="705.9" cy="1460.8"/><circle cx="667.1" cy="1441.8"/><circle cx="673.1" cy="1413.7"/><circle cx="650.3" cy="1457.2"/><circle cx="669.4" cy="1394.5"/><circle cx="705.8" cy="1393.6"/><circle cx="706.9" cy="1375.2"/><circle cx="652.7" cy="1411.6"/><circle cx="686.8" cy="1430.6"/><circle cx="649.1" cy="1346.9"/><circle cx="676.5" cy="1457.7"/><circle cx="697.5" cy="1460.1"/><circle cx="657.9" cy="1279.6"/><circle cx="682.8" cy="1437.8"/><circle cx="653.1" cy="1442.5"/><circle cx="659.5" cy="1429.5"/><circle cx="686.7" cy="1353.1"/><circle cx="663.8" cy="1430.6"/><circle cx="654.8" cy="1314.9"/><circle cx="662.6" cy="1324.8"/><circle cx="695.9" cy="1402.1"/><circle cx="669.9" cy="1169.8"/><circle cx="683.7" cy="1273.8"/><circle cx="658" cy="1445.5"/><circle cx="685.4" cy="1432.1"/><circle cx="641.6" cy="1449.8"/><circle cx="642.7" cy="1293.8"/><circle cx="654.8" cy="1437.7"/><circle cx="697.9" cy="1393.7"/><circle cx="651.6" cy="1452.3"/><circle cx="670" cy="1200.4"/><circle cx="713.3" cy="1279"/><circle cx="656" cy="1314.1"/><circle cx="649.4" cy="1299.5"/><circle cx="659.2" cy="1409.4"/><circle cx="678.5" cy="1438"/><circle cx="706" cy="1466.3"/><circle cx="640.8" cy="1401.1"/><circle cx="678.5" cy="1181.4"/><circle cx="639.7" cy="1462.6"/><circle cx="713.2" cy="1437.3"/><circle cx="672.8" cy="1373.9"/><circle cx="689.4" cy="1455.1"/><circle cx="657.9" cy="1420.8"/><circle cx="674.1" cy="1276.3"/><circle cx="700.5" cy="1434.3"/><circle cx="647.3" cy="1419.5"/><circle cx="654.6" cy="1423.4"/><circle cx="661.3" cy="1435.6"/><circle cx="700.4" cy="1243.1"/><circle cx="706.3" cy="1146.3"/><circle cx="694.9" cy="1346.3"/><circle cx="656.9" cy="1428.2"/><circle cx="662.2" cy="1430"/><circle cx="693.9" cy="1303.3"/><circle cx="671.9" cy="1290.6"/><circle cx="664.6" cy="1236.9"/><circle cx="713.5" cy="1445.9"/><circle cx="657.7" cy="1436.6"/><circle cx="697.2" cy="1413.1"/><circle cx="651.7" cy="1397.8"/><circle cx="707.2" cy="1238.6"/><circle cx="659.9" cy="1453.1"/><circle cx="707.9" cy="1420.5"/><circle cx="692" cy="1449"/><circle cx="704.3" cy="1244"/><circle cx="686.4" cy="1294.3"/><circle cx="646.2" cy="1242.2"/><circle cx="668.4" cy="1417.2"/><circle cx="712.2" cy="1374.5"/><circle cx="647.8" cy="1194.4"/><circle cx="678.5" cy="1465.4"/><circle cx="677.7" cy="1246.8"/><circle cx="671.3" cy="1266.6"/><circle cx="659.6" cy="1396.7"/><circle cx="661.7" cy="1262.4"/><circle cx="653.8" cy="1272.6"/><circle cx="658.2" cy="1439.4"/><circle cx="641.2" cy="1125.5"/><circle cx="694.9" cy="1156.6"/><circle cx="705.8" cy="1427.9"/><circle cx="655" cy="1140.4"/><circle cx="642.7" cy="1365.7"/><circle cx="667.4" cy="1380.9"/><circle cx="646.5" cy="1262.4"/><circle cx="670.5" cy="1177"/><circle cx="657.6" cy="1427.9"/><circle cx="681.9" cy="1448"/><circle cx="694.3" cy="1223.4"/><circle cx="704.5" cy="1395.4"/><circle cx="692.4" cy="1363.2"/><circle cx="700.8" cy="1389"/><circle cx="713.4" cy="1199.5"/><circle cx="668.6" cy="1355.9"/><circle cx="650.2" cy="1297"/><circle cx="651.2" cy="1266.3"/><circle cx="673.5" cy="1472.4"/><circle cx="690.8" cy="1359.2"/><circle cx="701.1" cy="1340.3"/><circle cx="650.9" cy="1450.7"/><circle cx="677.9" cy="1441.3"/><circle cx="644.2" cy="1456"/><circle cx="681.6" cy="1400.3"/><circle cx="703.6" cy="1261.7"/><circle cx="664.4" cy="1429.7"/><circle cx="689.5" cy="1203.2"/><circle cx="686.1" cy="1456"/><circle cx="688.5" cy="1412.5"/><circle cx="652.2" cy="1431.7"/><circle cx="676.8" cy="1137.2"/><circle cx="642.5" cy="1441.3"/><circle cx="669.5" cy="1215.3"/><circle cx="642.4" cy="1377.4"/><circle cx="711.2" cy="1425.5"/><circle cx="664.5" cy="1399.7"/><circle cx="657.1" cy="1446.6"/><circle cx="706.5" cy="1338.6"/><circle cx="671" cy="1313.2"/><circle cx="677" cy="1395.4"/><circle cx="703.8" cy="1251.8"/><circle cx="677.8" cy="1267.3"/><circle cx="668" cy="1309.8"/><circle cx="694" cy="1275.9"/><circle cx="661.1" cy="1397.8"/><circle cx="649.8" cy="1443"/><circle cx="692.5" cy="1373.1"/><circle cx="675.9" cy="1392"/><circle cx="713.6" cy="1444"/><circle cx="679.6" cy="1300.7"/><circle cx="706" cy="1395.1"/><circle cx="641.6" cy="1309.5"/><circle cx="640.1" cy="1437.7"/><circle cx="664.9" cy="1431.5"/><circle cx="701.3" cy="1452.1"/><circle cx="674.2" cy="1181.5"/><circle cx="684.4" cy="1303.2"/><circle cx="665.8" cy="1418.7"/><circle cx="664.4" cy="1458.3"/><circle cx="663.3" cy="1413.9"/><circle cx="659.8" cy="1259"/><circle cx="641.1" cy="1186.8"/><circle cx="689.4" cy="1441.4"/><circle cx="661.7" cy="1171.4"/><circle cx="707.7" cy="1436.1"/><circle cx="682.9" cy="1460.8"/><circle cx="650.1" cy="1446.4"/><circle cx="660.6" cy="1466.1"/><circle cx="652.1" cy="1430.4"/><circle cx="695.3" cy="1265.2"/><circle cx="657.5" cy="1389.1"/><circle cx="680.5" cy="1251.6"/><circle cx="671.1" cy="1452.3"/><circle cx="666.1" cy="1277.9"/><circle cx="703.7" cy="1445.8"/><circle cx="677" cy="1416.3"/><circle cx="661.8" cy="1163.1"/><circle cx="651.3" cy="1285.7"/><circle cx="660.9" cy="1285.8"/><circle cx="652.7" cy="1322.4"/><circle cx="688.5" cy="1408.4"/><circle cx="694.5" cy="1330.2"/><circle cx="683.4" cy="1397.5"/><circle cx="692.1" cy="1252.7"/><circle cx="694.8" cy="1310"/><circle cx="681.6" cy="1192.7"/><circle cx="652.6" cy="1224.6"/><circle cx="686.7" cy="1223.2"/><circle cx="640.2" cy="1452"/><circle cx="674.3" cy="1465.2"/><circle cx="650.5" cy="1405.9"/><circle cx="691" cy="1151.2"/><circle cx="688.8" cy="1339.4"/><circle cx="663.4" cy="1351.5"/><circle cx="682.5" cy="1231.6"/><circle cx="692" cy="1327.5"/><circle cx="676.9" cy="1449.4"/><circle cx="657.6" cy="1389.9"/><circle cx="646.9" cy="1206.1"/><circle cx="704.1" cy="1243.1"/><circle cx="645" cy="1456.9"/><circle cx="653.4" cy="1090.8"/><circle cx="697.2" cy="1376.2"/><circle cx="642.2" cy="1422.1"/><circle cx="649.2" cy="1397.5"/><circle cx="666.4" cy="1153.4"/><circle cx="649.8" cy="1188.5"/><circle cx="641.5" cy="1410.6"/><circle cx="696.9" cy="1325.9"/><circle cx="651.4" cy="1455.4"/><circle cx="707.3" cy="1251.6"/><circle cx="642.1" cy="1454.9"/><circle cx="659" cy="1291.8"/><circle cx="681.5" cy="1417.3"/><circle cx="645.9" cy="1443.5"/><circle cx="674.5" cy="1444.7"/><circle cx="675.1" cy="1120.3"/><circle cx="683.6" cy="1433.1"/><circle cx="708.2" cy="1390.6"/><circle cx="669.2" cy="1442.9"/><circle cx="706.9" cy="1387"/><circle cx="654.9" cy="1234.7"/><circle cx="687.7" cy="1429.2"/><circle cx="670.7" cy="1292.8"/><circle cx="696.9" cy="1410.6"/><circle cx="677.7" cy="1447.6"/><circle cx="702.8" cy="1239.4"/><circle cx="650.1" cy="1412.6"/><circle cx="658.3" cy="1325.3"/><circle cx="679.5" cy="1143.1"/><circle cx="686.3" cy="1289.1"/><circle cx="667" cy="1414.9"/><circle cx="699" cy="1335.6"/><circle cx="666.9" cy="1277.7"/><circle cx="708.8" cy="1434.1"/><circle cx="708.6" cy="1140"/><circle cx="641.6" cy="1432.4"/><circle cx="686.8" cy="1460.5"/><circle cx="703.3" cy="1371.4"/><circle cx="642.2" cy="1389.8"/><circle cx="694.1" cy="1443.1"/><circle cx="682.3" cy="1388.3"/><circle cx="677.4" cy="1425.2"/><circle cx="659" cy="1238.9"/><circle cx="693.8" cy="1386.8"/><circle cx="655" cy="1374.7"/><circle cx="652.2" cy="1444.7"/><circle cx="664.8" cy="1149.3"/><circle cx="713.1" cy="1428.4"/><circle cx="669" cy="1349.2"/><circle cx="649.2" cy="1261.2"/><circle cx="668.5" cy="1376.6"/><circle cx="696.1" cy="1416.8"/><circle cx="685.5" cy="1323.4"/><circle cx="692.5" cy="1291.4"/><circle cx="700.7" cy="1445.5"/><circle cx="660.3" cy="1428.1"/><circle cx="664.6" cy="1438.9"/><circle cx="703" cy="1464.5"/><circle cx="667.2" cy="1333"/><circle cx="677" cy="1090.6"/><circle cx="701.2" cy="1425.1"/><circle cx="685.9" cy="1159.3"/><circle cx="707.2" cy="1405.4"/><circle cx="639.5" cy="1178.2"/><circle cx="685.1" cy="1452.1"/><circle cx="676.9" cy="1417.2"/><circle cx="669.4" cy="1218.6"/><circle cx="660.7" cy="1181"/><circle cx="666.8" cy="1245.5"/><circle cx="700.1" cy="1306.6"/><circle cx="674.3" cy="1418.5"/><circle cx="655" cy="1106.4"/><circle cx="690.7" cy="1353.5"/><circle cx="700.2" cy="1235.3"/><circle cx="669" cy="1403.1"/><circle cx="648.2" cy="1159.4"/><circle cx="694.5" cy="1332.3"/><circle cx="690.5" cy="1294"/><circle cx="690.7" cy="1444.9"/><circle cx="639.5" cy="1400.4"/><circle cx="647.4" cy="1451.7"/><circle cx="711.3" cy="1410.8"/><circle cx="680.2" cy="1356"/><circle cx="658" cy="1421.9"/><circle cx="642.1" cy="1471"/><circle cx="674.3" cy="1397.4"/><circle cx="662.8" cy="1272.2"/><circle cx="650.1" cy="1406.4"/><circle cx="686.5" cy="1260.7"/><circle cx="652" cy="1404.9"/><circle cx="709.8" cy="1363.9"/><circle cx="655.9" cy="1419.8"/><circle cx="705.4" cy="1453.2"/><circle cx="665.2" cy="1258.2"/><circle cx="660.4" cy="1379.6"/><circle cx="695.6" cy="1250.4"/><circle cx="676.5" cy="1256.2"/><circle cx="649" cy="1259.9"/><circle cx="701.8" cy="1406.2"/><circle cx="679.9" cy="1421.4"/><circle cx="681.3" cy="1432.6"/><circle cx="666.9" cy="1390.9"/><circle cx="700.6" cy="1340.7"/><circle cx="684.7" cy="1209.4"/><circle cx="643.9" cy="1091.8"/><circle cx="705.1" cy="1286.1"/><circle cx="681.1" cy="1356.2"/><circle cx="659" cy="1422.3"/><circle cx="641.5" cy="1349.3"/><circle cx="641.5" cy="1423.1"/><circle cx="647.6" cy="1204.3"/><circle cx="657.8" cy="1432.3"/><circle cx="678.2" cy="1401.1"/><circle cx="655.4" cy="1432.8"/><circle cx="697.8" cy="1433.8"/><circle cx="678.1" cy="1268.6"/><circle cx="670.7" cy="1436"/><circle cx="670.8" cy="1416.5"/><circle cx="656.5" cy="1459.6"/><circle cx="679" cy="1179.7"/><circle cx="656" cy="1187.1"/><circle cx="662.8" cy="1407"/><circle cx="676.9" cy="1174.1"/><circle cx="686.3" cy="1432.2"/><circle cx="663.1" cy="1428.5"/><circle cx="692.8" cy="1361.1"/><circle cx="665.4" cy="1433.9"/><circle cx="707.4" cy="1182.3"/><circle cx="649.6" cy="1122.5"/><circle cx="682" cy="1447.9"/><circle cx="665.1" cy="1394.5"/><circle cx="672.7" cy="1398.6"/><circle cx="647.1" cy="1102"/><circle cx="663.9" cy="1105"/><circle cx="652.6" cy="1456.9"/><circle cx="689.4" cy="1139.9"/><circle cx="696.9" cy="1321.9"/><circle cx="697.7" cy="1390.3"/><circle cx="707.2" cy="1396.4"/><circle cx="667.3" cy="1213.2"/><circle cx="686.6" cy="1447"/><circle cx="710.5" cy="1403.1"/><circle cx="676.1" cy="1451.2"/><circle cx="677.6" cy="1403.3"/><circle cx="687.8" cy="1246.8"/><circle cx="640.7" cy="1227.3"/><circle cx="702.4" cy="1445.1"/><circle cx="669.8" cy="1429.2"/><circle cx="695.3" cy="1298.6"/><circle cx="648.4" cy="1440.5"/><circle cx="675.5" cy="1458.7"/><circle cx="681.3" cy="1205.9"/><circle cx="696.7" cy="1464.1"/><circle cx="683.4" cy="1191.7"/><circle cx="685.3" cy="1342.5"/><circle cx="708.1" cy="1403.6"/><circle cx="658.8" cy="1420.3"/><circle cx="672.2" cy="1404.1"/><circle cx="704.8" cy="1188.1"/><circle cx="672.8" cy="1351"/><circle cx="683" cy="1444.6"/><circle cx="676.5" cy="1358.4"/><circle cx="711.8" cy="1418.2"/><circle cx="689.6" cy="1184.9"/><circle cx="696.7" cy="1442.4"/><circle cx="640.8" cy="1386.2"/><circle cx="668.2" cy="1464.2"/><circle cx="694.7" cy="1426.6"/><circle cx="651.1" cy="1295.1"/><circle cx="697.2" cy="1336.1"/><circle cx="707.9" cy="1174.7"/><circle cx="695.8" cy="1443"/><circle cx="692.9" cy="1391.5"/><circle cx="659.1" cy="1450.8"/><circle cx="647.5" cy="1300.6"/><circle cx="709.2" cy="1450.5"/><circle cx="670.2" cy="1171.6"/><circle cx="706.4" cy="1387.6"/><circle cx="688.7" cy="1368.3"/><circle cx="708.6" cy="1408.3"/><circle cx="640.3" cy="1403"/><circle cx="698.7" cy="1202.3"/><circle cx="694.1" cy="1271.7"/><circle cx="680.9" cy="1405"/><circle cx="650.7" cy="1236.9"/><circle cx="653.7" cy="1406.5"/><circle cx="708.5" cy="1454.1"/><circle cx="667.8" cy="1432.2"/><circle cx="695.1" cy="1398.6"/><circle cx="712" cy="1395.4"/><circle cx="655.6" cy="1440.1"/><circle cx="643.4" cy="1297.2"/><circle cx="641.1" cy="1430.7"/><circle cx="670.9" cy="1320.5"/><circle cx="700.6" cy="1373.6"/><circle cx="698.7" cy="1321.5"/><circle cx="682.9" cy="1190.6"/><circle cx="638.6" cy="1294"/><circle cx="657" cy="1335.7"/><circle cx="649.6" cy="1306.4"/><circle cx="650.2" cy="1378.1"/><circle cx="648.4" cy="1097.2"/><circle cx="641" cy="1236.9"/><circle cx="676.4" cy="1442.7"/><circle cx="664.2" cy="1443.1"/><circle cx="665" cy="1396.5"/><circle cx="659.2" cy="1172.7"/><circle cx="698" cy="1444.9"/><circle cx="660.3" cy="1430.7"/><circle cx="650.2" cy="1089.9"/><circle cx="659.7" cy="1278.4"/><circle cx="657.2" cy="1366.2"/><circle cx="664.5" cy="1441.4"/><circle cx="667" cy="1461.3"/><circle cx="655.6" cy="1415"/><circle cx="685.8" cy="1437.9"/><circle cx="650.1" cy="1196.1"/><circle cx="706.9" cy="1378"/><circle cx="705" cy="1382.9"/><circle cx="675.6" cy="1336.8"/><circle cx="693.5" cy="1386.5"/><circle cx="654.5" cy="1430.8"/><circle cx="660.4" cy="1284.3"/><circle cx="706.9" cy="1282.5"/><circle cx="674.1" cy="1180.8"/><circle cx="694.2" cy="1387.3"/><circle cx="699.6" cy="1446.7"/><circle cx="691.3" cy="1131.2"/><circle cx="672.5" cy="1467.5"/><circle cx="667" cy="1442.8"/><circle cx="642.9" cy="1295.8"/><circle cx="703.6" cy="1208.8"/><circle cx="690.6" cy="1153.4"/><circle cx="643.1" cy="1344.1"/><circle cx="701.3" cy="1424.4"/><circle cx="659.9" cy="1461.5"/><circle cx="702.6" cy="1283.9"/><circle cx="649.7" cy="1324.1"/><circle cx="640.1" cy="1448.8"/><circle cx="703.1" cy="1278.7"/><circle cx="705.5" cy="1145.7"/><circle cx="675.6" cy="1438.4"/><circle cx="707.3" cy="1340.8"/><circle cx="645.1" cy="1399.6"/><circle cx="649.7" cy="1335.6"/><circle cx="711.6" cy="1448.6"/><circle cx="709.2" cy="1187.4"/><circle cx="690.8" cy="1421.4"/><circle cx="663.7" cy="1324.2"/><circle cx="692.2" cy="1431.4"/><circle cx="638.4" cy="1439.4"/><circle cx="665.1" cy="1135.8"/><circle cx="702.7" cy="1427.6"/><circle cx="655.6" cy="1140.4"/><circle cx="648.1" cy="1210.1"/><circle cx="675.4" cy="1360.6"/><circle cx="689.2" cy="1358.6"/><circle cx="661.8" cy="1461.6"/><circle cx="700.1" cy="1264.9"/><circle cx="706.8" cy="1306.3"/><circle cx="654.7" cy="1348.2"/><circle cx="667.4" cy="1238.8"/><circle cx="701.4" cy="1390.4"/><circle cx="676.3" cy="1405.9"/><circle cx="694.7" cy="1281.3"/><circle cx="662" cy="1386.2"/><circle cx="700.1" cy="1339.4"/><circle cx="701.4" cy="1443.5"/><circle cx="696.8" cy="1436.3"/><circle cx="704.7" cy="1439"/><circle cx="667.9" cy="1245.3"/><circle cx="677.3" cy="1096.5"/><circle cx="699.2" cy="1119"/><circle cx="692.9" cy="1362.8"/><circle cx="678.9" cy="1256.2"/><circle cx="641.1" cy="1448.2"/><circle cx="654.8" cy="1415.2"/><circle cx="672.6" cy="1157.5"/><circle cx="695.2" cy="1420.9"/><circle cx="706.6" cy="1442.6"/><circle cx="712.8" cy="1396.9"/><circle cx="667.4" cy="1266.3"/><circle cx="711.2" cy="1103.8"/><circle cx="667.2" cy="1461.3"/><circle cx="652.1" cy="1326.2"/><circle cx="708.4" cy="1222.6"/><circle cx="646.4" cy="1237.3"/><circle cx="674.3" cy="1174.5"/><circle cx="696.9" cy="1322.2"/><circle cx="685.7" cy="1217.3"/><circle cx="702.6" cy="1402.4"/><circle cx="678.4" cy="1346.1"/><circle cx="672" cy="1364.1"/><circle cx="663.9" cy="1395.4"/><circle cx="685.4" cy="1394.3"/><circle cx="681" cy="1295.8"/><circle cx="676.8" cy="1443.7"/><circle cx="689.7" cy="1226.5"/><circle cx="676.6" cy="1294.7"/><circle cx="690.7" cy="1436.2"/><circle cx="676.1" cy="1411.8"/><circle cx="696.9" cy="1221.8"/><circle cx="653.7" cy="1398.6"/><circle cx="665.6" cy="1218"/><circle cx="661.4" cy="1403.1"/><circle cx="704.7" cy="1097.2"/><circle cx="682.2" cy="1404.4"/><circle cx="709.4" cy="1107.7"/><circle cx="680.4" cy="1405.5"/><circle cx="709" cy="1399.2"/><circle cx="694.1" cy="1440.3"/><circle cx="705.8" cy="1255.3"/><circle cx="660.9" cy="1454.4"/><circle cx="713.5" cy="1258"/><circle cx="661" cy="1385.6"/><circle cx="694.9" cy="1209.8"/><circle cx="685.1" cy="1333.1"/><circle cx="665.2" cy="1148.9"/><circle cx="646.2" cy="1378.9"/><circle cx="641.8" cy="1432.5"/><circle cx="639.2" cy="1171.8"/><circle cx="680" cy="1189.9"/><circle cx="680.7" cy="1222.5"/><circle cx="646.6" cy="1342.2"/><circle cx="641.3" cy="1426.7"/><circle cx="639.9" cy="1466.6"/><circle cx="682.1" cy="1239.6"/><circle cx="695.3" cy="1316.4"/><circle cx="706.1" cy="1395.7"/><circle cx="673.8" cy="1379.3"/><circle cx="694.4" cy="1254"/><circle cx="656.3" cy="1431.8"/><circle cx="642.1" cy="1465.3"/><circle cx="681.8" cy="1452.1"/><circle cx="662.9" cy="1102.3"/><circle cx="668.7" cy="1435.1"/><circle cx="647" cy="1114.9"/><circle cx="690.5" cy="1462.3"/><circle cx="705" cy="1311"/><circle cx="694.4" cy="1373.7"/><circle cx="648.7" cy="1386.3"/><circle cx="658.9" cy="1473.4"/><circle cx="653.2" cy="1356.1"/><circle cx="713.1" cy="1335"/><circle cx="667.7" cy="1226.1"/><circle cx="649.5" cy="1228.3"/><circle cx="699.8" cy="1240.3"/><circle cx="654.4" cy="1457.3"/><circle cx="644.3" cy="1200.2"/><circle cx="666.4" cy="1375.2"/><circle cx="641.2" cy="1204.9"/><circle cx="673" cy="1181.1"/><circle cx="671.3" cy="1454"/><circle cx="662" cy="1401"/><circle cx="680.4" cy="1382.9"/><circle cx="697.8" cy="1341.2"/><circle cx="664.1" cy="1158.7"/><circle cx="658.9" cy="1460.8"/><circle cx="686.4" cy="1341.1"/><circle cx="670.1" cy="1386.8"/><circle cx="658" cy="1446.2"/><circle cx="709.7" cy="1305.5"/><circle cx="654.2" cy="1286.8"/><circle cx="668.5" cy="1449.1"/><circle cx="660.4" cy="1450.6"/><circle cx="699.4" cy="1387.4"/><circle cx="688.5" cy="1138"/><circle cx="707" cy="1228.1"/><circle cx="658.8" cy="1314.3"/><circle cx="700.6" cy="1403.5"/><circle cx="688.8" cy="1144.2"/><circle cx="646.9" cy="1389.8"/><circle cx="657.3" cy="1445.5"/><circle cx="701.7" cy="1342.9"/><circle cx="671.2" cy="1452.3"/><circle cx="650.6" cy="1207.3"/><circle cx="648.2" cy="1384.1"/><circle cx="660.4" cy="1282.7"/><circle cx="687.2" cy="1216"/><circle cx="648.6" cy="1253.8"/><circle cx="650.2" cy="1252.2"/><circle cx="702.8" cy="1255.7"/><circle cx="658.3" cy="1405.3"/><circle cx="689.8" cy="1462.1"/><circle cx="701.2" cy="1428.4"/><circle cx="694.8" cy="1320.3"/><circle cx="685.7" cy="1417.4"/><circle cx="672.3" cy="1104.9"/><circle cx="691.5" cy="1417.6"/><circle cx="666" cy="1295.3"/><circle cx="696" cy="1447.9"/><circle cx="691" cy="1393.1"/><circle cx="647" cy="1245.6"/><circle cx="638.9" cy="1180"/><circle cx="688.5" cy="1455.3"/><circle cx="674.3" cy="1244"/><circle cx="684.2" cy="1128.5"/><circle cx="688.6" cy="1464.3"/><circle cx="673.7" cy="1238.6"/><circle cx="648.3" cy="1459.7"/><circle cx="682.1" cy="1308.6"/><circle cx="660.2" cy="1103"/><circle cx="676.2" cy="1453.4"/><circle cx="640.6" cy="1278.9"/><circle cx="710.8" cy="1449.7"/><circle cx="652.2" cy="1349.1"/><circle cx="713.3" cy="1412.1"/><circle cx="698.2" cy="1360.2"/><circle cx="667.5" cy="1272.3"/><circle cx="681" cy="1437.4"/><circle cx="654.9" cy="1420.4"/><circle cx="639.4" cy="1448.9"/><circle cx="675.6" cy="1401.5"/><circle cx="643.7" cy="1454"/><circle cx="651.8" cy="1462.1"/><circle cx="643.3" cy="1284.7"/><circle cx="680.1" cy="1297.1"/><circle cx="688.7" cy="1462"/><circle cx="710.9" cy="1318.9"/><circle cx="656.8" cy="1309.8"/><circle cx="701.6" cy="1412.6"/><circle cx="682.7" cy="1421.3"/><circle cx="639.4" cy="1432"/><circle cx="665.9" cy="1340.9"/><circle cx="712.3" cy="1446.3"/><circle cx="693.6" cy="1364.4"/><circle cx="688.9" cy="1401.8"/><circle cx="691.2" cy="1380"/><circle cx="710.6" cy="1272"/><circle cx="679" cy="1432.7"/><circle cx="648.7" cy="1418"/><circle cx="642.2" cy="1388.5"/><circle cx="681.2" cy="1415.9"/><circle cx="651.8" cy="1306.4"/><circle cx="708.9" cy="1445"/><circle cx="712" cy="1176.4"/><circle cx="681" cy="1153.6"/><circle cx="684.5" cy="1447.4"/><circle cx="648.2" cy="1387.7"/><circle cx="699.6" cy="1412.3"/><circle cx="670.5" cy="1412.5"/><circle cx="695.3" cy="1436.4"/><circle cx="670.7" cy="1368.9"/><circle cx="698.9" cy="1245.4"/><circle cx="647.6" cy="1430.9"/><circle cx="711.9" cy="1256.7"/><circle cx="690" cy="1278"/><circle cx="664.4" cy="1328.9"/><circle cx="669.4" cy="1193.8"/><circle cx="654.6" cy="1341.2"/><circle cx="676.8" cy="1247"/><circle cx="705.9" cy="1139.5"/><circle cx="674.4" cy="1214.1"/><circle cx="663.5" cy="1352.5"/><circle cx="673.3" cy="1421.8"/><circle cx="669.8" cy="1340.3"/><circle cx="670.3" cy="1289.7"/><circle cx="677.4" cy="1290.4"/><circle cx="692.6" cy="1403.2"/><circle cx="692.5" cy="1277.5"/><circle cx="640.5" cy="1414.7"/><circle cx="709.3" cy="1447.1"/><circle cx="665" cy="1136.4"/><circle cx="671.6" cy="1175"/><circle cx="677.3" cy="1398.6"/><circle cx="706.8" cy="1363.7"/><circle cx="641.5" cy="1467.4"/><circle cx="702" cy="1142.9"/><circle cx="689.5" cy="1410.8"/><circle cx="678.8" cy="1337.2"/><circle cx="668.8" cy="1446.1"/><circle cx="678.8" cy="1445.5"/><circle cx="691.2" cy="1347.8"/><circle cx="672.4" cy="1310.4"/><circle cx="708.2" cy="1113.1"/><circle cx="681.2" cy="1299"/><circle cx="673" cy="1337.3"/><circle cx="706.9" cy="1340.1"/><circle cx="640.5" cy="1424.7"/><circle cx="706.4" cy="1408.1"/><circle cx="675.1" cy="1331"/><circle cx="648.9" cy="1445.9"/><circle cx="690.8" cy="1419.9"/><circle cx="657.4" cy="1441.2"/><circle cx="674.5" cy="1460.7"/><circle cx="678.9" cy="1393.8"/><circle cx="711.5" cy="1407.5"/><circle cx="689.8" cy="1359.6"/><circle cx="672.6" cy="1403.1"/><circle cx="687.5" cy="1455.2"/><circle cx="687.8" cy="1209.9"/><circle cx="649.6" cy="1460.2"/><circle cx="667.3" cy="1464.9"/><circle cx="651.7" cy="1464.6"/><circle cx="647.3" cy="1253.4"/><circle cx="663.5" cy="1408.3"/><circle cx="641.3" cy="1149.9"/><circle cx="652.5" cy="1417.3"/><circle cx="652.3" cy="1401.3"/><circle cx="679.3" cy="1299.4"/><circle cx="670.6" cy="1148.2"/><circle cx="646.7" cy="1178.4"/><circle cx="713.4" cy="1407.1"/><circle cx="695.1" cy="1307.3"/><circle cx="690.1" cy="1457"/><circle cx="687.1" cy="1354.2"/><circle cx="693.4" cy="1322.3"/><circle cx="653.2" cy="1424.3"/><circle cx="693.4" cy="1317.9"/><circle cx="666.2" cy="1419.3"/><circle cx="653.7" cy="1267.2"/><circle cx="660.5" cy="1455.4"/><circle cx="700.9" cy="1376.1"/><circle cx="669.5" cy="1145.5"/><circle cx="704.5" cy="1329.6"/><circle cx="713.4" cy="1156.5"/><circle cx="709.3" cy="1148.6"/><circle cx="674.7" cy="1269.4"/><circle cx="681.1" cy="1244.4"/><circle cx="684" cy="1283.9"/><circle cx="645.3" cy="1380.8"/><circle cx="695.6" cy="1253.3"/><circle cx="699" cy="1253.9"/><circle cx="653.6" cy="1209.2"/><circle cx="664.1" cy="1470.7"/><circle cx="686.3" cy="1460.6"/><circle cx="710.5" cy="1391.6"/><circle cx="665.5" cy="1291.3"/><circle cx="704.8" cy="1399.5"/><circle cx="643.7" cy="1406"/><circle cx="679.9" cy="1465.4"/><circle cx="661.1" cy="1339.2"/><circle cx="703.5" cy="1139.8"/><circle cx="652.6" cy="1335.3"/><circle cx="645.6" cy="1429.7"/><circle cx="667.2" cy="1326.7"/><circle cx="695.6" cy="1408"/><circle cx="693.9" cy="1408.7"/><circle cx="664.3" cy="1457.7"/><circle cx="693.4" cy="1292.9"/><circle cx="649.7" cy="1473.2"/><circle cx="672.4" cy="1222.5"/><circle cx="704.5" cy="1470.9"/><circle cx="650.8" cy="1260"/><circle cx="656.8" cy="1411.6"/><circle cx="665.6" cy="1411.7"/><circle cx="654.6" cy="1387"/><circle cx="678.5" cy="1438.7"/><circle cx="670.2" cy="1435.4"/><circle cx="683.4" cy="1292.9"/><circle cx="640" cy="1181"/><circle cx="699.9" cy="1445.2"/><circle cx="668.4" cy="1424.6"/><circle cx="643.6" cy="1110.4"/><circle cx="685.2" cy="1304.5"/><circle cx="651.7" cy="1175.9"/><circle cx="654.7" cy="1405.3"/><circle cx="695.5" cy="1266.2"/><circle cx="643.9" cy="1294.5"/><circle cx="709.8" cy="1279.8"/><circle cx="657" cy="1389.5"/><circle cx="684.2" cy="1421.5"/><circle cx="647.5" cy="1409"/><circle cx="713.8" cy="1444.8"/><circle cx="710.3" cy="1454.4"/><circle cx="687.9" cy="1406.3"/><circle cx="658.6" cy="1212.4"/><circle cx="665.8" cy="1414.9"/><circle cx="682.3" cy="1359.1"/><circle cx="659.4" cy="1232.5"/><circle cx="682.7" cy="1450.5"/><circle cx="706.8" cy="1408"/><circle cx="649.5" cy="1408.1"/><circle cx="659" cy="1293.8"/><circle cx="711" cy="1183.7"/><circle cx="703.3" cy="1470.5"/><circle cx="641" cy="1366.1"/><circle cx="645.9" cy="1472.3"/><circle cx="687.1" cy="1420.2"/><circle cx="701.4" cy="1402.8"/><circle cx="712.2" cy="1423.6"/><circle cx="648.2" cy="1400.6"/><circle cx="674.2" cy="1409.5"/><circle cx="677.1" cy="1385.5"/><circle cx="702.7" cy="1429"/><circle cx="675.1" cy="1404.5"/><circle cx="641.3" cy="1433.6"/><circle cx="644.1" cy="1399.3"/><circle cx="676.1" cy="1295.3"/><circle cx="648.6" cy="1461.5"/><circle cx="677" cy="1090.9"/><circle cx="682.8" cy="1444"/><circle cx="676.6" cy="1251.8"/><circle cx="682" cy="1422.5"/><circle cx="639.6" cy="1455.5"/><circle cx="690.8" cy="1253.5"/><circle cx="641.2" cy="1357.2"/><circle cx="676.2" cy="1426.8"/><circle cx="649.8" cy="1406.2"/><circle cx="668.8" cy="1207.9"/><circle cx="699.3" cy="1296"/><circle cx="701.8" cy="1424.1"/><circle cx="705.1" cy="1431"/><circle cx="690.7" cy="1356.9"/><circle cx="678.7" cy="1448.2"/><circle cx="698.9" cy="1432.1"/><circle cx="643.7" cy="1243.6"/><circle cx="640.8" cy="1287.9"/><circle cx="704.9" cy="1463.4"/><circle cx="692.9" cy="1394.5"/><circle cx="670.8" cy="1403"/><circle cx="657.6" cy="1282.1"/><circle cx="711.7" cy="1398.3"/><circle cx="654.6" cy="1432.4"/><circle cx="657.5" cy="1221.7"/><circle cx="709.6" cy="1437.4"/><circle cx="695.7" cy="1321.6"/><circle cx="702.5" cy="1423.4"/><circle cx="709.2" cy="1334"/><circle cx="710.6" cy="1440.5"/><circle cx="668" cy="1200.8"/><circle cx="657" cy="1408.1"/><circle cx="680.8" cy="1307.3"/><circle cx="667.3" cy="1277.3"/><circle cx="663.8" cy="1391"/><circle cx="682" cy="1368.5"/><circle cx="705.8" cy="1448.4"/><circle cx="679.7" cy="1367.6"/><circle cx="664" cy="1371.6"/><circle cx="652.7" cy="1189.2"/><circle cx="701.2" cy="1411.2"/><circle cx="686.5" cy="1443.4"/><circle cx="654.8" cy="1401.8"/><circle cx="699.6" cy="1255.8"/><circle cx="644.4" cy="1468.9"/><circle cx="645" cy="1460.7"/><circle cx="660.5" cy="1090.8"/><circle cx="697.5" cy="1361.3"/><circle cx="678" cy="1290.9"/><circle cx="690.5" cy="1391.3"/><circle cx="706.8" cy="1437.1"/><circle cx="712.8" cy="1313"/><circle cx="701.7" cy="1430.3"/><circle cx="671.4" cy="1393.8"/><circle cx="679.5" cy="1434.9"/><circle cx="638.5" cy="1181.4"/><circle cx="644.3" cy="1403.9"/><circle cx="671.4" cy="1301.3"/><circle cx="663" cy="1439.1"/><circle cx="677.8" cy="1338.2"/><circle cx="638.8" cy="1421.1"/><circle cx="709.9" cy="1448.4"/><circle cx="674.7" cy="1417.5"/><circle cx="650.7" cy="1456.6"/><circle cx="686.6" cy="1341"/><circle cx="681.9" cy="1361.4"/><circle cx="691.7" cy="1214.3"/><circle cx="713" cy="1462.7"/><circle cx="671.6" cy="1401.4"/><circle cx="638.4" cy="1106.8"/><circle cx="653.5" cy="1412.1"/><circle cx="669.2" cy="1457.4"/><circle cx="657.4" cy="1247"/><circle cx="675.1" cy="1452.2"/><circle cx="686" cy="1292.8"/><circle cx="677.9" cy="1374.1"/><circle cx="642.4" cy="1200.3"/><circle cx="640.3" cy="1379.6"/><circle cx="640.5" cy="1307.9"/><circle cx="690" cy="1427.8"/><circle cx="669" cy="1108.5"/><circle cx="680" cy="1435.1"/><circle cx="668.5" cy="1224.8"/><circle cx="690.5" cy="1306.6"/><circle cx="713.1" cy="1388.5"/><circle cx="684.6" cy="1407.4"/><circle cx="653.9" cy="1453.4"/><circle cx="693.1" cy="1251.1"/><circle cx="654.5" cy="1432.4"/><circle cx="690.3" cy="1203"/><circle cx="681.7" cy="1193.5"/><circle cx="639.3" cy="1434.9"/><circle cx="652.6" cy="1421.9"/><circle cx="655.5" cy="1294.1"/><circle cx="666.9" cy="1268.4"/><circle cx="705.1" cy="1458.8"/><circle cx="691.9" cy="1231.3"/><circle cx="674.6" cy="1237"/><circle cx="669" cy="1332.2"/><circle cx="640.7" cy="1191.6"/><circle cx="654.8" cy="1116.5"/><circle cx="704.7" cy="1435.7"/><circle cx="666.9" cy="1153.3"/><circle cx="659.1" cy="1209.4"/><circle cx="709.3" cy="1347.5"/><circle cx="655.1" cy="1449.7"/><circle cx="698.8" cy="1132.5"/><circle cx="667.2" cy="1280.2"/><circle cx="665.9" cy="1408"/><circle cx="663.6" cy="1416.3"/><circle cx="658.8" cy="1144.5"/><circle cx="658.3" cy="1431.9"/><circle cx="659.6" cy="1234.6"/><circle cx="673.4" cy="1395.2"/><circle cx="671.8" cy="1300.3"/><circle cx="639.8" cy="1233.8"/><circle cx="668.1" cy="1451.3"/><circle cx="700.2" cy="1427.2"/><circle cx="695.2" cy="1449.2"/><circle cx="647.9" cy="1402.4"/><circle cx="654" cy="1445"/><circle cx="685.8" cy="1176.8"/><circle cx="685.8" cy="1254.4"/><circle cx="642.2" cy="1350.2"/><circle cx="661.8" cy="1437.8"/><circle cx="676.9" cy="1434.9"/><circle cx="689.8" cy="1345.5"/><circle cx="680.8" cy="1181.6"/><circle cx="686.9" cy="1164.9"/><circle cx="705.2" cy="1168.5"/><circle cx="704.5" cy="1416.3"/><circle cx="653.5" cy="1299.9"/><circle cx="703.9" cy="1377.2"/><circle cx="654.3" cy="1361.4"/><circle cx="638.7" cy="1308.8"/><circle cx="697.3" cy="1421.2"/><circle cx="706.8" cy="1425.9"/><circle cx="646.2" cy="1400.7"/><circle cx="695.1" cy="1431.5"/><circle cx="644.5" cy="1210.2"/><circle cx="707.4" cy="1408.7"/><circle cx="673.4" cy="1460.3"/><circle cx="675.2" cy="1327.8"/><circle cx="707" cy="1105"/><circle cx="661.3" cy="1364.1"/><circle cx="679.2" cy="1423.2"/><circle cx="646" cy="1184.9"/><circle cx="651.7" cy="1329.2"/><circle cx="678.7" cy="1333.8"/><circle cx="703.7" cy="1392.2"/><circle cx="666.4" cy="1264.3"/><circle cx="638.8" cy="1311.7"/><circle cx="655.9" cy="1365.4"/><circle cx="675.9" cy="1414.3"/><circle cx="643.2" cy="1256.5"/><circle cx="649.2" cy="1179.7"/><circle cx="655.4" cy="1452.5"/><circle cx="701.9" cy="1463.1"/><circle cx="670.6" cy="1451.3"/><circle cx="648.9" cy="1202.6"/><circle cx="678.9" cy="1334.6"/><circle cx="681.8" cy="1403.3"/><circle cx="684.9" cy="1117.2"/><circle cx="694.1" cy="1151.8"/><circle cx="681.2" cy="1398.6"/><circle cx="642.3" cy="1408.1"/><circle cx="683.2" cy="1371.1"/><circle cx="684.1" cy="1345.3"/><circle cx="676.3" cy="1221.5"/><circle cx="649.3" cy="1199.3"/><circle cx="653.9" cy="1422.9"/><circle cx="685.7" cy="1214"/><circle cx="696.5" cy="1454.6"/><circle cx="643.9" cy="1435.2"/><circle cx="695.8" cy="1399.4"/><circle cx="672.4" cy="1454.8"/><circle cx="685.8" cy="1412.1"/><circle cx="697.6" cy="1462.7"/><circle cx="644.7" cy="1243.5"/><circle cx="693.4" cy="1309.2"/><circle cx="694.5" cy="1427.3"/><circle cx="673.7" cy="1375.3"/><circle cx="657.8" cy="1404.6"/><circle cx="681.7" cy="1235"/><circle cx="682.7" cy="1421.3"/><circle cx="668.8" cy="1431"/><circle cx="678" cy="1261.2"/><circle cx="694" cy="1273.5"/><circle cx="698.1" cy="1297.3"/><circle cx="709.6" cy="1456.6"/><circle cx="711.8" cy="1459.9"/><circle cx="640.2" cy="1168"/><circle cx="706.6" cy="1120.4"/><circle cx="704.9" cy="1435.7"/><circle cx="713.6" cy="1386.8"/><circle cx="698.1" cy="1391.7"/><circle cx="709.8" cy="1423.1"/><circle cx="712.4" cy="1454.4"/><circle cx="648.5" cy="1428.5"/><circle cx="647.5" cy="1133.3"/><circle cx="680.7" cy="1395.3"/><circle cx="707.5" cy="1435.5"/><circle cx="678.5" cy="1454.8"/><circle cx="676.6" cy="1322.3"/><circle cx="703" cy="1222.4"/><circle cx="682.5" cy="1428.7"/><circle cx="700.6" cy="1274.6"/><circle cx="683.9" cy="1464.9"/><circle cx="677.4" cy="1446.9"/><circle cx="675.9" cy="1325.4"/><circle cx="698.3" cy="1452.1"/><circle cx="647.7" cy="1391.4"/><circle cx="664" cy="1388"/><circle cx="645.7" cy="1462.4"/><circle cx="688.1" cy="1233.3"/><circle cx="668.9" cy="1282.3"/><circle cx="705.9" cy="1252.6"/><circle cx="664.1" cy="1319.5"/><circle cx="707.6" cy="1423.5"/><circle cx="661.9" cy="1301.1"/><circle cx="709.5" cy="1354.4"/><circle cx="706.1" cy="1331.9"/><circle cx="660.2" cy="1276"/><circle cx="678.5" cy="1422.1"/><circle cx="644" cy="1177.8"/><circle cx="685.2" cy="1392"/><circle cx="689.6" cy="1417.5"/><circle cx="673.1" cy="1373.3"/><circle cx="670.9" cy="1119.5"/><circle cx="675.6" cy="1296.8"/><circle cx="697.9" cy="1451.9"/><circle cx="653.5" cy="1424.5"/><circle cx="701.4" cy="1310.3"/><circle cx="692.5" cy="1136.9"/><circle cx="668.3" cy="1368.6"/><circle cx="711.8" cy="1367.7"/><circle cx="682.4" cy="1473.2"/><circle cx="676.9" cy="1443.4"/><circle cx="678.4" cy="1243.4"/><circle cx="664.2" cy="1430.2"/><circle cx="678.2" cy="1369.6"/><circle cx="645.5" cy="1306.3"/><circle cx="684.1" cy="1344"/><circle cx="664" cy="1267.4"/><circle cx="688.2" cy="1323"/><circle cx="683.9" cy="1418.6"/><circle cx="713.2" cy="1348.4"/><circle cx="694.1" cy="1300.6"/><circle cx="639" cy="1455.8"/><circle cx="647.5" cy="1127.8"/><circle cx="675.7" cy="1333.7"/><circle cx="679.1" cy="1116.9"/><circle cx="674.3" cy="1208.9"/><circle cx="693.6" cy="1461.4"/><circle cx="708.8" cy="1453.8"/><circle cx="643.1" cy="1213.1"/><circle cx="685.7" cy="1429.7"/><circle cx="660.2" cy="1179.1"/><circle cx="667.8" cy="1112.4"/><circle cx="710.4" cy="1265.8"/><circle cx="643.5" cy="1331.5"/><circle cx="653.9" cy="1396"/><circle cx="676.4" cy="1180.9"/><circle cx="694.8" cy="1329.6"/><circle cx="710.2" cy="1452.2"/><circle cx="711.8" cy="1287.6"/><circle cx="708.4" cy="1414.8"/><circle cx="697" cy="1445.9"/><circle cx="672.4" cy="1408.7"/><circle cx="659.9" cy="1211.3"/><circle cx="703.4" cy="1280.6"/><circle cx="694.8" cy="1406.3"/><circle cx="692" cy="1232.4"/><circle cx="696.6" cy="1359.6"/><circle cx="707.5" cy="1413.5"/><circle cx="679.6" cy="1450.9"/><circle cx="657.7" cy="1306.8"/><circle cx="639.3" cy="1429.4"/><circle cx="656.5" cy="1382.9"/><circle cx="687.9" cy="1430.6"/><circle cx="666.2" cy="1328.6"/><circle cx="653.2" cy="1457.3"/><circle cx="648.4" cy="1424"/><circle cx="641" cy="1331.1"/><circle cx="681.4" cy="1220.9"/><circle cx="688" cy="1286.3"/><circle cx="710.3" cy="1422.4"/><circle cx="697.4" cy="1403.3"/><circle cx="650.2" cy="1384.8"/><circle cx="653.9" cy="1149.5"/><circle cx="711.3" cy="1439.8"/><circle cx="660.3" cy="1253.7"/><circle cx="679.1" cy="1449.2"/><circle cx="699" cy="1223"/><circle cx="686.6" cy="1449.6"/><circle cx="641.4" cy="1405.9"/><circle cx="674" cy="1408.1"/><circle cx="678.6" cy="1313.1"/><circle cx="678.9" cy="1417.5"/><circle cx="646.8" cy="1243.3"/><circle cx="711" cy="1105.8"/><circle cx="676.1" cy="1291"/><circle cx="689.1" cy="1465"/><circle cx="696.2" cy="1451.8"/><circle cx="657.4" cy="1244.6"/><circle cx="640.4" cy="1401.3"/><circle cx="684.8" cy="1380"/><circle cx="707" cy="1219.5"/><circle cx="705.5" cy="1293"/><circle cx="704.6" cy="1373.6"/><circle cx="653.8" cy="1420.2"/><circle cx="705" cy="1454.1"/><circle cx="644.1" cy="1449.3"/><circle cx="659.9" cy="1458.2"/><circle cx="700.6" cy="1402.8"/><circle cx="645.4" cy="1148.3"/><circle cx="697.3" cy="1449.7"/><circle cx="698.4" cy="1378.8"/><circle cx="706.8" cy="1335.2"/><circle cx="703" cy="1155.3"/><circle cx="692.5" cy="1095.1"/><circle cx="651" cy="1318"/><circle cx="647.2" cy="1350.8"/><circle cx="644.4" cy="1295.7"/><circle cx="661.9" cy="1396.5"/><circle cx="661.9" cy="1258.8"/><circle cx="713.1" cy="1224.6"/><circle cx="702.8" cy="1434.2"/><circle cx="645.5" cy="1373"/><circle cx="673.9" cy="1418"/><circle cx="698.8" cy="1447.5"/><circle cx="668" cy="1399.2"/><circle cx="677.8" cy="1340"/><circle cx="704.5" cy="1377.7"/><circle cx="707.5" cy="1405.6"/><circle cx="651.3" cy="1361.2"/><circle cx="700.3" cy="1383.2"/><circle cx="672.3" cy="1462.7"/><circle cx="640.1" cy="1303.2"/><circle cx="661.3" cy="1253.7"/><circle cx="705.5" cy="1392"/><circle cx="652.3" cy="1319.9"/><circle cx="650.9" cy="1430.2"/><circle cx="710.5" cy="1286.2"/><circle cx="671" cy="1393.2"/><circle cx="707.2" cy="1324.5"/><circle cx="659.6" cy="1310.7"/><circle cx="643" cy="1397.2"/><circle cx="707.4" cy="1438.3"/><circle cx="662.5" cy="1159.1"/><circle cx="709.3" cy="1229.6"/><circle cx="689.1" cy="1405.7"/><circle cx="701.4" cy="1406.6"/><circle cx="662.6" cy="1218.1"/><circle cx="692.1" cy="1275.9"/><circle cx="699.9" cy="1424.2"/><circle cx="689.6" cy="1234"/><circle cx="708.1" cy="1413.5"/><circle cx="706.7" cy="1221.6"/><circle cx="681.2" cy="1449.7"/><circle cx="709.5" cy="1148.4"/><circle cx="692.2" cy="1408.8"/><circle cx="707.1" cy="1173.5"/><circle cx="649.2" cy="1429.5"/><circle cx="660.9" cy="1407.5"/><circle cx="649.8" cy="1428.4"/><circle cx="640.2" cy="1348"/><circle cx="687.8" cy="1428.4"/><circle cx="711.6" cy="1309.8"/><circle cx="685.8" cy="1307.7"/><circle cx="711.8" cy="1266.8"/><circle cx="700.4" cy="1393.5"/><circle cx="685.1" cy="1397.9"/><circle cx="668.5" cy="1428.9"/><circle cx="653.3" cy="1387.7"/><circle cx="710.6" cy="1373.2"/><circle cx="709.4" cy="1424.2"/><circle cx="706.2" cy="1360.3"/><circle cx="663.6" cy="1440.6"/><circle cx="694.9" cy="1399.6"/><circle cx="678.8" cy="1415.9"/><circle cx="700.5" cy="1370.8"/><circle cx="681.1" cy="1261.9"/><circle cx="639.3" cy="1461.5"/><circle cx="659.3" cy="1395.9"/><circle cx="658.8" cy="1451.1"/><circle cx="663.2" cy="1410.8"/><circle cx="664.4" cy="1283.3"/><circle cx="639.8" cy="1326.8"/><circle cx="676.9" cy="1291.7"/><circle cx="709.3" cy="1238.3"/><circle cx="684.9" cy="1413.2"/><circle cx="654.5" cy="1407.5"/><circle cx="711.6" cy="1438.2"/><circle cx="704.5" cy="1415.4"/><circle cx="705" cy="1334.3"/><circle cx="647.2" cy="1311.8"/><circle cx="691.5" cy="1294.6"/><circle cx="663.2" cy="1369.4"/><circle cx="698.5" cy="1458.5"/><circle cx="666.6" cy="1322.5"/><circle cx="656.9" cy="1218.4"/><circle cx="711.4" cy="1202.8"/><circle cx="702.8" cy="1464.5"/><circle cx="687.3" cy="1406.8"/><circle cx="674.7" cy="1386.8"/><circle cx="681.1" cy="1331.8"/><circle cx="688.1" cy="1249.4"/><circle cx="670.7" cy="1462.6"/><circle cx="669.2" cy="1186.1"/><circle cx="658.4" cy="1396.5"/><circle cx="685.5" cy="1127.2"/><circle cx="660" cy="1253.6"/><circle cx="669.9" cy="1403.4"/><circle cx="660.1" cy="1145"/><circle cx="707.3" cy="1391.5"/><circle cx="677.5" cy="1450"/><circle cx="649.7" cy="1436.3"/><circle cx="647.5" cy="1369.7"/><circle cx="696.6" cy="1272.2"/><circle cx="709.1" cy="1418.3"/><circle cx="655.4" cy="1159.2"/><circle cx="681.4" cy="1427.9"/><circle cx="675.1" cy="1114.8"/><circle cx="671.5" cy="1321.1"/><circle cx="691.1" cy="1284"/><circle cx="699" cy="1405.1"/><circle cx="700.2" cy="1371.6"/><circle cx="655.1" cy="1411"/><circle cx="683.8" cy="1383.1"/><circle cx="650.1" cy="1221.4"/><circle cx="652.5" cy="1266.8"/><circle cx="664.5" cy="1231.9"/><circle cx="681.5" cy="1400.6"/><circle cx="675.5" cy="1420.8"/><circle cx="642" cy="1345.6"/><circle cx="675.5" cy="1143"/><circle cx="651.2" cy="1296.4"/><circle cx="846.9" cy="1438.6"/><circle cx="899" cy="1353.7"/><circle cx="882.7" cy="1303.5"/><circle cx="852.5" cy="1378.8"/><circle cx="892.1" cy="1380.7"/><circle cx="907.9" cy="1388.7"/><circle cx="898.3" cy="1407.3"/><circle cx="845.1" cy="1426.2"/><circle cx="883.7" cy="1382"/><circle cx="864.8" cy="1424.2"/><circle cx="867.1" cy="1443.9"/><circle cx="847.8" cy="1298.2"/><circle cx="843.3" cy="1274.5"/><circle cx="907.3" cy="1448.8"/><circle cx="868.4" cy="1347.4"/><circle cx="846.3" cy="1398.2"/><circle cx="868.9" cy="1430.9"/><circle cx="868.3" cy="1431"/><circle cx="845.7" cy="1446.9"/><circle cx="889.7" cy="1422.3"/><circle cx="881.1" cy="1440.6"/><circle cx="888.3" cy="1389.5"/><circle cx="897.2" cy="1234.7"/><circle cx="900.1" cy="1433.4"/><circle cx="909.3" cy="1436.3"/><circle cx="887" cy="1414.7"/><circle cx="907.9" cy="1449.8"/><circle cx="908.4" cy="1447.3"/><circle cx="848.5" cy="1443.9"/><circle cx="863.4" cy="1334.2"/><circle cx="870.2" cy="1417.8"/><circle cx="869.2" cy="1356.6"/><circle cx="841.2" cy="1331.9"/><circle cx="863.5" cy="1433.1"/><circle cx="893.4" cy="1444.1"/><circle cx="872.3" cy="1455"/><circle cx="884.1" cy="1379.2"/><circle cx="886.2" cy="1411.9"/><circle cx="881.1" cy="1322"/><circle cx="834.9" cy="1392.3"/><circle cx="862.7" cy="1444.6"/><circle cx="890.2" cy="1419.4"/><circle cx="861.5" cy="1425.3"/><circle cx="907" cy="1449.4"/><circle cx="906.2" cy="1447.3"/><circle cx="872.5" cy="1384"/><circle cx="907.9" cy="1391.4"/><circle cx="849.6" cy="1424.3"/><circle cx="870.1" cy="1448.9"/><circle cx="903.7" cy="1436.4"/><circle cx="840.7" cy="1422.8"/><circle cx="872.5" cy="1378.4"/><circle cx="865.3" cy="1424.7"/><circle cx="863.2" cy="1374.1"/><circle cx="866.6" cy="1428.4"/><circle cx="879.3" cy="1401.2"/><circle cx="903.6" cy="1376.9"/><circle cx="837.8" cy="1424.3"/><circle cx="844.8" cy="1420.6"/><circle cx="885.7" cy="1455.6"/><circle cx="874.6" cy="1450.1"/><circle cx="888.3" cy="1388.1"/><circle cx="897.6" cy="1451.6"/><circle cx="895.8" cy="1442.9"/><circle cx="858" cy="1419.4"/><circle cx="850.2" cy="1258.5"/><circle cx="880.7" cy="1164.9"/><circle cx="838" cy="1363.2"/><circle cx="878.7" cy="1428.6"/><circle cx="880.6" cy="1443.8"/><circle cx="870.5" cy="1425.2"/><circle cx="898.3" cy="1454.8"/><circle cx="839" cy="1434.4"/><circle cx="835.4" cy="1383.6"/><circle cx="904.2" cy="1398.4"/><circle cx="897.4" cy="1255.5"/><circle cx="836.7" cy="1432.2"/><circle cx="888.2" cy="1424.5"/><circle cx="878.1" cy="1379.1"/><circle cx="844.6" cy="1436.8"/><circle cx="865.1" cy="1438"/><circle cx="878.9" cy="1190.1"/><circle cx="879.7" cy="1429.7"/><circle cx="849.1" cy="1308.8"/><circle cx="834.8" cy="1425.6"/><circle cx="838.7" cy="1296.3"/><circle cx="852.1" cy="1334.1"/><circle cx="857.5" cy="1433.7"/><circle cx="849.5" cy="1456"/><circle cx="859.7" cy="1390.9"/><circle cx="841.6" cy="1430.2"/><circle cx="863.6" cy="1431"/><circle cx="859.2" cy="1382.4"/><circle cx="856.5" cy="1424.9"/><circle cx="862.6" cy="1435"/><circle cx="899" cy="1316.9"/><circle cx="893.4" cy="1352"/><circle cx="843.6" cy="1345.9"/><circle cx="841.4" cy="1431.3"/><circle cx="876.3" cy="1191.3"/><circle cx="840.5" cy="1416.5"/><circle cx="895.1" cy="1432.1"/><circle cx="862" cy="1447.5"/><circle cx="907.9" cy="1344.4"/><circle cx="861.6" cy="1384.1"/><circle cx="874.7" cy="1246.2"/><circle cx="838.7" cy="1451.9"/><circle cx="846.9" cy="1455.6"/><circle cx="847.6" cy="1301.4"/><circle cx="904.8" cy="1436.8"/><circle cx="908.9" cy="1430.9"/><circle cx="882" cy="1448.7"/><circle cx="881.2" cy="1418.1"/><circle cx="891.4" cy="1441.1"/><circle cx="867.2" cy="1455.1"/><circle cx="904.3" cy="1222.7"/><circle cx="851.5" cy="1447.6"/><circle cx="902.7" cy="1428.2"/><circle cx="835.4" cy="1441.7"/><circle cx="878.3" cy="1336.9"/><circle cx="880.4" cy="1359.8"/><circle cx="891.1" cy="1270.1"/><circle cx="847.6" cy="1420.2"/><circle cx="859.7" cy="1356.8"/><circle cx="903.3" cy="1343.7"/><circle cx="848.8" cy="1328.6"/><circle cx="856.2" cy="1445.9"/><circle cx="877.4" cy="1419"/><circle cx="908.4" cy="1392.4"/><circle cx="858.8" cy="1432.8"/><circle cx="846.9" cy="1357.9"/><circle cx="843.2" cy="1395.7"/><circle cx="908.4" cy="1348.1"/><circle cx="853.1" cy="1377.5"/><circle cx="889.9" cy="1423.1"/><circle cx="839.3" cy="1449.7"/><circle cx="866.2" cy="1437.8"/><circle cx="877.9" cy="1418.6"/><circle cx="889.3" cy="1225.4"/><circle cx="881.7" cy="1441"/><circle cx="865.8" cy="1340.9"/><circle cx="846.4" cy="1436.5"/><circle cx="865.2" cy="1403.6"/><circle cx="868.9" cy="1294.8"/><circle cx="857.7" cy="1422.1"/><circle cx="844.8" cy="1439.8"/><circle cx="900.6" cy="1432.5"/><circle cx="848.5" cy="1377.2"/><circle cx="862.4" cy="1390"/><circle cx="868.7" cy="1397.1"/><circle cx="846.4" cy="1440.5"/><circle cx="892.9" cy="1374.1"/><circle cx="846" cy="1329.2"/><circle cx="896.6" cy="1421.1"/><circle cx="835.9" cy="1435.1"/><circle cx="835.7" cy="1400.3"/><circle cx="872.9" cy="1357"/><circle cx="874.3" cy="1421.7"/><circle cx="868.5" cy="1408.2"/><circle cx="903.1" cy="1376.9"/><circle cx="890.5" cy="1272.7"/><circle cx="896.1" cy="1453.2"/><circle cx="892.6" cy="1386.8"/><circle cx="895.8" cy="1454.7"/><circle cx="894.7" cy="1435.5"/><circle cx="901" cy="1388.1"/><circle cx="891" cy="1444.1"/><circle cx="847.6" cy="1390.7"/><circle cx="872.7" cy="1359.1"/><circle cx="886.9" cy="1388"/><circle cx="872.3" cy="1337.1"/><circle cx="872.2" cy="1399.9"/><circle cx="858.1" cy="1417.8"/><circle cx="846.8" cy="1179.4"/><circle cx="901.9" cy="1430.2"/><circle cx="861.4" cy="1444.4"/><circle cx="835.8" cy="1418.7"/><circle cx="860.9" cy="1403.9"/><circle cx="909.2" cy="1428.6"/><circle cx="835.3" cy="1224.3"/><circle cx="908.4" cy="1430.8"/><circle cx="848.2" cy="1443"/><circle cx="836.5" cy="1412.3"/><circle cx="908.8" cy="1439.6"/><circle cx="853.5" cy="1396.9"/><circle cx="907.3" cy="1433.9"/><circle cx="853.4" cy="1428.3"/><circle cx="860.6" cy="1387.2"/><circle cx="907.9" cy="1388.4"/><circle cx="853.3" cy="1456.2"/><circle cx="895.7" cy="1407.4"/><circle cx="897.1" cy="1407.2"/><circle cx="863.9" cy="1428.8"/><circle cx="843" cy="1428"/><circle cx="894.8" cy="1400.6"/><circle cx="845.7" cy="1359.4"/><circle cx="861.7" cy="1360.1"/><circle cx="849.1" cy="1325.3"/><circle cx="901.7" cy="1412.9"/><circle cx="855" cy="1436.4"/>
</g>
<path d="M676.1 1277.7V1089.8M676.1 1429V1474.7" stroke="#dc2626" stroke-width="1.5" fill="none" opacity="0.92"/>
<rect x="602.8" y="1277.7" width="146.6" height="151.3" stroke="#dc2626" stroke-width="1.4" fill="none" opacity="0.88"/>
<line x1="602.8" y1="1385.7" x2="749.4" y2="1385.7" stroke="#dc2626" stroke-width="2.8" opacity="0.92"/>
<path d="M871.6 1376.6V1296M871.6 1437V1458.8" stroke="#dc2626" stroke-width="1.5" fill="none" opacity="0.92"/>
<rect x="798.3" y="1376.6" width="146.6" height="60.4" stroke="#dc2626" stroke-width="1.4" fill="none" opacity="0.88"/>
<line x1="798.3" y1="1418.3" x2="944.9" y2="1418.3" stroke="#dc2626" stroke-width="2.8" opacity="0.92"/>
<g class="op" fill="#dc2626"><circle cx="871.6" cy="1276.1"/><circle cx="871.6" cy="1272.9"/><circle cx="871.6" cy="1270.1"/><circle cx="871.6" cy="1265"/><circle cx="871.6" cy="1263.4"/><circle cx="871.6" cy="1256.2"/><circle cx="871.6" cy="1253.9"/><circle cx="871.6" cy="1250.3"/><circle cx="871.6" cy="1246.3"/><circle cx="871.6" cy="1238"/><circle cx="871.6" cy="1235.2"/><circle cx="871.6" cy="1232.4"/><circle cx="871.6" cy="1228.4"/><circle cx="871.6" cy="1225.7"/><circle cx="871.6" cy="1223.3"/><circle cx="871.6" cy="1219.7"/><circle cx="871.6" cy="1216.5"/><circle cx="871.6" cy="1172.8"/><circle cx="871.6" cy="1170.8"/><circle cx="871.6" cy="1164.9"/><circle cx="871.6" cy="1163.3"/><circle cx="871.6" cy="1158.9"/></g>
</g>
<line x1="695.8" y1="1097.1" x2="852" y2="1097.1" stroke="#767676" stroke-width="2"/>
<text class="pl m" x="776.2" y="1089.9"><tspan font-style="italic">P</tspan> = 7.899×10–8</text>
<path d="M559.8 1493.7V1066.7H989.2" stroke="#a6a6a6" stroke-width="1.4" fill="none"/>
<path d="M559.1 1493.7H989.2V1066" stroke="#717171" stroke-width="1.6" fill="none"/>
<path d="M559.8 1474.7h-4M559.8 1375.4h-4M559.8 1276.1h-4M559.8 1176.8h-4M559.8 1077.5h-4M676.1 1493.7v4.2M871.6 1493.7v4.2" stroke="#333" stroke-width="1.2" fill="none"/>
<text class="tk e" style="font-size:13.7px" x="550" y="1479.5">0</text>
<text class="tk e" style="font-size:13.7px" x="550" y="1380.2">25</text>
<text class="tk e" style="font-size:13.7px" x="550" y="1280.9">50</text>
<text class="tk e" style="font-size:13.7px" x="550" y="1181.6">75</text>
<text class="tk e" style="font-size:13.7px" x="550" y="1082.3">100</text>
<text class="ax m" x="676.1" y="1515.2">GUARD RNAs</text>
<text class="ax m" x="871.6" y="1515.2">NT controls</text>
<text class="tt" x="562" y="1054.9">BE: Off-target Base Editing</text>
<text class="ax m" transform="translate(522.4 1275.6) rotate(-90)">BE (%)</text>
</g>
<g id="panel-d1">
<rect x="1101" y="1067.6" width="434.6" height="427" fill="#fff"/>
<path d="M1101 1426.7H1535.6M1101 1329.4H1535.6M1101 1232.2H1535.6M1101 1134.9H1535.6" stroke="#efefef" stroke-width="0.8" fill="none"/>
<path d="M1101 1475.3H1535.6M1101 1378H1535.6M1101 1280.8H1535.6M1101 1183.5H1535.6M1101 1086.3H1535.6M1219.1 1067.6V1494.6M1416.9 1067.6V1494.6" stroke="#e9e9e9" stroke-width="1.2" fill="none"/>
<clipPath id="cld1"><rect x="1101" y="1067.6" width="434.6" height="427"/></clipPath>
<g clip-path="url(#cld1)">
<g class="jp" fill="#000" fill-opacity="0.105" stroke="#000" stroke-opacity="0.13" stroke-width="0.45">
<circle cx="1183.2" cy="1395.5"/><circle cx="1225.8" cy="1356.1"/><circle cx="1215.1" cy="1454.4"/><circle cx="1197.4" cy="1389.1"/><circle cx="1235.6" cy="1341.6"/><circle cx="1255.3" cy="1423.7"/><circle cx="1252.8" cy="1439.7"/><circle cx="1199.1" cy="1438.7"/><circle cx="1210.4" cy="1392.3"/><circle cx="1237.7" cy="1444.8"/><circle cx="1182.8" cy="1427.8"/><circle cx="1243.4" cy="1366.5"/><circle cx="1230.8" cy="1335.6"/><circle cx="1204.6" cy="1339.9"/><circle cx="1247.6" cy="1361"/><circle cx="1216.5" cy="1464.9"/><circle cx="1199.3" cy="1355.5"/><circle cx="1242.6" cy="1459.4"/><circle cx="1250.5" cy="1176.8"/><circle cx="1252.7" cy="1452.1"/><circle cx="1233.2" cy="1368.9"/><circle cx="1218.5" cy="1336.9"/><circle cx="1247.1" cy="1338.7"/><circle cx="1256.1" cy="1358.1"/><circle cx="1189.1" cy="1465.2"/><circle cx="1215.7" cy="1382.8"/><circle cx="1211.9" cy="1236.9"/><circle cx="1194.4" cy="1420"/><circle cx="1194.8" cy="1421.4"/><circle cx="1245.7" cy="1172.8"/><circle cx="1244.4" cy="1453.9"/><circle cx="1242.1" cy="1464.5"/><circle cx="1185.9" cy="1410.9"/><circle cx="1230.6" cy="1255.4"/><circle cx="1215.6" cy="1347.8"/><circle cx="1231.7" cy="1475.3"/><circle cx="1207.1" cy="1412.4"/><circle cx="1203.7" cy="1306.2"/><circle cx="1251.3" cy="1337.8"/><circle cx="1229" cy="1464.3"/><circle cx="1219.9" cy="1335.2"/><circle cx="1203.7" cy="1358.1"/><circle cx="1214.6" cy="1450.8"/><circle cx="1245.5" cy="1412.1"/><circle cx="1188.9" cy="1366.8"/><circle cx="1231.9" cy="1399"/><circle cx="1230.7" cy="1358.5"/><circle cx="1205.6" cy="1385.1"/><circle cx="1252.3" cy="1202.1"/><circle cx="1224" cy="1355.9"/><circle cx="1245" cy="1464.5"/><circle cx="1187.7" cy="1471.2"/><circle cx="1199.5" cy="1325.6"/><circle cx="1212.4" cy="1466"/><circle cx="1206.4" cy="1113.9"/><circle cx="1223.4" cy="1359.5"/><circle cx="1191.4" cy="1377"/><circle cx="1215.1" cy="1328.2"/><circle cx="1232.9" cy="1447.3"/><circle cx="1200.1" cy="1471.2"/><circle cx="1207.3" cy="1354.4"/><circle cx="1201" cy="1445.5"/><circle cx="1252.2" cy="1341.1"/><circle cx="1188.6" cy="1352.6"/><circle cx="1195.6" cy="1355.2"/><circle cx="1247.5" cy="1252.3"/><circle cx="1209.6" cy="1463.6"/><circle cx="1238" cy="1461.9"/><circle cx="1187.4" cy="1404.7"/><circle cx="1192.1" cy="1462.9"/><circle cx="1226.9" cy="1409.9"/><circle cx="1193.9" cy="1453.6"/><circle cx="1208.9" cy="1207.7"/><circle cx="1228.4" cy="1282.5"/><circle cx="1193.9" cy="1117.7"/><circle cx="1186.3" cy="1457.2"/><circle cx="1210.9" cy="1401.3"/><circle cx="1232.3" cy="1374.3"/><circle cx="1242.3" cy="1471.6"/><circle cx="1224.2" cy="1456.9"/><circle cx="1205.7" cy="1238"/><circle cx="1251.2" cy="1455.5"/><circle cx="1239.3" cy="1416.5"/><circle cx="1238.8" cy="1411.1"/><circle cx="1231.2" cy="1466.2"/><circle cx="1221.3" cy="1163.1"/><circle cx="1197.2" cy="1427.8"/><circle cx="1224.2" cy="1458.9"/><circle cx="1182.1" cy="1462.8"/><circle cx="1253.1" cy="1463.1"/><circle cx="1221" cy="1298.6"/><circle cx="1217.5" cy="1435.5"/><circle cx="1253" cy="1381.6"/><circle cx="1245.9" cy="1439.1"/><circle cx="1203.6" cy="1475.3"/><circle cx="1251.9" cy="1406.4"/><circle cx="1250.2" cy="1417.6"/><circle cx="1213.8" cy="1250.2"/><circle cx="1223.5" cy="1310.1"/><circle cx="1230.6" cy="1458.4"/><circle cx="1211.9" cy="1418.1"/><circle cx="1231.4" cy="1280.7"/><circle cx="1228.3" cy="1458.2"/><circle cx="1219.1" cy="1420.8"/><circle cx="1183.5" cy="1465.8"/><circle cx="1201.3" cy="1421.5"/><circle cx="1209.9" cy="1475.3"/><circle cx="1235.3" cy="1462.4"/><circle cx="1208.7" cy="1379.9"/><circle cx="1200.5" cy="1464.4"/><circle cx="1184.5" cy="1412.1"/><circle cx="1234.8" cy="1349.6"/><circle cx="1209.3" cy="1337.7"/><circle cx="1221" cy="1423.4"/><circle cx="1247.6" cy="1462.6"/><circle cx="1199.9" cy="1397.2"/><circle cx="1202.5" cy="1413.5"/><circle cx="1228.4" cy="1472.5"/><circle cx="1243.9" cy="1320.7"/><circle cx="1195" cy="1284.9"/><circle cx="1212.9" cy="1341.1"/><circle cx="1197" cy="1475.3"/><circle cx="1190.4" cy="1417.7"/><circle cx="1233.7" cy="1239.7"/><circle cx="1212.4" cy="1381.3"/><circle cx="1244.9" cy="1366.6"/><circle cx="1182.5" cy="1204.8"/><circle cx="1198.6" cy="1440.6"/><circle cx="1185.5" cy="1462.3"/><circle cx="1182.9" cy="1329"/><circle cx="1221.4" cy="1374.1"/><circle cx="1205.8" cy="1440.2"/><circle cx="1232.6" cy="1196.4"/><circle cx="1195.9" cy="1326"/><circle cx="1191.2" cy="1472.9"/><circle cx="1236.8" cy="1409.2"/><circle cx="1185.3" cy="1475.3"/><circle cx="1185.3" cy="1344.4"/><circle cx="1251.8" cy="1457.8"/><circle cx="1248.6" cy="1464.2"/><circle cx="1252.5" cy="1475.3"/><circle cx="1223.3" cy="1425"/><circle cx="1237.2" cy="1427.3"/><circle cx="1245" cy="1311.1"/><circle cx="1215.6" cy="1365.1"/><circle cx="1215.9" cy="1454.4"/><circle cx="1206.6" cy="1413.7"/><circle cx="1183.8" cy="1420.3"/><circle cx="1233" cy="1473.8"/><circle cx="1236.6" cy="1467.5"/><circle cx="1233.5" cy="1464"/><circle cx="1228.1" cy="1362.4"/><circle cx="1205.7" cy="1435.3"/><circle cx="1232.8" cy="1475.3"/><circle cx="1210.5" cy="1450.2"/><circle cx="1229.9" cy="1278.5"/><circle cx="1200.4" cy="1411.6"/><circle cx="1230.5" cy="1312.3"/><circle cx="1194.4" cy="1415"/><circle cx="1243.2" cy="1443.5"/><circle cx="1223" cy="1416.7"/><circle cx="1201" cy="1437.4"/><circle cx="1207.3" cy="1472.9"/><circle cx="1192.6" cy="1445.8"/><circle cx="1237.6" cy="1470"/><circle cx="1253.5" cy="1466.8"/><circle cx="1190.3" cy="1466.5"/><circle cx="1186.8" cy="1434.6"/><circle cx="1214.1" cy="1393.2"/><circle cx="1254.7" cy="1389.9"/><circle cx="1197" cy="1367.7"/><circle cx="1196.8" cy="1461.4"/><circle cx="1211.6" cy="1449.6"/><circle cx="1206.7" cy="1465.9"/><circle cx="1224.7" cy="1463.7"/><circle cx="1189.6" cy="1369.1"/><circle cx="1188.2" cy="1412"/><circle cx="1218.5" cy="1469.8"/><circle cx="1252.9" cy="1229.4"/><circle cx="1196.2" cy="1408.9"/><circle cx="1198.6" cy="1391.9"/><circle cx="1198.4" cy="1330.8"/><circle cx="1187.8" cy="1446.6"/><circle cx="1188.8" cy="1431.6"/><circle cx="1205.4" cy="1464.7"/><circle cx="1203" cy="1087.9"/><circle cx="1225.7" cy="1432.7"/><circle cx="1193.7" cy="1174.8"/><circle cx="1250" cy="1475.3"/><circle cx="1224.3" cy="1428.3"/><circle cx="1242" cy="1380.3"/><circle cx="1191" cy="1457.8"/><circle cx="1243" cy="1414.6"/><circle cx="1212.1" cy="1444.9"/><circle cx="1247.7" cy="1357"/><circle cx="1203.5" cy="1456.9"/><circle cx="1211.6" cy="1460"/><circle cx="1225.9" cy="1475.2"/><circle cx="1199.7" cy="1383.4"/><circle cx="1219.3" cy="1448.8"/><circle cx="1206.1" cy="1452.3"/><circle cx="1191" cy="1420"/><circle cx="1183.6" cy="1389.4"/><circle cx="1243.5" cy="1329.9"/><circle cx="1202.8" cy="1460.9"/><circle cx="1239" cy="1412.3"/><circle cx="1207.8" cy="1444.4"/><circle cx="1203" cy="1393.8"/><circle cx="1206.3" cy="1421.1"/><circle cx="1208.1" cy="1331.7"/><circle cx="1190.3" cy="1338.3"/><circle cx="1243.5" cy="1429.6"/><circle cx="1213.4" cy="1454"/><circle cx="1195.9" cy="1369.6"/><circle cx="1217.3" cy="1475.3"/><circle cx="1237.9" cy="1411.2"/><circle cx="1193.6" cy="1457"/><circle cx="1239.1" cy="1471.3"/><circle cx="1242.8" cy="1432.8"/><circle cx="1192.8" cy="1468.6"/><circle cx="1208.9" cy="1421.8"/><circle cx="1234.4" cy="1379.3"/><circle cx="1206.9" cy="1467.2"/><circle cx="1231.2" cy="1358"/><circle cx="1201.2" cy="1453.9"/><circle cx="1205.8" cy="1459.7"/><circle cx="1187" cy="1440.7"/><circle cx="1203.5" cy="1075.5"/><circle cx="1187.9" cy="1447.4"/><circle cx="1201.2" cy="1473"/><circle cx="1195" cy="1468.1"/><circle cx="1209.6" cy="1419.7"/><circle cx="1253.4" cy="1473.4"/><circle cx="1250.7" cy="1351.2"/><circle cx="1244.6" cy="1379.6"/><circle cx="1241.8" cy="1427"/><circle cx="1249.7" cy="1464.2"/><circle cx="1219" cy="1435.2"/><circle cx="1240.6" cy="1457.1"/><circle cx="1227.5" cy="1330.6"/><circle cx="1191.6" cy="1397.7"/><circle cx="1207.6" cy="1438.4"/><circle cx="1195.6" cy="1257.8"/><circle cx="1239.2" cy="1346.7"/><circle cx="1242" cy="1068.6"/><circle cx="1181.5" cy="1385.6"/><circle cx="1251" cy="1234.3"/><circle cx="1251.5" cy="1460.1"/><circle cx="1237.7" cy="1370.3"/><circle cx="1256" cy="1175.1"/><circle cx="1202" cy="1269.1"/><circle cx="1190.9" cy="1334.5"/><circle cx="1244.2" cy="1418.5"/><circle cx="1242.8" cy="1126.4"/><circle cx="1201.5" cy="1412.8"/><circle cx="1226.6" cy="1448.7"/><circle cx="1188.4" cy="1421.3"/><circle cx="1192.5" cy="1237.5"/><circle cx="1254.6" cy="1469.5"/><circle cx="1247.2" cy="1474.4"/><circle cx="1194.5" cy="1470.6"/><circle cx="1230.6" cy="1465.5"/><circle cx="1235" cy="1458.1"/><circle cx="1221.4" cy="1465.2"/><circle cx="1219.2" cy="1473.9"/><circle cx="1232.7" cy="1453.2"/><circle cx="1183.4" cy="1378"/><circle cx="1254.1" cy="1333.5"/><circle cx="1227.4" cy="1416"/><circle cx="1202.6" cy="1472.1"/><circle cx="1202" cy="1082.1"/><circle cx="1227.9" cy="1471.7"/><circle cx="1195.9" cy="1379.2"/><circle cx="1234.2" cy="1460.2"/><circle cx="1187.9" cy="1341.8"/><circle cx="1210.5" cy="1332.3"/><circle cx="1202.7" cy="1250.4"/><circle cx="1181.6" cy="1448.6"/><circle cx="1233.9" cy="1463.6"/><circle cx="1248.4" cy="1318.4"/><circle cx="1210.7" cy="1475.3"/><circle cx="1199.5" cy="1419.4"/><circle cx="1230.9" cy="1423.5"/><circle cx="1189.9" cy="1475.3"/><circle cx="1219.5" cy="1465.9"/><circle cx="1232.7" cy="1380.7"/><circle cx="1204.5" cy="1146.5"/><circle cx="1221.1" cy="1467.8"/><circle cx="1224.1" cy="1333.6"/><circle cx="1228.2" cy="1244.6"/><circle cx="1241" cy="1456.9"/><circle cx="1213.9" cy="1439.7"/><circle cx="1213.9" cy="1424.3"/><circle cx="1251.3" cy="1435.5"/><circle cx="1232.7" cy="1068"/><circle cx="1209.6" cy="1411.8"/><circle cx="1243.2" cy="1380"/><circle cx="1202.1" cy="1360.3"/><circle cx="1212.8" cy="1335.4"/><circle cx="1203.2" cy="1441.3"/><circle cx="1212.1" cy="1434.5"/><circle cx="1191.9" cy="1466.1"/><circle cx="1224.6" cy="1475.3"/><circle cx="1192" cy="1419.7"/><circle cx="1238.8" cy="1454.2"/><circle cx="1249" cy="1370.2"/><circle cx="1210.2" cy="1347.7"/><circle cx="1201.9" cy="1400.1"/><circle cx="1231.5" cy="1475.3"/><circle cx="1239.3" cy="1369.9"/><circle cx="1192.2" cy="1362.5"/><circle cx="1215.7" cy="1443.7"/><circle cx="1238.6" cy="1461.7"/><circle cx="1234" cy="1438.9"/><circle cx="1189.6" cy="1293.4"/><circle cx="1224.7" cy="1444.4"/><circle cx="1251.9" cy="1274.5"/><circle cx="1246.1" cy="1436.2"/><circle cx="1199.3" cy="1264.9"/><circle cx="1244.8" cy="1376.3"/><circle cx="1251.8" cy="1458.6"/><circle cx="1246.9" cy="1305.6"/><circle cx="1190.5" cy="1420.5"/><circle cx="1214.2" cy="1460.1"/><circle cx="1231" cy="1463"/><circle cx="1246.9" cy="1457.1"/><circle cx="1244" cy="1353.9"/><circle cx="1212.6" cy="1475.3"/><circle cx="1208.2" cy="1447"/><circle cx="1234.2" cy="1440.4"/><circle cx="1202.2" cy="1466.3"/><circle cx="1213.1" cy="1401.7"/><circle cx="1245.7" cy="1467.1"/><circle cx="1202.6" cy="1445.1"/><circle cx="1185.7" cy="1405.4"/><circle cx="1187.9" cy="1445.9"/><circle cx="1208.8" cy="1475.3"/><circle cx="1232.6" cy="1475.2"/><circle cx="1198.2" cy="1334.9"/><circle cx="1253.9" cy="1260"/><circle cx="1226.5" cy="1413.5"/><circle cx="1187.3" cy="1459.6"/><circle cx="1199.1" cy="1458.8"/><circle cx="1189.9" cy="1342.2"/><circle cx="1381" cy="1475.3"/><circle cx="1397.9" cy="1150.8"/><circle cx="1381.3" cy="1475.3"/><circle cx="1394.4" cy="1408.3"/><circle cx="1416.1" cy="1464.6"/><circle cx="1441.8" cy="1442.2"/><circle cx="1413.7" cy="1429.2"/><circle cx="1421.1" cy="1454.4"/><circle cx="1387.9" cy="1470.3"/><circle cx="1428.2" cy="1397.4"/><circle cx="1415.5" cy="1427.6"/><circle cx="1450" cy="1468.6"/><circle cx="1410.7" cy="1424.6"/><circle cx="1448.8" cy="1286.6"/><circle cx="1395" cy="1475.3"/><circle cx="1437.2" cy="1461.9"/><circle cx="1452" cy="1466.6"/><circle cx="1392.2" cy="1330.3"/><circle cx="1425.8" cy="1463"/><circle cx="1449.3" cy="1067.1"/><circle cx="1416.8" cy="1457.2"/><circle cx="1453.3" cy="1469.6"/><circle cx="1447.5" cy="1392.5"/><circle cx="1401.5" cy="1474.1"/><circle cx="1415.9" cy="1468.1"/><circle cx="1403.7" cy="1403.6"/><circle cx="1440" cy="1352.3"/><circle cx="1383.3" cy="1430.2"/><circle cx="1431.1" cy="1255.2"/><circle cx="1379.5" cy="1464.1"/><circle cx="1383.4" cy="1293.6"/><circle cx="1437.9" cy="1437"/><circle cx="1395.3" cy="1164.8"/><circle cx="1422.2" cy="1466.1"/><circle cx="1448" cy="1418.9"/><circle cx="1392.5" cy="1469.1"/><circle cx="1408.9" cy="1464.1"/><circle cx="1437.8" cy="1447.6"/><circle cx="1425.6" cy="1414.3"/><circle cx="1426.4" cy="1411.1"/><circle cx="1393.7" cy="1459.2"/><circle cx="1418.8" cy="1452.8"/><circle cx="1418.9" cy="1473.5"/><circle cx="1427.4" cy="1442.6"/><circle cx="1431.9" cy="1201.9"/><circle cx="1406.8" cy="1371.7"/><circle cx="1418.1" cy="1406.3"/><circle cx="1406.1" cy="1465"/><circle cx="1400" cy="1458.4"/><circle cx="1446.1" cy="1409.6"/><circle cx="1405.1" cy="1454.5"/><circle cx="1394.7" cy="1276.1"/><circle cx="1424.2" cy="1342.9"/><circle cx="1435.2" cy="1459.9"/><circle cx="1431.8" cy="1442"/><circle cx="1415.1" cy="1212.7"/><circle cx="1453.7" cy="1455.2"/><circle cx="1435.2" cy="1440.5"/><circle cx="1388.4" cy="1429.9"/><circle cx="1417" cy="1332.5"/><circle cx="1379.7" cy="1468.8"/><circle cx="1383.9" cy="1391.8"/><circle cx="1447.1" cy="1398.3"/><circle cx="1435.1" cy="1464.2"/><circle cx="1382.1" cy="1464.1"/><circle cx="1385.5" cy="1475.3"/><circle cx="1387.2" cy="1445.8"/><circle cx="1442.7" cy="1385.1"/><circle cx="1415.3" cy="1470.4"/><circle cx="1442.1" cy="1426.3"/><circle cx="1424.6" cy="1463.8"/><circle cx="1437.1" cy="1272.2"/><circle cx="1389.1" cy="1470.7"/><circle cx="1433.5" cy="1474.9"/><circle cx="1401.5" cy="1377.2"/><circle cx="1427.2" cy="1447.5"/><circle cx="1404" cy="1443.7"/><circle cx="1439.6" cy="1305.7"/><circle cx="1384.9" cy="1433.8"/><circle cx="1390.8" cy="1432.7"/><circle cx="1400.7" cy="1443.6"/><circle cx="1395.1" cy="1366.5"/><circle cx="1441.8" cy="1473.1"/><circle cx="1445.4" cy="1282"/><circle cx="1441.7" cy="1379"/><circle cx="1412.2" cy="1355.6"/><circle cx="1426.9" cy="1468.5"/><circle cx="1422.3" cy="1360.6"/><circle cx="1427.6" cy="1426.5"/><circle cx="1425.5" cy="1360.6"/><circle cx="1448.8" cy="1423.3"/><circle cx="1381.6" cy="1283.5"/><circle cx="1435.8" cy="1408.5"/><circle cx="1438.5" cy="1425"/><circle cx="1404.6" cy="1448.3"/><circle cx="1394.9" cy="1144.4"/><circle cx="1417.4" cy="1463"/><circle cx="1396.3" cy="1330.1"/><circle cx="1423.6" cy="1415.7"/><circle cx="1431.3" cy="1472.1"/><circle cx="1381.1" cy="1453.8"/><circle cx="1388.3" cy="1405"/><circle cx="1415" cy="1461.3"/><circle cx="1410.7" cy="1365.3"/><circle cx="1453.1" cy="1432.2"/><circle cx="1439.3" cy="1408.2"/><circle cx="1448" cy="1463.8"/><circle cx="1399.4" cy="1473.3"/><circle cx="1445.1" cy="1377.5"/><circle cx="1423.9" cy="1431.8"/><circle cx="1417.1" cy="1456.5"/><circle cx="1398.2" cy="1471.9"/><circle cx="1419.1" cy="1412.9"/><circle cx="1444.5" cy="1317.5"/><circle cx="1441.1" cy="1444.8"/><circle cx="1424.8" cy="1456.6"/><circle cx="1386.5" cy="1459.6"/><circle cx="1410.9" cy="1373.3"/><circle cx="1446.2" cy="1420.8"/><circle cx="1449.9" cy="1351.1"/><circle cx="1415.2" cy="1420.5"/><circle cx="1434.4" cy="1324.9"/><circle cx="1431.4" cy="1377.5"/><circle cx="1380.1" cy="1348.6"/><circle cx="1411.9" cy="1449.5"/><circle cx="1422.4" cy="1364.9"/><circle cx="1453.3" cy="1464.6"/><circle cx="1440.8" cy="1472.3"/><circle cx="1397.2" cy="1431.3"/><circle cx="1401.5" cy="1335.4"/><circle cx="1416" cy="1460.6"/><circle cx="1406.8" cy="1435.1"/><circle cx="1421.9" cy="1377.7"/><circle cx="1382.8" cy="1121.6"/><circle cx="1411.5" cy="1296.7"/><circle cx="1384.6" cy="1381.8"/><circle cx="1380.4" cy="1455.7"/><circle cx="1443.4" cy="1475.3"/><circle cx="1383.8" cy="1408.2"/><circle cx="1428.7" cy="1401.8"/><circle cx="1437.4" cy="1399.3"/><circle cx="1385.4" cy="1442.8"/><circle cx="1385.1" cy="1463.6"/><circle cx="1445.2" cy="1373.6"/><circle cx="1415.2" cy="1369.1"/><circle cx="1390.5" cy="1473.7"/><circle cx="1453" cy="1421.5"/><circle cx="1425.5" cy="1421"/><circle cx="1445.9" cy="1470.3"/><circle cx="1386.6" cy="1461"/><circle cx="1423.2" cy="1464.9"/><circle cx="1436.3" cy="1392.9"/><circle cx="1412.7" cy="1115.5"/><circle cx="1416.5" cy="1388.8"/><circle cx="1383.1" cy="1450.5"/><circle cx="1395.3" cy="1202.5"/><circle cx="1398.5" cy="1415.2"/><circle cx="1412.5" cy="1271.5"/><circle cx="1380.3" cy="1404.7"/><circle cx="1385.8" cy="1464.7"/><circle cx="1423.6" cy="1439.4"/><circle cx="1453.5" cy="1456.9"/><circle cx="1398.6" cy="1451.8"/><circle cx="1419" cy="1471.6"/><circle cx="1416.7" cy="1326.5"/><circle cx="1437.4" cy="1410.8"/><circle cx="1419.4" cy="1451.2"/><circle cx="1417.7" cy="1361.6"/><circle cx="1382.3" cy="1434.6"/><circle cx="1380.3" cy="1470.5"/><circle cx="1412.7" cy="1291"/><circle cx="1388.5" cy="1285.5"/><circle cx="1403.3" cy="1414"/><circle cx="1390.5" cy="1383.8"/><circle cx="1439" cy="1411.7"/><circle cx="1401.3" cy="1454.5"/><circle cx="1428.1" cy="1471.6"/><circle cx="1423.9" cy="1383"/><circle cx="1431.9" cy="1455.3"/><circle cx="1399.7" cy="1352.3"/><circle cx="1391.4" cy="1452.5"/><circle cx="1444.8" cy="1443.9"/><circle cx="1433.2" cy="1467.9"/><circle cx="1412.7" cy="1457.1"/><circle cx="1381.2" cy="1368.7"/><circle cx="1388.5" cy="1439.5"/><circle cx="1390.3" cy="1127.7"/><circle cx="1381.6" cy="1467.1"/><circle cx="1433.2" cy="1474.2"/><circle cx="1451.6" cy="1295.7"/><circle cx="1409.6" cy="1464.9"/><circle cx="1452.4" cy="1455.1"/><circle cx="1387.6" cy="1462.3"/><circle cx="1405.5" cy="1438.6"/><circle cx="1427.9" cy="1433.1"/><circle cx="1381.4" cy="1358.3"/><circle cx="1446.7" cy="1465"/><circle cx="1454.2" cy="1419.9"/><circle cx="1401.5" cy="1460.7"/><circle cx="1401.5" cy="1460.8"/><circle cx="1426.8" cy="1452.5"/><circle cx="1410.7" cy="1443.9"/><circle cx="1418.5" cy="1360.4"/><circle cx="1444.3" cy="1468.6"/><circle cx="1427.7" cy="1457.4"/><circle cx="1404.1" cy="1475.3"/><circle cx="1444.4" cy="1473.9"/><circle cx="1449.6" cy="1120.6"/><circle cx="1402.4" cy="1474.9"/><circle cx="1385" cy="1444.8"/><circle cx="1438.2" cy="1362.1"/><circle cx="1385.5" cy="1401.2"/><circle cx="1443.9" cy="1459.9"/><circle cx="1404.6" cy="1451"/><circle cx="1429.9" cy="1381.5"/><circle cx="1389.2" cy="1389.9"/><circle cx="1406.3" cy="1272.4"/><circle cx="1390.9" cy="1467.1"/><circle cx="1387.1" cy="1445.4"/><circle cx="1400" cy="1390.3"/><circle cx="1406.9" cy="1469.5"/><circle cx="1380.9" cy="1430"/><circle cx="1427.6" cy="1093.4"/><circle cx="1427.7" cy="1473.7"/><circle cx="1400.9" cy="1243.9"/><circle cx="1411.9" cy="1360"/><circle cx="1399.7" cy="1439.2"/><circle cx="1386.9" cy="1460.9"/><circle cx="1451.1" cy="1314"/><circle cx="1449.5" cy="1447.2"/><circle cx="1413.9" cy="1475.3"/><circle cx="1441" cy="1466.8"/><circle cx="1417.5" cy="1337.3"/><circle cx="1421.4" cy="1471.2"/><circle cx="1421.4" cy="1282.2"/><circle cx="1426.4" cy="1459.2"/><circle cx="1442.5" cy="1468.2"/><circle cx="1388.5" cy="1300.9"/><circle cx="1433.1" cy="1470.8"/><circle cx="1454.5" cy="1461.6"/><circle cx="1405.8" cy="1434.3"/><circle cx="1431.1" cy="1133.2"/><circle cx="1407.1" cy="1435.6"/><circle cx="1423.9" cy="1472.2"/><circle cx="1379.8" cy="1355.9"/><circle cx="1393.5" cy="1464.8"/><circle cx="1416" cy="1268.5"/><circle cx="1450.4" cy="1440.5"/><circle cx="1433.8" cy="1475.3"/><circle cx="1444.2" cy="1387.6"/><circle cx="1446.9" cy="1375.3"/><circle cx="1428.6" cy="1454.4"/><circle cx="1385.5" cy="1363.9"/><circle cx="1384.5" cy="1449.7"/><circle cx="1435.7" cy="1447.5"/><circle cx="1400.9" cy="1475"/><circle cx="1433.1" cy="1470"/><circle cx="1412" cy="1463"/><circle cx="1443.5" cy="1376.5"/><circle cx="1404.8" cy="1425.5"/><circle cx="1386.1" cy="1442.7"/><circle cx="1442.3" cy="1395.4"/><circle cx="1401.9" cy="1451.3"/><circle cx="1409.1" cy="1450.2"/><circle cx="1437.7" cy="1395.6"/><circle cx="1398.1" cy="1350.4"/><circle cx="1450" cy="1353.5"/><circle cx="1381.4" cy="1414.2"/><circle cx="1393.9" cy="1453.8"/><circle cx="1387.1" cy="1352.4"/><circle cx="1437.3" cy="1468.1"/><circle cx="1438.1" cy="1408.4"/><circle cx="1452.9" cy="1470.7"/><circle cx="1424.8" cy="1466.9"/><circle cx="1450.6" cy="1383.6"/><circle cx="1453.5" cy="1372.3"/><circle cx="1423.6" cy="1445.6"/><circle cx="1437.5" cy="1437.4"/><circle cx="1391.6" cy="1284"/><circle cx="1454.5" cy="1313.8"/><circle cx="1416.6" cy="1343.1"/><circle cx="1417" cy="1444.8"/><circle cx="1430.9" cy="1448"/><circle cx="1443.7" cy="1475.3"/><circle cx="1400.1" cy="1469"/><circle cx="1435.9" cy="1475.3"/><circle cx="1441.9" cy="1370.1"/><circle cx="1409.1" cy="1331.1"/><circle cx="1412.3" cy="1459"/><circle cx="1445.7" cy="1448.7"/><circle cx="1404.4" cy="1459.3"/><circle cx="1440" cy="1438"/><circle cx="1446.3" cy="1386.7"/><circle cx="1406.6" cy="1475.3"/><circle cx="1403" cy="1085.3"/><circle cx="1393.3" cy="1403.6"/><circle cx="1394.4" cy="1300.4"/><circle cx="1400.3" cy="1299.2"/><circle cx="1399.5" cy="1461"/><circle cx="1428.3" cy="1448.8"/><circle cx="1400.6" cy="1472.2"/><circle cx="1400.5" cy="1442.1"/><circle cx="1449.4" cy="1437.6"/><circle cx="1453.8" cy="1450.7"/><circle cx="1436.7" cy="1445"/><circle cx="1438.4" cy="1461.8"/><circle cx="1407.4" cy="1271.4"/><circle cx="1405.6" cy="1443.1"/><circle cx="1440.9" cy="1474"/><circle cx="1418.9" cy="1437.5"/><circle cx="1395" cy="1446"/><circle cx="1403.8" cy="1463.4"/><circle cx="1434.1" cy="1365.9"/><circle cx="1408.4" cy="1440.8"/><circle cx="1440.3" cy="1475.3"/><circle cx="1396" cy="1394.3"/><circle cx="1390" cy="1449.3"/><circle cx="1387.3" cy="1472.8"/><circle cx="1393.4" cy="1463.2"/><circle cx="1452.9" cy="1342.5"/><circle cx="1428.4" cy="1462.4"/><circle cx="1411.9" cy="1401.1"/><circle cx="1389.9" cy="1467.8"/><circle cx="1440.3" cy="1172"/><circle cx="1427.4" cy="1444"/><circle cx="1399" cy="1454.2"/><circle cx="1443.1" cy="1365"/><circle cx="1451.7" cy="1398.1"/><circle cx="1423.3" cy="1286.9"/><circle cx="1419.2" cy="1474.8"/><circle cx="1379.8" cy="1462.2"/><circle cx="1401.4" cy="1357.2"/><circle cx="1441.5" cy="1453.2"/><circle cx="1406.4" cy="1453.7"/><circle cx="1428.7" cy="1439.9"/><circle cx="1453.2" cy="1474.8"/><circle cx="1439" cy="1211"/><circle cx="1403.1" cy="1457"/><circle cx="1397.1" cy="1387.1"/><circle cx="1449" cy="1465.7"/><circle cx="1395.1" cy="1468.9"/><circle cx="1433" cy="1474.1"/><circle cx="1427.3" cy="1433"/><circle cx="1421.7" cy="1440.6"/><circle cx="1402.7" cy="1359.6"/><circle cx="1452.7" cy="1438.9"/><circle cx="1437.3" cy="1429.1"/><circle cx="1410.3" cy="1409"/><circle cx="1391.6" cy="1465.7"/><circle cx="1410" cy="1445.1"/><circle cx="1382.6" cy="1249.2"/><circle cx="1397.1" cy="1432.9"/><circle cx="1391" cy="1452.1"/><circle cx="1419.6" cy="1178.5"/><circle cx="1390.1" cy="1416.1"/><circle cx="1386" cy="1472.6"/><circle cx="1384.4" cy="1464.6"/><circle cx="1445.9" cy="1385.6"/><circle cx="1385.2" cy="1467.2"/><circle cx="1451.5" cy="1422.1"/><circle cx="1417.7" cy="1425.5"/><circle cx="1446" cy="1436.5"/><circle cx="1380.9" cy="1293.6"/><circle cx="1436" cy="1423.6"/><circle cx="1419.2" cy="1235.2"/><circle cx="1425.3" cy="1474.5"/><circle cx="1454.6" cy="1215"/><circle cx="1391.3" cy="1464.3"/><circle cx="1402.5" cy="1460.8"/><circle cx="1431" cy="1409.5"/><circle cx="1392.8" cy="1371.6"/><circle cx="1448.6" cy="1464.6"/><circle cx="1391.5" cy="1301"/><circle cx="1408.8" cy="1433.6"/><circle cx="1435.6" cy="1348.9"/><circle cx="1444.6" cy="1447"/><circle cx="1438.6" cy="1447"/><circle cx="1440.9" cy="1420.4"/><circle cx="1409.9" cy="1379.4"/><circle cx="1407.6" cy="1328.6"/><circle cx="1420.4" cy="1449.4"/><circle cx="1392.4" cy="1392.7"/><circle cx="1419.6" cy="1458"/><circle cx="1420.9" cy="1365.4"/><circle cx="1403.3" cy="1442.1"/><circle cx="1386" cy="1356.4"/><circle cx="1406.2" cy="1470.3"/><circle cx="1420" cy="1386.1"/><circle cx="1453.4" cy="1444.6"/><circle cx="1394" cy="1450.7"/><circle cx="1380.7" cy="1461.4"/><circle cx="1401.8" cy="1365.7"/><circle cx="1414.6" cy="1179.5"/><circle cx="1422.9" cy="1437.6"/><circle cx="1404.7" cy="1431.8"/><circle cx="1448.1" cy="1449.7"/><circle cx="1395.4" cy="1282.3"/><circle cx="1398.6" cy="1436.8"/><circle cx="1452.2" cy="1437"/><circle cx="1415.3" cy="1462.7"/><circle cx="1405.7" cy="1454.9"/><circle cx="1383" cy="1443.2"/><circle cx="1408.3" cy="1440.9"/><circle cx="1439.8" cy="1464.3"/><circle cx="1442.4" cy="1446.9"/><circle cx="1450.9" cy="1471.3"/><circle cx="1394.2" cy="1455.3"/><circle cx="1382.1" cy="1380.6"/><circle cx="1384.4" cy="1460.9"/><circle cx="1444.4" cy="1366.2"/><circle cx="1400.9" cy="1460.1"/><circle cx="1401" cy="1458.9"/><circle cx="1387" cy="1472"/><circle cx="1425.4" cy="1448.3"/><circle cx="1452.5" cy="1461.6"/><circle cx="1427.2" cy="1436.5"/><circle cx="1439.8" cy="1211"/><circle cx="1417.9" cy="1443.1"/><circle cx="1448.8" cy="1436.1"/><circle cx="1443.9" cy="1382"/><circle cx="1453.7" cy="1473.8"/><circle cx="1431.8" cy="1362"/><circle cx="1441.9" cy="1401.7"/><circle cx="1446.6" cy="1447.1"/><circle cx="1385.1" cy="1470.4"/><circle cx="1412.2" cy="1474.9"/><circle cx="1452.2" cy="1400.8"/><circle cx="1431.4" cy="1373.8"/><circle cx="1409.3" cy="1465.3"/><circle cx="1446.1" cy="1209.8"/><circle cx="1406.3" cy="1438.4"/><circle cx="1408.8" cy="1449.4"/><circle cx="1419.7" cy="1361.2"/><circle cx="1430.2" cy="1441.6"/><circle cx="1422.2" cy="1464.5"/><circle cx="1404.3" cy="1439.2"/><circle cx="1421.6" cy="1472.7"/><circle cx="1405.8" cy="1452.3"/><circle cx="1429.7" cy="1404"/><circle cx="1421.3" cy="1475.3"/><circle cx="1387.3" cy="1438.5"/><circle cx="1426.8" cy="1433.6"/><circle cx="1450.1" cy="1472.9"/><circle cx="1426.2" cy="1461.4"/><circle cx="1384.7" cy="1472.3"/><circle cx="1420.9" cy="1424.9"/><circle cx="1391.5" cy="1385.7"/><circle cx="1410.7" cy="1475.1"/><circle cx="1391.6" cy="1409.4"/><circle cx="1448.4" cy="1145.9"/><circle cx="1437.5" cy="1472.4"/><circle cx="1422.2" cy="1401.1"/><circle cx="1401.6" cy="1475.3"/><circle cx="1387" cy="1465.8"/><circle cx="1432.7" cy="1122.2"/><circle cx="1397.4" cy="1452.1"/><circle cx="1447.7" cy="1201.8"/><circle cx="1391.4" cy="1458.8"/><circle cx="1454.4" cy="1110.2"/><circle cx="1385.2" cy="1475.2"/><circle cx="1417.7" cy="1071.7"/><circle cx="1401.2" cy="1387.2"/><circle cx="1426.6" cy="1475"/><circle cx="1442.6" cy="1422.5"/><circle cx="1399.2" cy="1170.8"/><circle cx="1384.5" cy="1189.6"/><circle cx="1394.2" cy="1426.4"/><circle cx="1432.7" cy="1468.5"/><circle cx="1401.4" cy="1448.6"/><circle cx="1424.3" cy="1453.5"/><circle cx="1387.5" cy="1391.1"/><circle cx="1399.5" cy="1456.9"/><circle cx="1437.1" cy="1412.8"/><circle cx="1441.9" cy="1452.4"/><circle cx="1420.8" cy="1435.3"/><circle cx="1422.7" cy="1385.5"/><circle cx="1383.4" cy="1276.8"/><circle cx="1423.8" cy="1472.6"/><circle cx="1423.3" cy="1436.8"/><circle cx="1395.8" cy="1450.6"/><circle cx="1433.8" cy="1389.2"/><circle cx="1388.7" cy="1359.9"/><circle cx="1419.3" cy="1362"/><circle cx="1386.2" cy="1464.9"/><circle cx="1443" cy="1465.5"/><circle cx="1409.5" cy="1139.1"/><circle cx="1451.8" cy="1452"/><circle cx="1413.1" cy="1367.3"/><circle cx="1437.6" cy="1474.2"/><circle cx="1417.1" cy="1399.8"/><circle cx="1382.9" cy="1459.9"/><circle cx="1403.2" cy="1376.6"/><circle cx="1423.5" cy="1469.9"/><circle cx="1439" cy="1073"/><circle cx="1384" cy="1370.3"/><circle cx="1417.6" cy="1391.3"/><circle cx="1437.6" cy="1434.4"/><circle cx="1395.6" cy="1300.7"/><circle cx="1405.3" cy="1438.2"/><circle cx="1400.9" cy="1386"/><circle cx="1435.1" cy="1443"/><circle cx="1400.8" cy="1474.4"/><circle cx="1447.7" cy="1435.8"/><circle cx="1441.9" cy="1292.5"/><circle cx="1420.6" cy="1385.3"/><circle cx="1452.9" cy="1469.5"/><circle cx="1403.2" cy="1475.3"/><circle cx="1380.1" cy="1463.8"/><circle cx="1430.5" cy="1390.3"/><circle cx="1440.5" cy="1452.7"/><circle cx="1450.2" cy="1459"/><circle cx="1391.9" cy="1111.4"/><circle cx="1381.8" cy="1474.6"/><circle cx="1423.7" cy="1271.8"/><circle cx="1409.2" cy="1448"/><circle cx="1396.6" cy="1285.4"/><circle cx="1429.6" cy="1454.4"/><circle cx="1418.7" cy="1425.9"/><circle cx="1425.4" cy="1465.9"/><circle cx="1448.8" cy="1455.8"/><circle cx="1444" cy="1383.8"/><circle cx="1392.5" cy="1373.2"/><circle cx="1384" cy="1464.1"/><circle cx="1428" cy="1385.9"/><circle cx="1395" cy="1397.3"/><circle cx="1448.4" cy="1455.5"/><circle cx="1408.6" cy="1372.2"/><circle cx="1434.4" cy="1403.6"/><circle cx="1428.9" cy="1379.6"/><circle cx="1387.6" cy="1237.8"/><circle cx="1435.9" cy="1465.2"/><circle cx="1380.3" cy="1459.1"/><circle cx="1451.4" cy="1466.6"/><circle cx="1415.5" cy="1346"/><circle cx="1414.7" cy="1391"/><circle cx="1454.1" cy="1464.9"/><circle cx="1392.3" cy="1452.8"/><circle cx="1440.1" cy="1466.6"/><circle cx="1445.5" cy="1446.7"/><circle cx="1390.1" cy="1468.9"/><circle cx="1379.4" cy="1474"/><circle cx="1398.7" cy="1471.5"/><circle cx="1382.5" cy="1437.8"/><circle cx="1384.3" cy="1464.6"/><circle cx="1441.6" cy="1471.5"/><circle cx="1381.2" cy="1346.1"/><circle cx="1399.2" cy="1335"/><circle cx="1389.9" cy="1291.6"/><circle cx="1447.7" cy="1381.6"/><circle cx="1444.9" cy="1421.7"/><circle cx="1387.7" cy="1440.9"/><circle cx="1442" cy="1449.7"/><circle cx="1444.7" cy="1474.2"/><circle cx="1398" cy="1362.9"/><circle cx="1394.8" cy="1451.3"/><circle cx="1406.7" cy="1355.5"/><circle cx="1454" cy="1305.1"/><circle cx="1419.9" cy="1429.1"/><circle cx="1409.7" cy="1412.7"/><circle cx="1413.1" cy="1459.5"/><circle cx="1397.6" cy="1402.8"/><circle cx="1432.4" cy="1400"/><circle cx="1423.1" cy="1397.7"/><circle cx="1405.5" cy="1454.4"/><circle cx="1432.4" cy="1436.2"/><circle cx="1438.1" cy="1429.7"/><circle cx="1393.3" cy="1303.4"/><circle cx="1426.2" cy="1471.8"/><circle cx="1435.5" cy="1298.1"/><circle cx="1384.2" cy="1433.1"/><circle cx="1387.2" cy="1384.1"/><circle cx="1437.9" cy="1418"/><circle cx="1436.4" cy="1290"/><circle cx="1395.1" cy="1441.6"/><circle cx="1408.5" cy="1442.8"/><circle cx="1430.6" cy="1475.3"/><circle cx="1438.1" cy="1440"/><circle cx="1394.8" cy="1439.8"/><circle cx="1410.9" cy="1429.3"/><circle cx="1442.3" cy="1464.7"/><circle cx="1404.1" cy="1399"/><circle cx="1434" cy="1395.7"/><circle cx="1392.8" cy="1448.1"/><circle cx="1426.5" cy="1393.7"/><circle cx="1391.2" cy="1458.5"/><circle cx="1388.1" cy="1443.7"/><circle cx="1444" cy="1470.3"/><circle cx="1446.8" cy="1455.5"/><circle cx="1405.4" cy="1443.6"/><circle cx="1406.7" cy="1453.5"/><circle cx="1424.7" cy="1440.9"/><circle cx="1425.8" cy="1454.5"/><circle cx="1423.3" cy="1458.2"/><circle cx="1399.3" cy="1448.7"/><circle cx="1438.7" cy="1375.6"/><circle cx="1402" cy="1391.4"/><circle cx="1450.3" cy="1466.2"/><circle cx="1399.7" cy="1287.7"/><circle cx="1424.8" cy="1470"/><circle cx="1432.4" cy="1460.3"/><circle cx="1396.4" cy="1474.1"/><circle cx="1452" cy="1431.6"/><circle cx="1412.9" cy="1474.5"/><circle cx="1417.8" cy="1471"/><circle cx="1405.6" cy="1383.7"/><circle cx="1409.1" cy="1382.8"/><circle cx="1385.8" cy="1469"/><circle cx="1449.9" cy="1392"/><circle cx="1445.4" cy="1439.4"/><circle cx="1437.2" cy="1125.5"/><circle cx="1454.5" cy="1406.5"/><circle cx="1444.6" cy="1423.2"/><circle cx="1381" cy="1455.9"/><circle cx="1451.5" cy="1436.6"/><circle cx="1438" cy="1324.2"/><circle cx="1419.2" cy="1358.3"/><circle cx="1417" cy="1472.6"/><circle cx="1426.7" cy="1474.5"/><circle cx="1434" cy="1455.6"/><circle cx="1405.8" cy="1471"/><circle cx="1385.1" cy="1473.9"/><circle cx="1409.2" cy="1475.3"/><circle cx="1386.3" cy="1466"/><circle cx="1407.9" cy="1451.5"/><circle cx="1445.1" cy="1147.3"/><circle cx="1439.5" cy="1442.6"/><circle cx="1417.5" cy="1472.3"/><circle cx="1431.4" cy="1440.7"/><circle cx="1411.5" cy="1356.6"/><circle cx="1421.5" cy="1464.8"/><circle cx="1446.1" cy="1457"/><circle cx="1451.3" cy="1449.5"/><circle cx="1400.3" cy="1474.5"/><circle cx="1437.1" cy="1370.2"/><circle cx="1408" cy="1469.2"/><circle cx="1413.3" cy="1461"/><circle cx="1409.4" cy="1437.4"/><circle cx="1391.4" cy="1340.3"/><circle cx="1396.3" cy="1469.8"/><circle cx="1422.5" cy="1429.4"/><circle cx="1391.1" cy="1464.2"/><circle cx="1453.5" cy="1463.5"/><circle cx="1437.9" cy="1419.1"/><circle cx="1436.8" cy="1469.3"/><circle cx="1420.1" cy="1464.5"/><circle cx="1390.2" cy="1103.4"/><circle cx="1392.8" cy="1393.7"/><circle cx="1429.3" cy="1350.5"/><circle cx="1429.6" cy="1475.3"/><circle cx="1409.1" cy="1456"/>
</g>
<path d="M1219.1 1331.4V1146.6M1219.1 1456.4V1475.3" stroke="#dc2626" stroke-width="1.5" fill="none" opacity="0.92"/>
<rect x="1144.7" y="1331.4" width="148.8" height="125.1" stroke="#dc2626" stroke-width="1.4" fill="none" opacity="0.88"/>
<line x1="1144.7" y1="1411.1" x2="1293.5" y2="1411.1" stroke="#dc2626" stroke-width="2.8" opacity="0.92"/>
<g class="op" fill="#dc2626"><circle cx="1219.1" cy="1097.8"/><circle cx="1219.1" cy="1129.4"/><circle cx="1219.1" cy="1111.9"/><circle cx="1219.1" cy="1120.4"/><circle cx="1219.1" cy="1060.6"/><circle cx="1219.1" cy="1075.9"/><circle cx="1219.1" cy="1064.4"/><circle cx="1219.1" cy="1092.6"/><circle cx="1219.1" cy="1135.9"/><circle cx="1219.1" cy="1078.3"/><circle cx="1219.1" cy="1110.5"/><circle cx="1219.1" cy="1086.2"/><circle cx="1219.1" cy="1104.1"/><circle cx="1219.1" cy="1093.2"/><circle cx="1219.1" cy="1127.3"/><circle cx="1219.1" cy="1065.6"/></g>
<path d="M1416.9 1349.8V1187.4M1416.9 1458.8V1475.3" stroke="#dc2626" stroke-width="1.5" fill="none" opacity="0.92"/>
<rect x="1342.5" y="1349.8" width="148.8" height="108.9" stroke="#dc2626" stroke-width="1.4" fill="none" opacity="0.88"/>
<line x1="1342.5" y1="1431.5" x2="1491.3" y2="1431.5" stroke="#dc2626" stroke-width="2.8" opacity="0.92"/>
<g class="op" fill="#dc2626"><circle cx="1416.9" cy="1140.6"/><circle cx="1416.9" cy="1139.3"/><circle cx="1416.9" cy="1156.6"/><circle cx="1416.9" cy="1145.4"/><circle cx="1416.9" cy="1126.3"/><circle cx="1416.9" cy="1143.2"/><circle cx="1416.9" cy="1108.6"/><circle cx="1416.9" cy="1166"/><circle cx="1416.9" cy="1172.3"/><circle cx="1416.9" cy="1105.6"/><circle cx="1416.9" cy="1165.5"/><circle cx="1416.9" cy="1155.4"/><circle cx="1416.9" cy="1116"/><circle cx="1416.9" cy="1180.9"/><circle cx="1416.9" cy="1136.1"/><circle cx="1416.9" cy="1154.1"/><circle cx="1416.9" cy="1097.8"/><circle cx="1416.9" cy="1135.4"/><circle cx="1416.9" cy="1136.5"/><circle cx="1416.9" cy="1124.6"/><circle cx="1416.9" cy="1110.4"/><circle cx="1416.9" cy="1156.9"/><circle cx="1416.9" cy="1057.1"/></g>
</g>
<line x1="1239.1" y1="1097.8" x2="1397.2" y2="1097.8" stroke="#767676" stroke-width="2"/>
<text class="pl m" x="1317.5" y="1090.6"><tspan font-style="italic">P</tspan> = 0.009491</text>
<path d="M1101 1494.6V1067.6H1535.6" stroke="#a6a6a6" stroke-width="1.4" fill="none"/>
<path d="M1100.3 1494.6H1535.6V1066.9" stroke="#717171" stroke-width="1.6" fill="none"/>
<path d="M1101 1475.3h-4M1101 1378h-4M1101 1280.8h-4M1101 1183.5h-4M1101 1086.3h-4M1219.1 1494.6v4.2M1416.9 1494.6v4.2" stroke="#333" stroke-width="1.2" fill="none"/>
<text class="tk e" style="font-size:13.7px" x="1091.2" y="1480.1">0</text>
<text class="tk e" style="font-size:13.7px" x="1091.2" y="1382.8">5</text>
<text class="tk e" style="font-size:13.7px" x="1091.2" y="1285.6">10</text>
<text class="tk e" style="font-size:13.7px" x="1091.2" y="1188.3">15</text>
<text class="tk e" style="font-size:13.7px" x="1091.2" y="1091.1">20</text>
<text class="ax m" x="1219.1" y="1514.4">Opposite strand</text>
<text class="ax m" x="1416.9" y="1514.4">Same strand</text>
<text class="tt" x="1100.6" y="1055.8">Cas9: GUARD RNA strand relative to gRNA</text>
<text class="ax m" transform="translate(1062.6 1281.1) rotate(-90)">Indels (%)</text>
</g>
<g id="panel-d2">
<rect x="1610" y="1067.6" width="428.2" height="427" fill="#fff"/>
<path d="M1610 1425.9H2038.2M1610 1326.7H2038.2M1610 1227.3H2038.2M1610 1128.1H2038.2" stroke="#efefef" stroke-width="0.8" fill="none"/>
<path d="M1610 1475.6H2038.2M1610 1376.3H2038.2M1610 1277H2038.2M1610 1177.7H2038.2M1610 1078.4H2038.2M1725.8 1067.6V1494.6M1921.3 1067.6V1494.6" stroke="#e9e9e9" stroke-width="1.2" fill="none"/>
<clipPath id="cld2"><rect x="1610" y="1067.6" width="428.2" height="427"/></clipPath>
<g clip-path="url(#cld2)">
<g class="jp" fill="#000" fill-opacity="0.105" stroke="#000" stroke-opacity="0.13" stroke-width="0.45">
<circle cx="1697.6" cy="1267.6"/><circle cx="1759.8" cy="1432.8"/><circle cx="1710.1" cy="1440.7"/><circle cx="1741" cy="1452.2"/><circle cx="1760.7" cy="1153.4"/><circle cx="1730.2" cy="1391.6"/><circle cx="1709.6" cy="1378.8"/><circle cx="1762" cy="1358.4"/><circle cx="1707.6" cy="1445.3"/><circle cx="1742.2" cy="1203.8"/><circle cx="1732.6" cy="1112"/><circle cx="1727" cy="1431.3"/><circle cx="1746.8" cy="1431.7"/><circle cx="1757.8" cy="1231.7"/><circle cx="1760" cy="1397.1"/><circle cx="1747" cy="1436.5"/><circle cx="1750.2" cy="1117.2"/><circle cx="1690.3" cy="1245.5"/><circle cx="1716.2" cy="1414.9"/><circle cx="1730.5" cy="1364.8"/><circle cx="1723.9" cy="1338.3"/><circle cx="1758.6" cy="1416.7"/><circle cx="1757.2" cy="1376.5"/><circle cx="1724.4" cy="1414.2"/><circle cx="1757.5" cy="1239.1"/><circle cx="1714.8" cy="1432.5"/><circle cx="1747.9" cy="1405.4"/><circle cx="1698.1" cy="1452.6"/><circle cx="1762.7" cy="1373.1"/><circle cx="1722.2" cy="1452.3"/><circle cx="1761.5" cy="1418.7"/><circle cx="1707.4" cy="1323.2"/><circle cx="1709.1" cy="1387.6"/><circle cx="1709.3" cy="1418.5"/><circle cx="1710.2" cy="1400.7"/><circle cx="1694.8" cy="1445.6"/><circle cx="1747.5" cy="1429.6"/><circle cx="1726.6" cy="1167.3"/><circle cx="1726.9" cy="1442.7"/><circle cx="1708.1" cy="1297.4"/><circle cx="1724.4" cy="1335.4"/><circle cx="1722.8" cy="1363.1"/><circle cx="1689.3" cy="1304.5"/><circle cx="1710.7" cy="1443.6"/><circle cx="1701" cy="1416.6"/><circle cx="1710.6" cy="1418.5"/><circle cx="1720.4" cy="1433.1"/><circle cx="1762.5" cy="1431.8"/><circle cx="1716.3" cy="1423.1"/><circle cx="1755.3" cy="1125.4"/><circle cx="1743.9" cy="1413.7"/><circle cx="1762.5" cy="1291.3"/><circle cx="1749.7" cy="1332.9"/><circle cx="1759.1" cy="1334.8"/><circle cx="1699.2" cy="1400.5"/><circle cx="1747.2" cy="1397.2"/><circle cx="1714.5" cy="1437.9"/><circle cx="1717.7" cy="1199.7"/><circle cx="1696.4" cy="1414.7"/><circle cx="1698.9" cy="1342.5"/><circle cx="1739.3" cy="1214.3"/><circle cx="1704.6" cy="1380.2"/><circle cx="1736.8" cy="1416"/><circle cx="1714.9" cy="1209.3"/><circle cx="1735.9" cy="1447.8"/><circle cx="1735.3" cy="1327"/><circle cx="1704.4" cy="1425.1"/><circle cx="1756.6" cy="1345.7"/><circle cx="1741.8" cy="1433.6"/><circle cx="1730.7" cy="1196.2"/><circle cx="1734.8" cy="1402.6"/><circle cx="1737" cy="1445.8"/><circle cx="1714.8" cy="1279.5"/><circle cx="1734.1" cy="1418.3"/><circle cx="1699.9" cy="1447.9"/><circle cx="1762.6" cy="1239.5"/><circle cx="1740.9" cy="1449.3"/><circle cx="1745.9" cy="1435"/><circle cx="1744.3" cy="1436.7"/><circle cx="1752.2" cy="1410.8"/><circle cx="1723" cy="1114.9"/><circle cx="1707.3" cy="1450.8"/><circle cx="1690.5" cy="1102.9"/><circle cx="1727" cy="1426.7"/><circle cx="1699.8" cy="1409.4"/><circle cx="1723.1" cy="1292.8"/><circle cx="1692.8" cy="1230.7"/><circle cx="1746.6" cy="1444.1"/><circle cx="1715" cy="1348.3"/><circle cx="1711.2" cy="1405.3"/><circle cx="1748.5" cy="1449.4"/><circle cx="1718.1" cy="1092.1"/><circle cx="1723.5" cy="1410.2"/><circle cx="1738.1" cy="1347.2"/><circle cx="1690.6" cy="1333.4"/><circle cx="1711.5" cy="1430.9"/><circle cx="1763.1" cy="1425.7"/><circle cx="1739.8" cy="1412.6"/><circle cx="1697.9" cy="1200.8"/><circle cx="1759.7" cy="1246.2"/><circle cx="1758.2" cy="1358.2"/><circle cx="1737.5" cy="1418.2"/><circle cx="1689.4" cy="1422.2"/><circle cx="1719.5" cy="1416.9"/><circle cx="1717.2" cy="1413.2"/><circle cx="1701.6" cy="1403.7"/><circle cx="1733.7" cy="1411"/><circle cx="1709.8" cy="1418.9"/><circle cx="1738.7" cy="1329.9"/><circle cx="1706.7" cy="1205.5"/><circle cx="1756.8" cy="1209.3"/><circle cx="1708.8" cy="1441.2"/><circle cx="1689.2" cy="1377.9"/><circle cx="1752" cy="1438.9"/><circle cx="1704.9" cy="1205.4"/><circle cx="1691.4" cy="1396.7"/><circle cx="1759.6" cy="1462.2"/><circle cx="1712.5" cy="1270.4"/><circle cx="1741" cy="1353.4"/><circle cx="1696.3" cy="1445.5"/><circle cx="1749.1" cy="1224.1"/><circle cx="1751.6" cy="1452.1"/><circle cx="1709" cy="1189.9"/><circle cx="1706.3" cy="1091.7"/><circle cx="1698.3" cy="1406.2"/><circle cx="1732.3" cy="1372.6"/><circle cx="1719.2" cy="1412.6"/><circle cx="1755.3" cy="1401.9"/><circle cx="1716" cy="1254.4"/><circle cx="1726.3" cy="1292.3"/><circle cx="1717.3" cy="1410"/><circle cx="1708.3" cy="1249"/><circle cx="1692.5" cy="1421.2"/><circle cx="1732.9" cy="1296.6"/><circle cx="1710.1" cy="1421.9"/><circle cx="1756.7" cy="1250.3"/><circle cx="1737.4" cy="1428.1"/><circle cx="1735.8" cy="1395.2"/><circle cx="1753.4" cy="1438"/><circle cx="1702.3" cy="1451.1"/><circle cx="1755.3" cy="1410.1"/><circle cx="1749.6" cy="1449.9"/><circle cx="1702.1" cy="1442.7"/><circle cx="1704.6" cy="1414.3"/><circle cx="1691.5" cy="1319.1"/><circle cx="1721.7" cy="1415.6"/><circle cx="1696.9" cy="1454.6"/><circle cx="1749.5" cy="1408.5"/><circle cx="1709" cy="1408.8"/><circle cx="1705.2" cy="1430"/><circle cx="1757.1" cy="1419.1"/><circle cx="1711.6" cy="1402.3"/><circle cx="1713.4" cy="1395.3"/><circle cx="1730.1" cy="1370.6"/><circle cx="1728.7" cy="1142.9"/><circle cx="1710.7" cy="1140.5"/><circle cx="1734.7" cy="1350.2"/><circle cx="1704.3" cy="1415.4"/><circle cx="1738.7" cy="1461.6"/><circle cx="1711.6" cy="1406.8"/><circle cx="1705.1" cy="1426.8"/><circle cx="1714" cy="1367.1"/><circle cx="1707.9" cy="1434.5"/><circle cx="1748.2" cy="1371.6"/><circle cx="1745.3" cy="1428.3"/><circle cx="1696.5" cy="1439.6"/><circle cx="1755.8" cy="1452.8"/><circle cx="1750" cy="1401.8"/><circle cx="1695.3" cy="1444.6"/><circle cx="1725.4" cy="1436.7"/><circle cx="1727.7" cy="1427.2"/><circle cx="1726.3" cy="1440.8"/><circle cx="1689.6" cy="1462.5"/><circle cx="1757.3" cy="1444.8"/><circle cx="1720.5" cy="1338.2"/><circle cx="1743.1" cy="1409"/><circle cx="1729.6" cy="1352.9"/><circle cx="1757.9" cy="1347.5"/><circle cx="1710.5" cy="1371.6"/><circle cx="1741.1" cy="1381.1"/><circle cx="1712.1" cy="1236.1"/><circle cx="1758.1" cy="1449.8"/><circle cx="1711.1" cy="1422"/><circle cx="1691.3" cy="1465.7"/><circle cx="1724.7" cy="1405.5"/><circle cx="1741.2" cy="1216.6"/><circle cx="1718.9" cy="1393.6"/><circle cx="1744.5" cy="1229.7"/><circle cx="1744.2" cy="1369.1"/><circle cx="1705.1" cy="1453.9"/><circle cx="1718.6" cy="1449.1"/><circle cx="1762.7" cy="1354.1"/><circle cx="1727.1" cy="1133.3"/><circle cx="1754.3" cy="1440.8"/><circle cx="1718.1" cy="1160.6"/><circle cx="1705" cy="1348.2"/><circle cx="1754.5" cy="1443"/><circle cx="1722.4" cy="1424"/><circle cx="1689.2" cy="1236.5"/><circle cx="1741" cy="1222.1"/><circle cx="1728.5" cy="1349"/><circle cx="1750.3" cy="1137.7"/><circle cx="1760.6" cy="1301.1"/><circle cx="1740.1" cy="1157.5"/><circle cx="1697.9" cy="1412.8"/><circle cx="1695.4" cy="1406.7"/><circle cx="1752.6" cy="1420.8"/><circle cx="1743.8" cy="1433.9"/><circle cx="1749.8" cy="1423.3"/><circle cx="1729.2" cy="1442.3"/><circle cx="1732.6" cy="1140.3"/><circle cx="1693.6" cy="1366.8"/><circle cx="1720.2" cy="1133.2"/><circle cx="1730.6" cy="1442.9"/><circle cx="1709.6" cy="1365.5"/><circle cx="1694.1" cy="1405.9"/><circle cx="1754.7" cy="1174"/><circle cx="1699.5" cy="1460.3"/><circle cx="1726.8" cy="1371.2"/><circle cx="1738.7" cy="1392.9"/><circle cx="1725.2" cy="1452.8"/><circle cx="1755.3" cy="1402.6"/><circle cx="1705.8" cy="1425.1"/><circle cx="1755.6" cy="1424.6"/><circle cx="1753.2" cy="1454.4"/><circle cx="1729.2" cy="1255.5"/><circle cx="1719.6" cy="1436.4"/><circle cx="1753" cy="1174.8"/><circle cx="1725" cy="1443"/><circle cx="1760.6" cy="1206.2"/><circle cx="1699.3" cy="1125.9"/><circle cx="1695.5" cy="1401.2"/><circle cx="1701.1" cy="1225"/><circle cx="1751.4" cy="1428.9"/><circle cx="1720.8" cy="1442.9"/><circle cx="1723.4" cy="1336"/><circle cx="1738.5" cy="1381"/><circle cx="1703.5" cy="1231.1"/><circle cx="1721.3" cy="1385.5"/><circle cx="1733.8" cy="1103.6"/><circle cx="1690.1" cy="1408.9"/><circle cx="1721" cy="1410.7"/><circle cx="1732.4" cy="1315.6"/><circle cx="1719.7" cy="1096.4"/><circle cx="1703" cy="1420.6"/><circle cx="1692.9" cy="1430.2"/><circle cx="1759.6" cy="1269.2"/><circle cx="1748.1" cy="1425.3"/><circle cx="1729.8" cy="1440.9"/><circle cx="1743" cy="1382.4"/><circle cx="1689.8" cy="1424.4"/><circle cx="1763.5" cy="1446.7"/><circle cx="1713.6" cy="1367.2"/><circle cx="1721.7" cy="1412.4"/><circle cx="1693" cy="1447"/><circle cx="1712.3" cy="1422.8"/><circle cx="1696.9" cy="1409.4"/><circle cx="1713.6" cy="1442.1"/><circle cx="1719.6" cy="1347.3"/><circle cx="1733.6" cy="1453.5"/><circle cx="1697.9" cy="1408.9"/><circle cx="1753.6" cy="1422.1"/><circle cx="1759.4" cy="1169.7"/><circle cx="1698.1" cy="1444.8"/><circle cx="1699.4" cy="1450.3"/><circle cx="1747.3" cy="1420.6"/><circle cx="1713.3" cy="1129.9"/><circle cx="1708.6" cy="1402"/><circle cx="1708.1" cy="1210"/><circle cx="1702.2" cy="1454.3"/><circle cx="1756.4" cy="1294"/><circle cx="1738.4" cy="1342.7"/><circle cx="1704.4" cy="1112.7"/><circle cx="1763.4" cy="1437.6"/><circle cx="1713" cy="1446.1"/><circle cx="1745.6" cy="1113.8"/><circle cx="1743.4" cy="1152.4"/><circle cx="1721" cy="1395.5"/><circle cx="1738.8" cy="1184"/><circle cx="1709.4" cy="1260.9"/><circle cx="1743.1" cy="1378.5"/><circle cx="1703.4" cy="1403.5"/><circle cx="1697.8" cy="1457.6"/><circle cx="1716.7" cy="1352.7"/><circle cx="1741.3" cy="1333.4"/><circle cx="1741.9" cy="1375.9"/><circle cx="1709.2" cy="1324.6"/><circle cx="1690.6" cy="1401.7"/><circle cx="1729.7" cy="1431.6"/><circle cx="1744.6" cy="1138"/><circle cx="1691" cy="1449.8"/><circle cx="1698.7" cy="1427.5"/><circle cx="1722.6" cy="1435.2"/><circle cx="1702.8" cy="1370.1"/><circle cx="1717.1" cy="1403.8"/><circle cx="1701.6" cy="1380.1"/><circle cx="1741.1" cy="1403.4"/><circle cx="1746.8" cy="1369.6"/><circle cx="1760.1" cy="1446.8"/><circle cx="1690.4" cy="1415.2"/><circle cx="1698.4" cy="1386.6"/><circle cx="1754.2" cy="1370.6"/><circle cx="1740.3" cy="1407"/><circle cx="1740" cy="1453.2"/><circle cx="1689.4" cy="1346"/><circle cx="1763.2" cy="1399"/><circle cx="1712" cy="1124.5"/><circle cx="1692.2" cy="1418.5"/><circle cx="1696.3" cy="1351.2"/><circle cx="1699" cy="1454.3"/><circle cx="1737" cy="1349.7"/><circle cx="1719.3" cy="1451.4"/><circle cx="1711" cy="1368.9"/><circle cx="1700.7" cy="1363.3"/><circle cx="1708.9" cy="1342.5"/><circle cx="1749.1" cy="1399.1"/><circle cx="1715.8" cy="1401.2"/><circle cx="1688.7" cy="1445.3"/><circle cx="1763.3" cy="1429.7"/><circle cx="1760.3" cy="1276.7"/><circle cx="1716.2" cy="1131.7"/><circle cx="1737" cy="1419.6"/><circle cx="1695.1" cy="1389.2"/><circle cx="1731.2" cy="1425.7"/><circle cx="1692.1" cy="1426"/><circle cx="1705.9" cy="1290"/><circle cx="1759.1" cy="1248.6"/><circle cx="1698" cy="1368"/><circle cx="1727.8" cy="1214.1"/><circle cx="1733.1" cy="1465.8"/><circle cx="1704.9" cy="1177.8"/><circle cx="1760.6" cy="1447.2"/><circle cx="1726.2" cy="1458.8"/><circle cx="1694" cy="1445.7"/><circle cx="1746" cy="1429.6"/><circle cx="1723.9" cy="1388.5"/><circle cx="1701.2" cy="1452.4"/><circle cx="1715" cy="1173.1"/><circle cx="1730.2" cy="1407.1"/><circle cx="1725.5" cy="1106.5"/><circle cx="1721.2" cy="1343"/><circle cx="1688.5" cy="1429.1"/><circle cx="1695.6" cy="1435.5"/><circle cx="1719.5" cy="1266"/><circle cx="1761.7" cy="1379.3"/><circle cx="1701.1" cy="1448.2"/><circle cx="1706.1" cy="1427.6"/><circle cx="1722.5" cy="1444.7"/><circle cx="1711.4" cy="1374.5"/><circle cx="1754.5" cy="1193.2"/><circle cx="1745.1" cy="1415.5"/><circle cx="1740.2" cy="1457"/><circle cx="1698.6" cy="1148.8"/><circle cx="1715.9" cy="1252.6"/><circle cx="1747.8" cy="1455.3"/><circle cx="1730.4" cy="1426.1"/><circle cx="1699" cy="1413.7"/><circle cx="1752.2" cy="1104.7"/><circle cx="1757.4" cy="1455.5"/><circle cx="1745.7" cy="1094.5"/><circle cx="1733" cy="1366.8"/><circle cx="1700.5" cy="1411.6"/><circle cx="1714.7" cy="1410.9"/><circle cx="1721.6" cy="1355.5"/><circle cx="1731.2" cy="1422.4"/><circle cx="1728.8" cy="1423.9"/><circle cx="1699" cy="1291"/><circle cx="1733.2" cy="1420.9"/><circle cx="1749.1" cy="1272.7"/><circle cx="1704.1" cy="1419"/><circle cx="1693.6" cy="1350.6"/><circle cx="1717.6" cy="1467.4"/><circle cx="1717.6" cy="1388.6"/><circle cx="1757.9" cy="1406.5"/><circle cx="1708.2" cy="1299.8"/><circle cx="1746.5" cy="1370.2"/><circle cx="1750.2" cy="1357.9"/><circle cx="1698.1" cy="1439"/><circle cx="1756.6" cy="1223.7"/><circle cx="1731.5" cy="1257.9"/><circle cx="1753.2" cy="1394.5"/><circle cx="1747.6" cy="1357.3"/><circle cx="1724.8" cy="1427.4"/><circle cx="1751.9" cy="1426.9"/><circle cx="1712.8" cy="1385.7"/><circle cx="1712.3" cy="1406.5"/><circle cx="1733.2" cy="1444.5"/><circle cx="1716.4" cy="1207.7"/><circle cx="1704" cy="1341.8"/><circle cx="1748.9" cy="1436.7"/><circle cx="1749.4" cy="1154.3"/><circle cx="1694.3" cy="1380.1"/><circle cx="1741.4" cy="1403"/><circle cx="1757.4" cy="1219.2"/><circle cx="1749.3" cy="1447.1"/><circle cx="1699.1" cy="1448.5"/><circle cx="1694.7" cy="1112.4"/><circle cx="1721.7" cy="1445"/><circle cx="1755.6" cy="1405.6"/><circle cx="1756.9" cy="1112.7"/><circle cx="1885.6" cy="1271.3"/><circle cx="1951.4" cy="1354.5"/><circle cx="1932.2" cy="1420.8"/><circle cx="1933.2" cy="1348.3"/><circle cx="1901.5" cy="1383.3"/><circle cx="1930.9" cy="1208.3"/><circle cx="1954.5" cy="1231.3"/><circle cx="1927.5" cy="1432.1"/><circle cx="1952.5" cy="1434.3"/><circle cx="1935.5" cy="1208.1"/><circle cx="1901.6" cy="1206.5"/><circle cx="1910.1" cy="1198.7"/><circle cx="1903.1" cy="1402.9"/><circle cx="1906.1" cy="1448.4"/><circle cx="1934" cy="1354.3"/><circle cx="1920.5" cy="1140.9"/><circle cx="1951.7" cy="1335.5"/><circle cx="1898.5" cy="1290.4"/><circle cx="1893.5" cy="1463.7"/><circle cx="1890.3" cy="1394.7"/><circle cx="1902.4" cy="1440.7"/><circle cx="1937.5" cy="1455.6"/><circle cx="1896.1" cy="1434"/><circle cx="1931.8" cy="1421"/><circle cx="1952.4" cy="1375.3"/><circle cx="1930.8" cy="1323.4"/><circle cx="1899.2" cy="1356.4"/><circle cx="1941.1" cy="1406.1"/><circle cx="1946.8" cy="1444.4"/><circle cx="1923.4" cy="1376.5"/><circle cx="1912.5" cy="1179.5"/><circle cx="1929.3" cy="1179.4"/><circle cx="1891" cy="1170.7"/><circle cx="1933.3" cy="1183.5"/><circle cx="1900.7" cy="1341.5"/><circle cx="1931.6" cy="1367"/><circle cx="1907" cy="1433.6"/><circle cx="1911.6" cy="1262.2"/><circle cx="1953.6" cy="1337.7"/><circle cx="1909.3" cy="1396.5"/><circle cx="1943" cy="1458.8"/><circle cx="1891.4" cy="1440.1"/><circle cx="1935.7" cy="1288.9"/><circle cx="1889.4" cy="1368.3"/><circle cx="1921.8" cy="1245.6"/><circle cx="1950.5" cy="1450.3"/><circle cx="1903.9" cy="1293.8"/><circle cx="1904.8" cy="1189.8"/><circle cx="1952.7" cy="1463.6"/><circle cx="1916" cy="1118.2"/><circle cx="1931.4" cy="1458.9"/><circle cx="1937.4" cy="1270.1"/><circle cx="1938.2" cy="1359.9"/><circle cx="1956.3" cy="1416.2"/><circle cx="1955.5" cy="1407.4"/><circle cx="1889.4" cy="1462.8"/><circle cx="1887.5" cy="1255.5"/><circle cx="1939.7" cy="1466.9"/><circle cx="1898.9" cy="1133.2"/><circle cx="1936.5" cy="1124.3"/><circle cx="1892.2" cy="1213.5"/><circle cx="1918.3" cy="1448.4"/><circle cx="1916.4" cy="1319.5"/><circle cx="1916.5" cy="1226.3"/><circle cx="1925.5" cy="1395.9"/><circle cx="1893.3" cy="1391.9"/><circle cx="1917.3" cy="1236.6"/><circle cx="1958.3" cy="1467.3"/><circle cx="1888.1" cy="1402.2"/><circle cx="1943.3" cy="1209.3"/><circle cx="1926.5" cy="1232.5"/><circle cx="1897.6" cy="1164.4"/><circle cx="1934.1" cy="1196.6"/><circle cx="1909.3" cy="1436.9"/><circle cx="1919.9" cy="1165"/><circle cx="1899.8" cy="1429.4"/><circle cx="1958.8" cy="1352.1"/><circle cx="1953.9" cy="1340.3"/><circle cx="1921.6" cy="1296.6"/><circle cx="1919.8" cy="1319.6"/><circle cx="1913.2" cy="1432.3"/><circle cx="1927.1" cy="1195.6"/><circle cx="1931.1" cy="1445"/><circle cx="1940.8" cy="1262.8"/><circle cx="1894.6" cy="1474"/><circle cx="1952.4" cy="1181.5"/><circle cx="1889.2" cy="1190.4"/><circle cx="1954" cy="1426.6"/><circle cx="1900" cy="1351.2"/><circle cx="1920.3" cy="1379"/><circle cx="1946.8" cy="1160.4"/><circle cx="1910.3" cy="1420.3"/><circle cx="1891.5" cy="1456.4"/><circle cx="1934.9" cy="1397.6"/><circle cx="1938.5" cy="1416.4"/><circle cx="1914.3" cy="1426.5"/><circle cx="1933.3" cy="1245.7"/><circle cx="1947" cy="1400.4"/><circle cx="1883.8" cy="1446.3"/><circle cx="1932.6" cy="1439.3"/><circle cx="1930.6" cy="1195.1"/><circle cx="1917.8" cy="1383.2"/><circle cx="1898.7" cy="1436.7"/><circle cx="1909.2" cy="1380.4"/><circle cx="1914.4" cy="1451.2"/><circle cx="1945.1" cy="1379.8"/><circle cx="1939.5" cy="1430.9"/><circle cx="1922" cy="1400.5"/><circle cx="1906.4" cy="1161.4"/><circle cx="1949.3" cy="1378.9"/><circle cx="1886.6" cy="1265.3"/><circle cx="1910.8" cy="1413"/><circle cx="1908.8" cy="1438.2"/><circle cx="1920.1" cy="1408.3"/><circle cx="1887" cy="1435.1"/><circle cx="1915.7" cy="1371.2"/><circle cx="1894.4" cy="1295.4"/><circle cx="1888.1" cy="1425.9"/><circle cx="1958.5" cy="1281.5"/><circle cx="1946.5" cy="1369.8"/><circle cx="1908.9" cy="1235.9"/><circle cx="1932.7" cy="1253.7"/><circle cx="1901.6" cy="1151.2"/><circle cx="1950.5" cy="1289.4"/><circle cx="1931.7" cy="1458.4"/><circle cx="1916.7" cy="1409.1"/><circle cx="1905.3" cy="1397.6"/><circle cx="1916.8" cy="1193.5"/><circle cx="1940.1" cy="1196.6"/><circle cx="1942.3" cy="1434.3"/><circle cx="1887.7" cy="1179.7"/><circle cx="1956.8" cy="1394"/><circle cx="1923" cy="1295.4"/><circle cx="1951.7" cy="1297.5"/><circle cx="1887.9" cy="1390.3"/><circle cx="1948.4" cy="1346.8"/><circle cx="1928.1" cy="1381.7"/><circle cx="1890.7" cy="1291"/><circle cx="1883.7" cy="1218.5"/><circle cx="1901.6" cy="1355.8"/><circle cx="1952.6" cy="1190.7"/><circle cx="1933.1" cy="1374.4"/><circle cx="1908.3" cy="1460"/><circle cx="1906.5" cy="1331.1"/><circle cx="1937.8" cy="1413.2"/><circle cx="1913.6" cy="1265.7"/><circle cx="1890.2" cy="1421.8"/><circle cx="1931.8" cy="1308.8"/><circle cx="1921.9" cy="1438.2"/><circle cx="1949.5" cy="1306.9"/><circle cx="1891" cy="1328.5"/><circle cx="1933.5" cy="1286.7"/><circle cx="1941.9" cy="1463.3"/><circle cx="1921.6" cy="1386.1"/><circle cx="1943.9" cy="1262"/><circle cx="1950.5" cy="1386.9"/><circle cx="1939.1" cy="1420.1"/><circle cx="1898.5" cy="1258.2"/><circle cx="1892.9" cy="1293.5"/><circle cx="1924.8" cy="1387.7"/><circle cx="1957.6" cy="1210.2"/><circle cx="1955.7" cy="1292.6"/><circle cx="1918.1" cy="1101.1"/><circle cx="1930.5" cy="1302.5"/><circle cx="1907.1" cy="1128.6"/><circle cx="1931.6" cy="1265.8"/><circle cx="1885" cy="1386.2"/><circle cx="1951.2" cy="1472.1"/><circle cx="1952" cy="1266.4"/><circle cx="1935.2" cy="1390.8"/><circle cx="1894.3" cy="1198.4"/><circle cx="1904.8" cy="1187.3"/><circle cx="1948.9" cy="1214.9"/><circle cx="1906.5" cy="1353.3"/><circle cx="1943.3" cy="1314.5"/><circle cx="1948.4" cy="1310.1"/><circle cx="1937.2" cy="1387"/><circle cx="1906.2" cy="1396.6"/><circle cx="1930.5" cy="1116.9"/><circle cx="1948.2" cy="1475.1"/><circle cx="1937.8" cy="1196.1"/><circle cx="1945.4" cy="1447.8"/><circle cx="1949.5" cy="1450.8"/><circle cx="1923.7" cy="1249"/><circle cx="1934.4" cy="1469.7"/><circle cx="1926.3" cy="1301"/><circle cx="1957.6" cy="1430.5"/><circle cx="1890.7" cy="1201.2"/><circle cx="1885.6" cy="1345.5"/><circle cx="1943.7" cy="1432.3"/><circle cx="1941.9" cy="1336.8"/><circle cx="1929.9" cy="1267.9"/><circle cx="1884.5" cy="1206.6"/><circle cx="1906.6" cy="1467.9"/><circle cx="1947.2" cy="1165.2"/><circle cx="1895" cy="1219.2"/><circle cx="1885.5" cy="1431.9"/><circle cx="1957.4" cy="1328.3"/><circle cx="1924.7" cy="1364.4"/><circle cx="1892.4" cy="1326.5"/><circle cx="1911.5" cy="1430"/><circle cx="1947.7" cy="1166.2"/><circle cx="1947.4" cy="1280.2"/><circle cx="1903" cy="1344.7"/><circle cx="1941.7" cy="1145.7"/><circle cx="1909.2" cy="1403.3"/><circle cx="1897.6" cy="1358.1"/><circle cx="1926.9" cy="1314.1"/><circle cx="1911.9" cy="1321.6"/><circle cx="1942.1" cy="1410.9"/><circle cx="1950.7" cy="1331.6"/><circle cx="1957.1" cy="1390.9"/><circle cx="1940.4" cy="1270.6"/><circle cx="1910.6" cy="1404.9"/><circle cx="1909.7" cy="1386.2"/><circle cx="1897.8" cy="1334.2"/><circle cx="1918.8" cy="1439.3"/><circle cx="1939.7" cy="1354.2"/><circle cx="1887.2" cy="1190.2"/><circle cx="1892.2" cy="1285.2"/><circle cx="1935.8" cy="1375.3"/><circle cx="1902.9" cy="1448.1"/><circle cx="1925.1" cy="1341"/><circle cx="1923.3" cy="1394.4"/><circle cx="1896.2" cy="1402.1"/><circle cx="1950" cy="1275.2"/><circle cx="1918.6" cy="1120.1"/><circle cx="1886.3" cy="1367"/><circle cx="1949.8" cy="1439.2"/><circle cx="1938.7" cy="1292.8"/><circle cx="1896" cy="1386"/><circle cx="1943.8" cy="1205.2"/><circle cx="1892.5" cy="1257.5"/><circle cx="1920.1" cy="1406.3"/><circle cx="1934" cy="1220.3"/><circle cx="1958.5" cy="1359.8"/><circle cx="1955.3" cy="1279.8"/><circle cx="1950.3" cy="1458.8"/><circle cx="1953.7" cy="1423.2"/><circle cx="1892.4" cy="1202.7"/><circle cx="1887.3" cy="1467.1"/><circle cx="1892" cy="1289"/><circle cx="1935" cy="1164.8"/><circle cx="1886.9" cy="1209.7"/><circle cx="1898.8" cy="1444.5"/><circle cx="1887.4" cy="1448.4"/><circle cx="1930.9" cy="1402.1"/><circle cx="1934.5" cy="1458.9"/><circle cx="1901" cy="1322.7"/><circle cx="1902.4" cy="1302.3"/><circle cx="1957.2" cy="1291.4"/><circle cx="1916.2" cy="1219.1"/><circle cx="1903.9" cy="1414.1"/><circle cx="1934.4" cy="1469.7"/><circle cx="1937.9" cy="1440.3"/><circle cx="1923" cy="1221.1"/><circle cx="1890.2" cy="1445.1"/><circle cx="1903.2" cy="1451.7"/><circle cx="1944" cy="1289"/><circle cx="1904.6" cy="1325"/><circle cx="1895.7" cy="1169.7"/><circle cx="1904.6" cy="1226.6"/><circle cx="1940.1" cy="1190.9"/><circle cx="1952.2" cy="1177.6"/><circle cx="1949.5" cy="1470.6"/><circle cx="1950.7" cy="1143.5"/><circle cx="1951.1" cy="1426.2"/><circle cx="1956.6" cy="1453.7"/><circle cx="1947.6" cy="1177.2"/><circle cx="1930.8" cy="1418.9"/><circle cx="1906.2" cy="1445.7"/><circle cx="1958.8" cy="1344.9"/><circle cx="1900.1" cy="1218.4"/><circle cx="1907.6" cy="1413.1"/><circle cx="1941.3" cy="1202.3"/><circle cx="1916.7" cy="1126.1"/><circle cx="1886.8" cy="1359.7"/><circle cx="1925" cy="1432.1"/><circle cx="1949.8" cy="1418.7"/><circle cx="1923.1" cy="1441.9"/><circle cx="1941.4" cy="1388"/><circle cx="1898.6" cy="1397.6"/><circle cx="1942.6" cy="1420.3"/><circle cx="1908.4" cy="1396.1"/><circle cx="1910.5" cy="1426.6"/><circle cx="1939.4" cy="1201.4"/><circle cx="1925.8" cy="1170.1"/><circle cx="1916.2" cy="1389.5"/><circle cx="1910.4" cy="1450.1"/><circle cx="1907.1" cy="1419.9"/><circle cx="1949.8" cy="1290.3"/><circle cx="1927.2" cy="1115.6"/><circle cx="1941.7" cy="1256.5"/><circle cx="1955.6" cy="1458.1"/><circle cx="1917.8" cy="1408.1"/><circle cx="1937.6" cy="1457.9"/><circle cx="1889" cy="1347"/><circle cx="1921.1" cy="1398"/><circle cx="1934.8" cy="1386.9"/><circle cx="1940.8" cy="1421.6"/><circle cx="1930.2" cy="1454.3"/><circle cx="1919.4" cy="1242.1"/><circle cx="1953.8" cy="1409"/><circle cx="1897" cy="1457.4"/><circle cx="1935.5" cy="1436.6"/><circle cx="1913.1" cy="1460.6"/><circle cx="1884.6" cy="1192.6"/><circle cx="1958.7" cy="1441.4"/><circle cx="1941.8" cy="1154.2"/><circle cx="1947.6" cy="1123.3"/><circle cx="1892" cy="1449.2"/><circle cx="1945.6" cy="1238.5"/><circle cx="1917.2" cy="1434.6"/><circle cx="1904.9" cy="1277.3"/><circle cx="1925.5" cy="1128"/><circle cx="1947.7" cy="1383.4"/><circle cx="1954.7" cy="1434.6"/><circle cx="1921.8" cy="1301.6"/><circle cx="1940.4" cy="1325.3"/><circle cx="1946.4" cy="1430.1"/><circle cx="1932.2" cy="1357.6"/><circle cx="1958" cy="1371.8"/><circle cx="1918.2" cy="1394.7"/><circle cx="1891.3" cy="1402.8"/><circle cx="1917.2" cy="1166.7"/><circle cx="1923.2" cy="1301.4"/><circle cx="1940.8" cy="1394.7"/><circle cx="1946.3" cy="1346.2"/><circle cx="1887" cy="1316.9"/><circle cx="1901.5" cy="1195.3"/><circle cx="1895.3" cy="1386.2"/><circle cx="1952.1" cy="1225.1"/><circle cx="1891.2" cy="1443.5"/><circle cx="1949.1" cy="1269.4"/><circle cx="1898.1" cy="1282.1"/><circle cx="1949" cy="1470.7"/><circle cx="1921.9" cy="1308.9"/><circle cx="1944.1" cy="1456.8"/><circle cx="1955.4" cy="1173.7"/><circle cx="1958" cy="1350.1"/><circle cx="1889.8" cy="1444.8"/><circle cx="1950.2" cy="1268.2"/><circle cx="1939.8" cy="1424.2"/><circle cx="1910.3" cy="1457.6"/><circle cx="1899.3" cy="1347"/><circle cx="1932.6" cy="1232.9"/><circle cx="1936.2" cy="1276.4"/><circle cx="1893.9" cy="1231.2"/><circle cx="1938.6" cy="1278.2"/><circle cx="1925.3" cy="1400.1"/><circle cx="1935" cy="1434.2"/><circle cx="1946.3" cy="1410"/><circle cx="1918.4" cy="1215.3"/><circle cx="1953.3" cy="1466.4"/><circle cx="1926.8" cy="1456.3"/><circle cx="1904" cy="1168.5"/><circle cx="1911.5" cy="1471.5"/><circle cx="1905.9" cy="1350"/><circle cx="1954.6" cy="1181"/><circle cx="1933" cy="1365.7"/><circle cx="1924.3" cy="1262.7"/><circle cx="1952.6" cy="1463.7"/><circle cx="1929.2" cy="1265.3"/><circle cx="1922" cy="1321.2"/><circle cx="1917.3" cy="1313.9"/><circle cx="1949" cy="1423.7"/><circle cx="1922.6" cy="1324.8"/><circle cx="1911.4" cy="1253"/><circle cx="1898.8" cy="1208.8"/><circle cx="1905.8" cy="1456.3"/><circle cx="1942.2" cy="1186.3"/><circle cx="1899.3" cy="1277.4"/><circle cx="1947.8" cy="1354.6"/><circle cx="1944.6" cy="1266.3"/><circle cx="1901.8" cy="1261.1"/><circle cx="1892.2" cy="1351.9"/><circle cx="1947.3" cy="1200.5"/><circle cx="1927.6" cy="1192.8"/><circle cx="1947.4" cy="1228.3"/><circle cx="1954.6" cy="1433.6"/><circle cx="1897.3" cy="1399.8"/><circle cx="1932.8" cy="1167.5"/><circle cx="1902.7" cy="1344.8"/><circle cx="1921" cy="1441.7"/><circle cx="1892.7" cy="1229.4"/><circle cx="1943.8" cy="1440.8"/><circle cx="1913" cy="1130.7"/><circle cx="1894.6" cy="1301.5"/><circle cx="1892.6" cy="1145.4"/><circle cx="1915" cy="1415.6"/><circle cx="1906.7" cy="1188.1"/><circle cx="1936.7" cy="1417.1"/><circle cx="1896.7" cy="1456.4"/><circle cx="1906.7" cy="1257.6"/><circle cx="1953.5" cy="1160.6"/><circle cx="1909.8" cy="1165.9"/><circle cx="1893.2" cy="1447.4"/><circle cx="1897.9" cy="1349.7"/><circle cx="1951.6" cy="1298.1"/><circle cx="1895.7" cy="1415.4"/><circle cx="1899.4" cy="1268.9"/><circle cx="1927.3" cy="1401.9"/><circle cx="1911.2" cy="1197.2"/><circle cx="1887" cy="1346.7"/><circle cx="1914.9" cy="1390.7"/><circle cx="1899.8" cy="1375"/><circle cx="1914.5" cy="1393.9"/><circle cx="1926.8" cy="1378.8"/><circle cx="1920.8" cy="1283.6"/><circle cx="1893" cy="1412.2"/><circle cx="1934.3" cy="1466.2"/><circle cx="1899.4" cy="1292.1"/><circle cx="1944.6" cy="1386.2"/><circle cx="1921.3" cy="1198.4"/><circle cx="1886.6" cy="1466.7"/><circle cx="1958.5" cy="1251.1"/><circle cx="1902.1" cy="1418.1"/><circle cx="1884.1" cy="1224.7"/><circle cx="1947.5" cy="1413.5"/><circle cx="1915.8" cy="1449.1"/><circle cx="1911.6" cy="1307.7"/><circle cx="1940.9" cy="1435.1"/><circle cx="1959" cy="1233.8"/><circle cx="1894.2" cy="1350.7"/><circle cx="1943.6" cy="1205"/><circle cx="1957.7" cy="1294.9"/><circle cx="1954.1" cy="1385.6"/><circle cx="1906.7" cy="1328.2"/><circle cx="1887.4" cy="1459.7"/><circle cx="1921.8" cy="1452.6"/><circle cx="1930.3" cy="1429"/><circle cx="1901.4" cy="1368.9"/><circle cx="1928.5" cy="1180.3"/><circle cx="1886" cy="1472.1"/><circle cx="1948.3" cy="1426.5"/><circle cx="1910.4" cy="1454.2"/><circle cx="1887.4" cy="1222.1"/><circle cx="1903.9" cy="1187"/><circle cx="1950.8" cy="1350.9"/><circle cx="1898.1" cy="1433.9"/><circle cx="1902.9" cy="1218.7"/><circle cx="1909.1" cy="1411.7"/><circle cx="1916.4" cy="1321"/><circle cx="1897.7" cy="1235.8"/><circle cx="1900.7" cy="1410.1"/><circle cx="1943.5" cy="1434.8"/><circle cx="1928.9" cy="1457.5"/><circle cx="1899.7" cy="1168.6"/><circle cx="1957.5" cy="1462.7"/><circle cx="1909.3" cy="1222.1"/><circle cx="1924.9" cy="1156.5"/><circle cx="1931.7" cy="1393.3"/><circle cx="1957.5" cy="1447.2"/><circle cx="1936" cy="1288.7"/><circle cx="1948.1" cy="1437.5"/><circle cx="1914" cy="1388.9"/><circle cx="1906.5" cy="1411.8"/><circle cx="1940.9" cy="1270.2"/><circle cx="1929.5" cy="1260.9"/><circle cx="1916.9" cy="1320.7"/><circle cx="1891.4" cy="1371.6"/><circle cx="1917.5" cy="1264.4"/><circle cx="1889.3" cy="1440"/><circle cx="1938.4" cy="1436.5"/><circle cx="1900.7" cy="1441.3"/><circle cx="1923.4" cy="1438.3"/><circle cx="1919.3" cy="1385.5"/><circle cx="1884.1" cy="1445.9"/><circle cx="1956.3" cy="1164.2"/><circle cx="1898.8" cy="1457.3"/><circle cx="1939.1" cy="1160"/><circle cx="1953.3" cy="1236.4"/><circle cx="1919.4" cy="1350.8"/><circle cx="1908.2" cy="1363.3"/><circle cx="1889.9" cy="1234.4"/><circle cx="1906.2" cy="1412.4"/><circle cx="1917.9" cy="1225.4"/><circle cx="1913.6" cy="1390.1"/><circle cx="1900.1" cy="1231.1"/><circle cx="1930.1" cy="1367.8"/><circle cx="1942.2" cy="1118.6"/><circle cx="1913.3" cy="1322.2"/><circle cx="1901.1" cy="1309.2"/><circle cx="1906.1" cy="1431.7"/><circle cx="1898.5" cy="1097.9"/><circle cx="1956" cy="1458.4"/><circle cx="1948.7" cy="1465.2"/><circle cx="1889.5" cy="1406.5"/><circle cx="1893" cy="1113.9"/><circle cx="1945.5" cy="1426.7"/><circle cx="1920.2" cy="1457.6"/><circle cx="1907.5" cy="1413.9"/><circle cx="1953.5" cy="1252"/><circle cx="1914.2" cy="1238"/><circle cx="1915.9" cy="1456.2"/><circle cx="1949" cy="1393.5"/><circle cx="1939.3" cy="1390.8"/><circle cx="1924.2" cy="1441.2"/><circle cx="1885.4" cy="1445.1"/><circle cx="1922.1" cy="1413.9"/><circle cx="1946" cy="1400.4"/><circle cx="1923.4" cy="1326.6"/><circle cx="1896.2" cy="1304.3"/><circle cx="1930.3" cy="1323.1"/><circle cx="1942" cy="1392.1"/><circle cx="1922.6" cy="1441"/><circle cx="1920.9" cy="1450.8"/><circle cx="1943.2" cy="1446.8"/><circle cx="1908.9" cy="1267.1"/><circle cx="1905.4" cy="1438.4"/><circle cx="1914.1" cy="1381.2"/><circle cx="1909.8" cy="1429.8"/><circle cx="1933.8" cy="1426"/><circle cx="1940.8" cy="1262.3"/><circle cx="1922.3" cy="1238.9"/><circle cx="1953.4" cy="1358.4"/><circle cx="1948.7" cy="1317.8"/><circle cx="1948" cy="1313.1"/><circle cx="1938.8" cy="1233.9"/><circle cx="1955.1" cy="1475"/><circle cx="1905.4" cy="1425.1"/><circle cx="1935.8" cy="1236"/><circle cx="1913.8" cy="1096.8"/><circle cx="1916.2" cy="1283"/><circle cx="1956.9" cy="1219.8"/><circle cx="1923.5" cy="1439.4"/><circle cx="1927.7" cy="1462.5"/><circle cx="1892.2" cy="1154.7"/><circle cx="1942.9" cy="1430.3"/><circle cx="1904.7" cy="1423.4"/><circle cx="1916.7" cy="1312.9"/><circle cx="1902.2" cy="1368.1"/><circle cx="1933" cy="1209.1"/><circle cx="1900.7" cy="1430.5"/><circle cx="1926.7" cy="1440.8"/><circle cx="1915.8" cy="1456"/><circle cx="1927.3" cy="1237.4"/><circle cx="1949.8" cy="1304.5"/><circle cx="1920" cy="1293.3"/><circle cx="1929.2" cy="1425.5"/><circle cx="1928" cy="1437.3"/><circle cx="1898.4" cy="1269.8"/><circle cx="1946.7" cy="1232.2"/><circle cx="1922.6" cy="1420.9"/><circle cx="1947.1" cy="1415.2"/><circle cx="1887.7" cy="1236.5"/><circle cx="1922" cy="1231"/><circle cx="1907.2" cy="1441.4"/><circle cx="1889.7" cy="1426.6"/><circle cx="1955.6" cy="1255.2"/><circle cx="1934.2" cy="1279.9"/><circle cx="1950.2" cy="1401"/><circle cx="1928.4" cy="1232.9"/><circle cx="1909.4" cy="1287.3"/><circle cx="1920.2" cy="1389.2"/><circle cx="1891.9" cy="1376.2"/><circle cx="1930.2" cy="1435.5"/><circle cx="1934.1" cy="1395.7"/><circle cx="1925" cy="1450.6"/><circle cx="1940.6" cy="1368.1"/><circle cx="1906.4" cy="1456.9"/><circle cx="1951.4" cy="1471.9"/><circle cx="1934.4" cy="1131.5"/><circle cx="1901.4" cy="1446.9"/><circle cx="1934.5" cy="1414.2"/><circle cx="1936.1" cy="1187.8"/><circle cx="1952.2" cy="1455.4"/><circle cx="1919.9" cy="1340.3"/><circle cx="1901.3" cy="1375.6"/><circle cx="1894" cy="1335.4"/><circle cx="1908.7" cy="1304"/><circle cx="1915.6" cy="1376.2"/><circle cx="1939.9" cy="1177.7"/><circle cx="1888.2" cy="1309.9"/><circle cx="1891.9" cy="1443.9"/><circle cx="1939.6" cy="1339"/><circle cx="1898.7" cy="1460.2"/><circle cx="1885.4" cy="1426.6"/><circle cx="1890.3" cy="1177"/><circle cx="1932.6" cy="1459.6"/><circle cx="1928" cy="1409.2"/><circle cx="1953.9" cy="1457.7"/><circle cx="1894.5" cy="1182.2"/><circle cx="1933.7" cy="1459.5"/><circle cx="1888.8" cy="1346.1"/><circle cx="1945.1" cy="1383.7"/><circle cx="1921.9" cy="1188.5"/><circle cx="1887.6" cy="1460.9"/><circle cx="1883.9" cy="1469.5"/><circle cx="1955.2" cy="1219.4"/><circle cx="1919.5" cy="1439.6"/><circle cx="1952.8" cy="1388.7"/><circle cx="1893.6" cy="1173"/><circle cx="1919.4" cy="1414.5"/><circle cx="1935.9" cy="1435"/><circle cx="1888.1" cy="1218.7"/><circle cx="1925.9" cy="1231.6"/><circle cx="1956.2" cy="1102"/><circle cx="1902.6" cy="1236.7"/><circle cx="1902.9" cy="1329.4"/><circle cx="1902.6" cy="1435.7"/><circle cx="1923.2" cy="1258.4"/><circle cx="1908.8" cy="1350.4"/><circle cx="1928.2" cy="1392.3"/><circle cx="1956.6" cy="1336"/><circle cx="1890.1" cy="1444.1"/><circle cx="1954.5" cy="1159.1"/><circle cx="1942.4" cy="1402.8"/><circle cx="1931.1" cy="1162.4"/><circle cx="1911.4" cy="1243.8"/><circle cx="1941.3" cy="1306.9"/><circle cx="1894.2" cy="1422.2"/><circle cx="1885.2" cy="1283.1"/><circle cx="1926.9" cy="1404"/><circle cx="1899.6" cy="1168.8"/><circle cx="1904.2" cy="1405.3"/><circle cx="1906.7" cy="1201"/><circle cx="1909" cy="1461"/><circle cx="1926.5" cy="1228.8"/><circle cx="1949" cy="1375.1"/><circle cx="1951.7" cy="1329.1"/><circle cx="1922.9" cy="1319.7"/><circle cx="1895.1" cy="1113"/><circle cx="1910" cy="1319.9"/><circle cx="1956.5" cy="1145.9"/><circle cx="1892.9" cy="1279.7"/><circle cx="1944.1" cy="1386.3"/><circle cx="1926.9" cy="1167.6"/><circle cx="1941.8" cy="1256.5"/><circle cx="1943.9" cy="1283.6"/><circle cx="1926" cy="1168.8"/><circle cx="1945.4" cy="1438.5"/><circle cx="1944.5" cy="1440"/><circle cx="1946.8" cy="1327.5"/><circle cx="1949.9" cy="1407.8"/><circle cx="1894.8" cy="1443.9"/><circle cx="1920" cy="1424.7"/><circle cx="1958.3" cy="1462.1"/><circle cx="1905.1" cy="1215.2"/><circle cx="1908.5" cy="1449.2"/><circle cx="1947.6" cy="1464.7"/><circle cx="1941.8" cy="1350.4"/><circle cx="1943.9" cy="1426.1"/><circle cx="1947.6" cy="1444.7"/><circle cx="1958.8" cy="1366.6"/><circle cx="1895.5" cy="1393.5"/><circle cx="1923.7" cy="1399.8"/><circle cx="1914.5" cy="1301.3"/><circle cx="1913.8" cy="1442.4"/><circle cx="1947.5" cy="1377.8"/><circle cx="1958.3" cy="1168.1"/><circle cx="1936.2" cy="1405.3"/><circle cx="1885.4" cy="1266.9"/><circle cx="1914.9" cy="1402.3"/><circle cx="1955.1" cy="1430.5"/><circle cx="1923" cy="1398.9"/><circle cx="1900.4" cy="1457.2"/><circle cx="1893" cy="1421.3"/><circle cx="1898.4" cy="1416.4"/><circle cx="1890.2" cy="1217.1"/><circle cx="1945.3" cy="1204.8"/><circle cx="1934.3" cy="1251.7"/><circle cx="1931.2" cy="1376.3"/><circle cx="1942" cy="1457.1"/><circle cx="1918.5" cy="1288.2"/><circle cx="1942.8" cy="1374.2"/><circle cx="1944.2" cy="1228.6"/><circle cx="1934.8" cy="1379.5"/><circle cx="1897.6" cy="1461.2"/><circle cx="1956.2" cy="1366.4"/><circle cx="1920.9" cy="1448.9"/><circle cx="1938.4" cy="1183.6"/><circle cx="1903.8" cy="1460.5"/><circle cx="1892" cy="1389.4"/><circle cx="1887.7" cy="1446.9"/><circle cx="1888.1" cy="1347.5"/><circle cx="1957.2" cy="1460.5"/><circle cx="1890.1" cy="1116.3"/><circle cx="1894.3" cy="1305.3"/><circle cx="1951.9" cy="1213.3"/><circle cx="1884.3" cy="1401.3"/><circle cx="1946.1" cy="1409"/><circle cx="1942.2" cy="1394.9"/><circle cx="1952.4" cy="1465.9"/><circle cx="1932.1" cy="1285.6"/><circle cx="1902.8" cy="1357.2"/><circle cx="1958.4" cy="1321.7"/><circle cx="1942.1" cy="1416.6"/><circle cx="1903.6" cy="1459.8"/><circle cx="1904.3" cy="1299.1"/><circle cx="1941.4" cy="1214.2"/><circle cx="1925.2" cy="1396.7"/><circle cx="1950.9" cy="1395.5"/><circle cx="1910.6" cy="1427"/><circle cx="1898.4" cy="1432.8"/><circle cx="1939.7" cy="1262.4"/><circle cx="1888.3" cy="1357.4"/><circle cx="1906.7" cy="1110"/><circle cx="1915.1" cy="1324"/><circle cx="1925.9" cy="1440.6"/><circle cx="1922.6" cy="1426.5"/><circle cx="1950.6" cy="1294.6"/><circle cx="1946.1" cy="1406.4"/><circle cx="1896" cy="1281"/><circle cx="1894.4" cy="1303.4"/><circle cx="1933.3" cy="1242.2"/><circle cx="1911.9" cy="1328.5"/><circle cx="1957.6" cy="1376.1"/><circle cx="1906.2" cy="1373.2"/><circle cx="1898.6" cy="1426.1"/><circle cx="1909.6" cy="1437.3"/><circle cx="1936.7" cy="1214.1"/><circle cx="1926.4" cy="1292.7"/><circle cx="1902.4" cy="1340.9"/><circle cx="1952.2" cy="1238.2"/><circle cx="1954.1" cy="1454"/><circle cx="1944.7" cy="1329.7"/><circle cx="1906.1" cy="1210.8"/><circle cx="1888" cy="1342.2"/><circle cx="1932.3" cy="1191.8"/>
</g>
<path d="M1725.8 1332.6V1188.8M1725.8 1429.9V1468.8" stroke="#dc2626" stroke-width="1.5" fill="none" opacity="0.92"/>
<rect x="1652.5" y="1332.6" width="146.6" height="97.3" stroke="#dc2626" stroke-width="1.4" fill="none" opacity="0.88"/>
<line x1="1652.5" y1="1399.3" x2="1799.1" y2="1399.3" stroke="#dc2626" stroke-width="2.8" opacity="0.92"/>
<g class="op" fill="#dc2626"><circle cx="1725.8" cy="1153.4"/><circle cx="1725.8" cy="1097"/><circle cx="1725.8" cy="1167.4"/><circle cx="1725.8" cy="1101"/><circle cx="1725.8" cy="1182.3"/><circle cx="1725.8" cy="1135.9"/><circle cx="1725.8" cy="1096.3"/><circle cx="1725.8" cy="1110.6"/><circle cx="1725.8" cy="1119.7"/><circle cx="1725.8" cy="1138.6"/><circle cx="1725.8" cy="1111.1"/><circle cx="1725.8" cy="1116.5"/><circle cx="1725.8" cy="1167.7"/><circle cx="1725.8" cy="1116.4"/><circle cx="1725.8" cy="1107.8"/><circle cx="1725.8" cy="1120.3"/><circle cx="1725.8" cy="1160.7"/><circle cx="1725.8" cy="1146.4"/><circle cx="1725.8" cy="1163"/><circle cx="1725.8" cy="1148.1"/><circle cx="1725.8" cy="1145"/><circle cx="1725.8" cy="1108.4"/><circle cx="1725.8" cy="1113.6"/><circle cx="1725.8" cy="1166.2"/><circle cx="1725.8" cy="1108"/><circle cx="1725.8" cy="1117.9"/><circle cx="1725.8" cy="1151.8"/><circle cx="1725.8" cy="1128.7"/><circle cx="1725.8" cy="1172.5"/><circle cx="1725.8" cy="1167.2"/><circle cx="1725.8" cy="1158.1"/><circle cx="1725.8" cy="1111.1"/><circle cx="1725.8" cy="1165.5"/><circle cx="1725.8" cy="1157"/><circle cx="1725.8" cy="1135"/><circle cx="1725.8" cy="1144.2"/><circle cx="1725.8" cy="1163.3"/><circle cx="1725.8" cy="1134.2"/><circle cx="1725.8" cy="1090.5"/><circle cx="1725.8" cy="1135.7"/><circle cx="1725.8" cy="1103"/><circle cx="1725.8" cy="1105.1"/><circle cx="1725.8" cy="1168.4"/><circle cx="1725.8" cy="1136.7"/><circle cx="1725.8" cy="1142.2"/><circle cx="1725.8" cy="1107.2"/><circle cx="1725.8" cy="1117.9"/><circle cx="1725.8" cy="1124.4"/><circle cx="1725.8" cy="1099.9"/><circle cx="1725.8" cy="1172.4"/><circle cx="1725.8" cy="1171.5"/><circle cx="1725.8" cy="1137.7"/><circle cx="1725.8" cy="1122.1"/><circle cx="1725.8" cy="1121.1"/><circle cx="1725.8" cy="1103.2"/><circle cx="1725.8" cy="1166.2"/><circle cx="1725.8" cy="1172.8"/><circle cx="1725.8" cy="1150.3"/><circle cx="1725.8" cy="1118.6"/><circle cx="1725.8" cy="1154.8"/></g>
<path d="M1921.3 1259.9V1097.5M1921.3 1429.1V1475.6" stroke="#dc2626" stroke-width="1.5" fill="none" opacity="0.92"/>
<rect x="1847.7" y="1259.9" width="147.2" height="169.2" stroke="#dc2626" stroke-width="1.4" fill="none" opacity="0.88"/>
<line x1="1847.7" y1="1375.5" x2="1994.9" y2="1375.5" stroke="#dc2626" stroke-width="2.8" opacity="0.92"/>
</g>
<line x1="1745.5" y1="1097.8" x2="1901.3" y2="1097.8" stroke="#767676" stroke-width="2"/>
<text class="pl m" x="1826.6" y="1090.6"><tspan font-style="italic">P</tspan> = 0.002458</text>
<path d="M1610 1494.6V1067.6H2038.2" stroke="#a6a6a6" stroke-width="1.4" fill="none"/>
<path d="M1609.3 1494.6H2038.2V1066.9" stroke="#717171" stroke-width="1.6" fill="none"/>
<path d="M1610 1475.6h-4M1610 1376.3h-4M1610 1277h-4M1610 1177.7h-4M1610 1078.4h-4M1725.8 1494.6v4.2M1921.3 1494.6v4.2" stroke="#333" stroke-width="1.2" fill="none"/>
<text class="tk e" style="font-size:13.7px" x="1600.2" y="1480.4">0</text>
<text class="tk e" style="font-size:13.7px" x="1600.2" y="1381.1">25</text>
<text class="tk e" style="font-size:13.7px" x="1600.2" y="1281.8">50</text>
<text class="tk e" style="font-size:13.7px" x="1600.2" y="1182.5">75</text>
<text class="tk e" style="font-size:13.7px" x="1600.2" y="1083.2">100</text>
<text class="ax m" x="1725.8" y="1514.4">Opposite strand</text>
<text class="ax m" x="1921.3" y="1514.4">Same strand</text>
<text class="tt" x="1611.5" y="1055.8">BE: GUARD RNA strand relative to gRNA</text>
<text class="ax m" transform="translate(1571.6 1276.2) rotate(-90)">BE (%)</text>
</g>
<text class="lab" transform="translate(-1.2 1054.6) scale(1 1.055)">c</text>
<text class="lab" transform="translate(1035.3 1054.6) scale(1.045 1)">d</text>
</svg></body></html>
